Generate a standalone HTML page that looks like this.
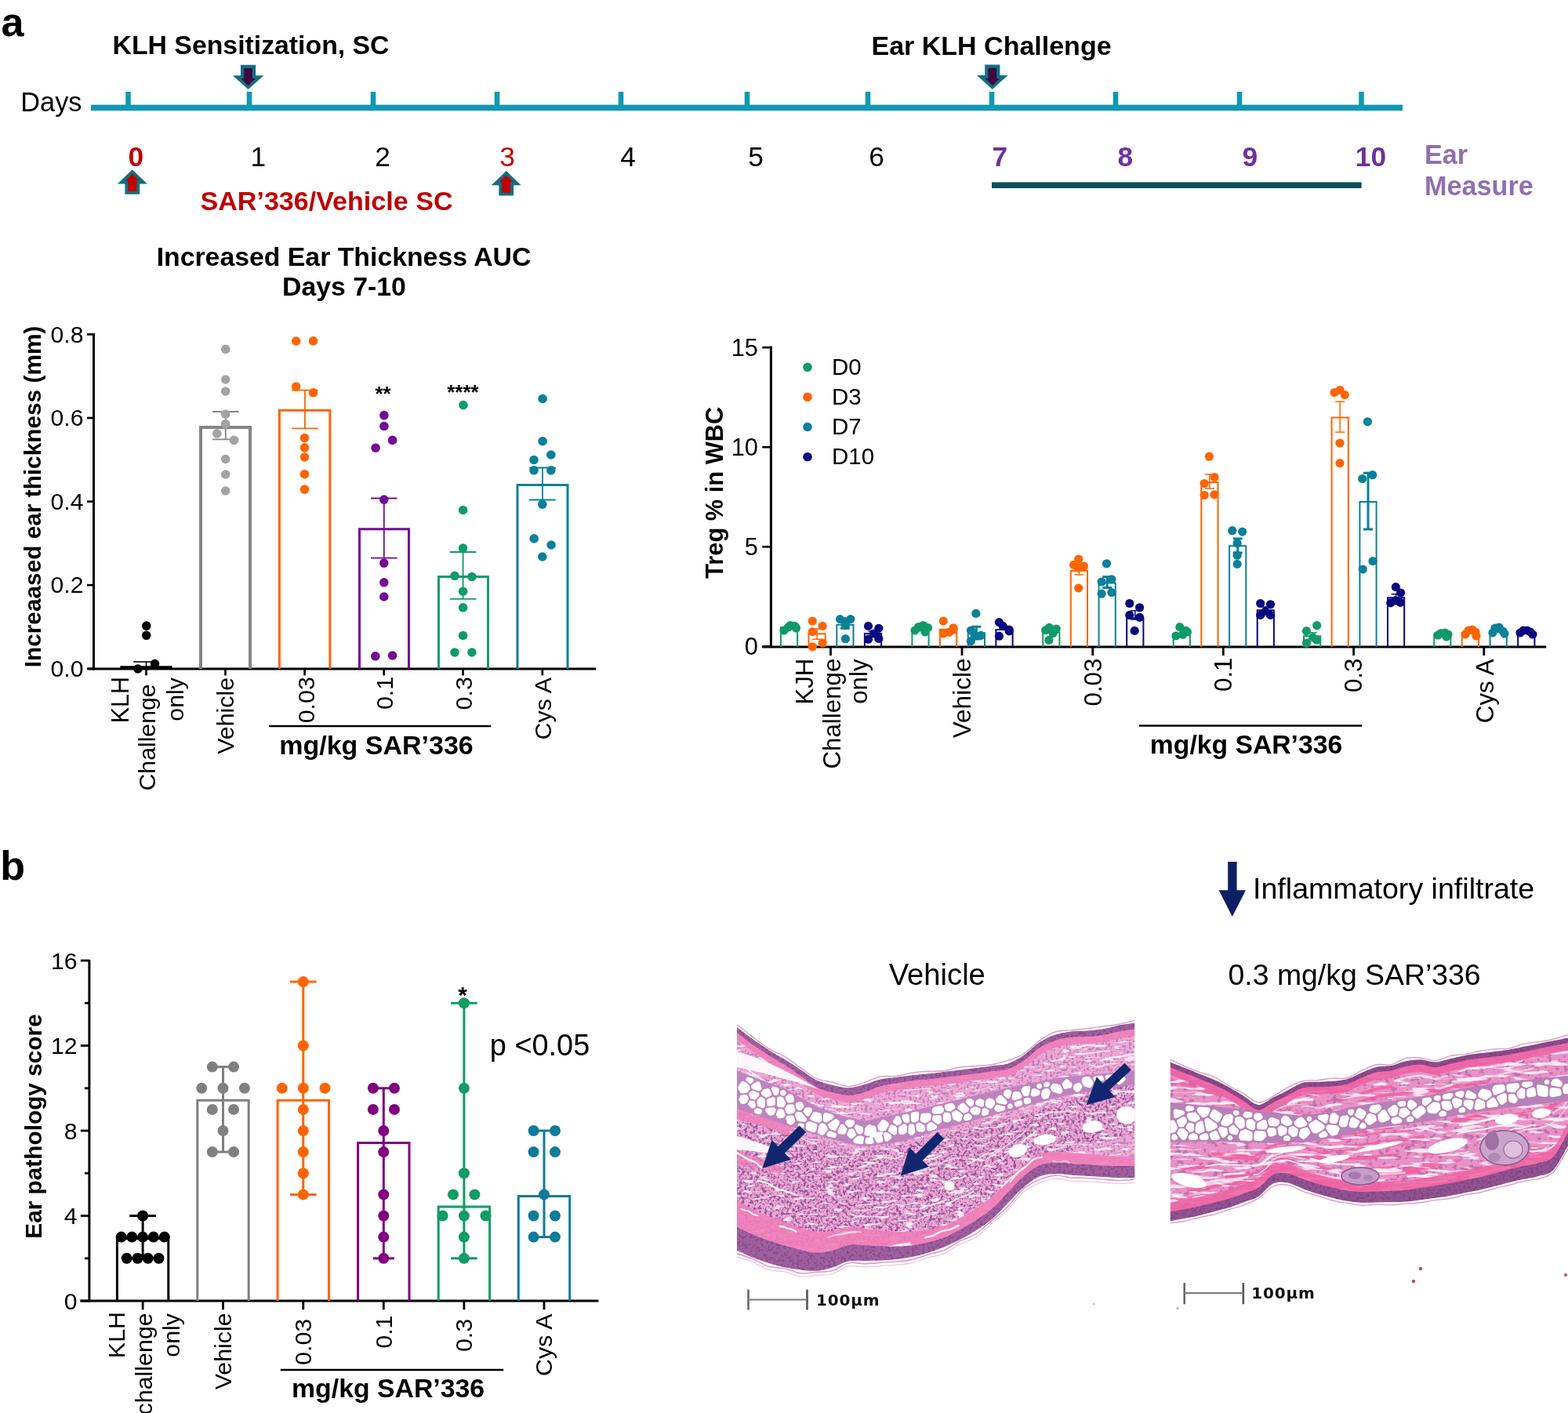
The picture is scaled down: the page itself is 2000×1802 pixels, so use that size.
<!DOCTYPE html>
<html><head><meta charset="utf-8"><title>Figure</title>
<style>
html,body{margin:0;padding:0;background:#fff;}
body{width:2000px;height:1802px;overflow:hidden;}
svg{display:block;font-family:'Liberation Sans', Arial, Helvetica, sans-serif;}
</style></head>
<body>
<svg width="2000" height="1802" viewBox="0 0 2000 1802">
<rect width="2000" height="1802" fill="#fff"/>
<text x="1.5" y="45.5" font-size="52" font-weight="bold" fill="#000" text-anchor="start" >a</text>
<text x="143.5" y="69.0" font-size="33.8" font-weight="bold" fill="#000" text-anchor="start" >KLH Sensitization, SC</text>
<text x="1111.5" y="69.5" font-size="34" font-weight="bold" fill="#000" text-anchor="start" >Ear KLH Challenge</text>
<text x="26.3" y="141.5" font-size="34.3" fill="#000" text-anchor="start" >Days</text>
<rect x="116.0" y="133.6" width="1673.0" height="7.6" fill="#1198b3"/>
<rect x="160.2" y="117.0" width="6.6" height="18.0" fill="#1198b3"/>
<rect x="314.7" y="117.0" width="6.6" height="18.0" fill="#1198b3"/>
<rect x="472.7" y="117.0" width="6.6" height="18.0" fill="#1198b3"/>
<rect x="630.7" y="117.0" width="6.6" height="18.0" fill="#1198b3"/>
<rect x="788.7" y="117.0" width="6.6" height="18.0" fill="#1198b3"/>
<rect x="949.7" y="117.0" width="6.6" height="18.0" fill="#1198b3"/>
<rect x="1103.7" y="117.0" width="6.6" height="18.0" fill="#1198b3"/>
<rect x="1261.7" y="117.0" width="6.6" height="18.0" fill="#1198b3"/>
<rect x="1419.7" y="117.0" width="6.6" height="18.0" fill="#1198b3"/>
<rect x="1577.7" y="117.0" width="6.6" height="18.0" fill="#1198b3"/>
<rect x="1733.2" y="117.0" width="6.6" height="18.0" fill="#1198b3"/>
<polygon points="307.0,82.7 326.2,82.7 326.2,96.2 336.4,96.2 316.6,114.0 296.8,96.2 307.0,96.2" fill="#146f80"/><polygon points="311.3,86.9 321.9,86.9 321.9,100.1 325.8,100.1 316.6,109.3 307.4,100.1 311.3,100.1" fill="#3e0840"/>
<polygon points="1256.2,82.6 1275.4,82.6 1275.4,96.1 1285.6,96.1 1265.8,113.9 1246.0,96.1 1256.2,96.1" fill="#146f80"/><polygon points="1260.5,86.8 1271.1,86.8 1271.1,100.0 1275.0,100.0 1265.8,109.2 1256.6,100.0 1260.5,100.0" fill="#3e0840"/>
<polygon points="168.8,216.2 187.8,234.5 178.2,234.5 178.2,247.8 159.4,247.8 159.4,234.5 149.8,234.5" fill="#146f80"/><polygon points="168.8,221.8 177.8,230.3 174.3,230.3 174.3,244.0 163.3,244.0 163.3,230.3 159.8,230.3" fill="#c00000"/>
<polygon points="645.7,218.0 664.7,236.3 655.1,236.3 655.1,249.6 636.3,249.6 636.3,236.3 626.7,236.3" fill="#146f80"/><polygon points="645.7,223.6 654.7,232.1 651.2,232.1 651.2,245.8 640.2,245.8 640.2,232.1 636.7,232.1" fill="#c00000"/>
<text x="173.3" y="211.8" font-size="35.3" font-weight="bold" fill="#c00000" text-anchor="middle" >0</text>
<text x="329.3" y="211.8" font-size="35.3" fill="#000" text-anchor="middle" >1</text>
<text x="488.0" y="211.8" font-size="35.3" fill="#000" text-anchor="middle" >2</text>
<text x="647.0" y="211.8" font-size="35.3" fill="#c00000" text-anchor="middle" >3</text>
<text x="801.0" y="211.8" font-size="35.3" fill="#000" text-anchor="middle" >4</text>
<text x="964.0" y="211.8" font-size="35.3" fill="#000" text-anchor="middle" >5</text>
<text x="1118.0" y="211.8" font-size="35.3" fill="#000" text-anchor="middle" >6</text>
<text x="1275.3" y="211.8" font-size="35.3" font-weight="bold" fill="#7030a0" text-anchor="middle" >7</text>
<text x="1435.2" y="211.8" font-size="35.3" font-weight="bold" fill="#7030a0" text-anchor="middle" >8</text>
<text x="1594.2" y="211.8" font-size="35.3" font-weight="bold" fill="#7030a0" text-anchor="middle" >9</text>
<text x="1748.5" y="211.8" font-size="35.3" font-weight="bold" fill="#7030a0" text-anchor="middle" >10</text>
<text x="255.5" y="268.0" font-size="34.1" font-weight="bold" fill="#c00000" text-anchor="start" >SAR’336/Vehicle SC</text>
<rect x="1265.0" y="232.4" width="471.6" height="7.6" fill="#0b4d5a"/>
<text x="1817.0" y="208.7" font-size="34.2" font-weight="bold" fill="#9070b0" text-anchor="start" >Ear</text>
<text x="1817.0" y="249.2" font-size="34.2" font-weight="bold" fill="#9070b0" text-anchor="start" >Measure</text>
<text x="438.5" y="339.4" font-size="33.8" font-weight="bold" fill="#000" text-anchor="middle" >Increased Ear Thickness AUC</text>
<text x="439.0" y="377.0" font-size="33.8" font-weight="bold" fill="#000" text-anchor="middle" >Days 7-10</text>
<line x1="119.5" y1="425.0" x2="119.5" y2="854.5" stroke="#000" stroke-width="3"/>
<line x1="111.4" y1="853.0" x2="760.2" y2="853.0" stroke="#000" stroke-width="3"/>
<line x1="111.0" y1="426.4" x2="119.5" y2="426.4" stroke="#000" stroke-width="2.7"/>
<text x="106.5" y="436.6" font-size="30.2" fill="#000" text-anchor="end" >0.8</text>
<line x1="111.0" y1="533.0" x2="119.5" y2="533.0" stroke="#000" stroke-width="2.7"/>
<text x="106.5" y="543.2" font-size="30.2" fill="#000" text-anchor="end" >0.6</text>
<line x1="111.0" y1="639.6" x2="119.5" y2="639.6" stroke="#000" stroke-width="2.7"/>
<text x="106.5" y="649.8" font-size="30.2" fill="#000" text-anchor="end" >0.4</text>
<line x1="111.0" y1="746.2" x2="119.5" y2="746.2" stroke="#000" stroke-width="2.7"/>
<text x="106.5" y="756.4" font-size="30.2" fill="#000" text-anchor="end" >0.2</text>
<line x1="111.0" y1="852.8" x2="119.5" y2="852.8" stroke="#000" stroke-width="2.7"/>
<text x="106.5" y="863.0" font-size="30.2" fill="#000" text-anchor="end" >0.0</text>
<text transform="translate(51.9,633.5) rotate(-90)" font-size="29.8" font-weight="bold" fill="#000" text-anchor="middle">Increaased ear thickness (mm)</text>
<line x1="186.5" y1="853.0" x2="186.5" y2="861.4" stroke="#000" stroke-width="2.7"/>
<line x1="287.5" y1="853.0" x2="287.5" y2="861.4" stroke="#000" stroke-width="2.7"/>
<line x1="388.6" y1="853.0" x2="388.6" y2="861.4" stroke="#000" stroke-width="2.7"/>
<line x1="489.7" y1="853.0" x2="489.7" y2="861.4" stroke="#000" stroke-width="2.7"/>
<line x1="590.5" y1="853.0" x2="590.5" y2="861.4" stroke="#000" stroke-width="2.7"/>
<line x1="691.8" y1="853.0" x2="691.8" y2="861.4" stroke="#000" stroke-width="2.7"/>
<line x1="153.3" y1="850.7" x2="219.6" y2="850.7" stroke="#000" stroke-width="3"/>
<line x1="186.5" y1="844.0" x2="186.5" y2="851.0" stroke="#000" stroke-width="1.6"/>
<line x1="170.2" y1="844.0" x2="193.0" y2="844.0" stroke="#000" stroke-width="1.6"/>
<circle cx="186.7" cy="798.1" r="5.8" fill="#000"/>
<circle cx="186.7" cy="810.3" r="5.8" fill="#000"/>
<circle cx="197.5" cy="846.5" r="5.8" fill="#000"/>
<circle cx="175.8" cy="853.0" r="5.8" fill="#000"/>
<path d="M256.0,853 V545.0 H319.0 V853" fill="none" stroke="#858585" stroke-width="4"/><line x1="287.8" y1="525.0" x2="287.8" y2="560.4" stroke="#858585" stroke-width="1.8"/><line x1="271.0" y1="525.0" x2="304.6" y2="525.0" stroke="#858585" stroke-width="1.8"/><line x1="271.0" y1="560.4" x2="304.6" y2="560.4" stroke="#858585" stroke-width="1.8"/>
<circle cx="287.7" cy="445.4" r="5.8" fill="#a2a2a7"/>
<circle cx="287.7" cy="484.0" r="5.8" fill="#a2a2a7"/>
<circle cx="287.7" cy="499.0" r="5.8" fill="#a2a2a7"/>
<circle cx="287.7" cy="528.2" r="5.8" fill="#a2a2a7"/>
<circle cx="287.7" cy="540.6" r="5.8" fill="#a2a2a7"/>
<circle cx="276.8" cy="552.9" r="5.8" fill="#a2a2a7"/>
<circle cx="298.5" cy="561.4" r="5.8" fill="#a2a2a7"/>
<circle cx="287.7" cy="585.5" r="5.8" fill="#a2a2a7"/>
<circle cx="287.7" cy="605.0" r="5.8" fill="#a2a2a7"/>
<circle cx="287.7" cy="626.0" r="5.8" fill="#a2a2a7"/>
<path d="M356.4,853 V523.3 H420.9 V853" fill="none" stroke="#ff6400" stroke-width="3"/><line x1="388.9" y1="497.6" x2="388.9" y2="546.4" stroke="#ff6400" stroke-width="1.8"/><line x1="372.0" y1="497.6" x2="405.8" y2="497.6" stroke="#ff6400" stroke-width="1.8"/><line x1="372.0" y1="546.4" x2="405.8" y2="546.4" stroke="#ff6400" stroke-width="1.8"/>
<circle cx="377.7" cy="435.0" r="5.8" fill="#ff6400"/>
<circle cx="399.5" cy="434.8" r="5.8" fill="#ff6400"/>
<circle cx="377.7" cy="493.0" r="5.8" fill="#ff6400"/>
<circle cx="399.5" cy="500.8" r="5.8" fill="#ff6400"/>
<circle cx="388.5" cy="558.5" r="5.8" fill="#ff6400"/>
<circle cx="388.5" cy="570.9" r="5.8" fill="#ff6400"/>
<circle cx="388.5" cy="583.0" r="5.8" fill="#ff6400"/>
<circle cx="388.5" cy="604.7" r="5.8" fill="#ff6400"/>
<circle cx="388.5" cy="624.1" r="5.8" fill="#ff6400"/>
<path d="M458.5,853 V674.8 H521.5 V853" fill="none" stroke="#740a98" stroke-width="3"/><line x1="489.8" y1="635.5" x2="489.8" y2="711.6" stroke="#740a98" stroke-width="1.8"/><line x1="473.0" y1="635.5" x2="506.6" y2="635.5" stroke="#740a98" stroke-width="1.8"/><line x1="473.0" y1="711.6" x2="506.6" y2="711.6" stroke="#740a98" stroke-width="1.8"/>
<circle cx="489.9" cy="529.6" r="5.8" fill="#740a98"/>
<circle cx="489.9" cy="543.5" r="5.8" fill="#740a98"/>
<circle cx="500.6" cy="561.4" r="5.8" fill="#740a98"/>
<circle cx="479.1" cy="571.2" r="5.8" fill="#740a98"/>
<circle cx="489.8" cy="637.1" r="5.8" fill="#740a98"/>
<circle cx="489.8" cy="718.1" r="5.8" fill="#740a98"/>
<circle cx="489.8" cy="742.8" r="5.8" fill="#740a98"/>
<circle cx="489.8" cy="761.0" r="5.8" fill="#740a98"/>
<circle cx="478.8" cy="836.8" r="5.8" fill="#740a98"/>
<circle cx="500.6" cy="836.0" r="5.8" fill="#740a98"/>
<text x="488.5" y="511.0" font-size="26" font-weight="bold" fill="#000" text-anchor="middle" >**</text>
<path d="M559.5,853 V735.5 H622.5 V853" fill="none" stroke="#109c68" stroke-width="3"/><line x1="590.6" y1="704.0" x2="590.6" y2="763.9" stroke="#109c68" stroke-width="1.8"/><line x1="573.8" y1="704.0" x2="607.4" y2="704.0" stroke="#109c68" stroke-width="1.8"/><line x1="573.8" y1="763.9" x2="607.4" y2="763.9" stroke="#109c68" stroke-width="1.8"/>
<circle cx="590.9" cy="516.6" r="5.8" fill="#109c68"/>
<circle cx="590.6" cy="650.5" r="5.8" fill="#109c68"/>
<circle cx="590.6" cy="699.0" r="5.8" fill="#109c68"/>
<circle cx="580.0" cy="734.3" r="5.8" fill="#109c68"/>
<circle cx="601.9" cy="735.5" r="5.8" fill="#109c68"/>
<circle cx="590.6" cy="754.2" r="5.8" fill="#109c68"/>
<circle cx="590.6" cy="774.8" r="5.8" fill="#109c68"/>
<circle cx="590.6" cy="810.5" r="5.8" fill="#109c68"/>
<circle cx="580.0" cy="832.0" r="5.8" fill="#109c68"/>
<circle cx="601.9" cy="832.0" r="5.8" fill="#109c68"/>
<text x="590.5" y="509.0" font-size="26" font-weight="bold" fill="#000" text-anchor="middle" >****</text>
<path d="M660.0,853 V618.5 H724.0 V853" fill="none" stroke="#0b8099" stroke-width="3"/><line x1="692.0" y1="596.5" x2="692.0" y2="637.5" stroke="#0b8099" stroke-width="1.8"/><line x1="675.1" y1="596.5" x2="708.9" y2="596.5" stroke="#0b8099" stroke-width="1.8"/><line x1="675.1" y1="637.5" x2="708.9" y2="637.5" stroke="#0b8099" stroke-width="1.8"/>
<circle cx="692.1" cy="508.5" r="5.8" fill="#0b8099"/>
<circle cx="692.1" cy="562.7" r="5.8" fill="#0b8099"/>
<circle cx="681.0" cy="586.5" r="5.8" fill="#0b8099"/>
<circle cx="702.8" cy="580.0" r="5.8" fill="#0b8099"/>
<circle cx="681.0" cy="599.8" r="5.8" fill="#0b8099"/>
<circle cx="702.8" cy="599.8" r="5.8" fill="#0b8099"/>
<circle cx="691.8" cy="643.2" r="5.8" fill="#0b8099"/>
<circle cx="681.2" cy="686.9" r="5.8" fill="#0b8099"/>
<circle cx="703.1" cy="695.0" r="5.8" fill="#0b8099"/>
<circle cx="691.8" cy="710.0" r="5.8" fill="#0b8099"/>
<text transform="translate(164.2,862.8) rotate(-90)" font-size="30.6" fill="#000" text-anchor="end">KLH</text>
<text transform="translate(198.2,872.5) rotate(-90)" font-size="30.2" fill="#000" text-anchor="end">Challenge</text>
<text transform="translate(233.5,864.0) rotate(-90)" font-size="30.4" fill="#000" text-anchor="end">only</text>
<text transform="translate(298.3,863.8) rotate(-90)" font-size="30.4" fill="#000" text-anchor="end">Vehicle</text>
<text transform="translate(400.7,863.2) rotate(-90)" font-size="30.4" fill="#000" text-anchor="end">0.03</text>
<text transform="translate(501.2,862.8) rotate(-90)" font-size="30.4" fill="#000" text-anchor="end">0.1</text>
<text transform="translate(602.2,863.2) rotate(-90)" font-size="30.4" fill="#000" text-anchor="end">0.3</text>
<text transform="translate(703.0,864.0) rotate(-90)" font-size="30.4" fill="#000" text-anchor="end">Cys A</text>
<line x1="343.0" y1="926.0" x2="626.2" y2="926.0" stroke="#000" stroke-width="2.5"/>
<text x="480.0" y="961.7" font-size="34" font-weight="bold" fill="#000" text-anchor="middle" >mg/kg SAR’336</text>
<line x1="983.4" y1="441.5" x2="983.4" y2="826.0" stroke="#000" stroke-width="3"/>
<line x1="972.3" y1="825.0" x2="1972.2" y2="825.0" stroke="#000" stroke-width="3"/>
<line x1="972.3" y1="443.1" x2="983.4" y2="443.1" stroke="#000" stroke-width="2.7"/>
<text x="967.0" y="453.6" font-size="30.8" fill="#000" text-anchor="end" >15</text>
<line x1="972.3" y1="570.2" x2="983.4" y2="570.2" stroke="#000" stroke-width="2.7"/>
<text x="967.0" y="580.7" font-size="30.8" fill="#000" text-anchor="end" >10</text>
<line x1="972.3" y1="697.3" x2="983.4" y2="697.3" stroke="#000" stroke-width="2.7"/>
<text x="967.0" y="707.8" font-size="30.8" fill="#000" text-anchor="end" >5</text>
<line x1="972.3" y1="824.4" x2="983.4" y2="824.4" stroke="#000" stroke-width="2.7"/>
<text x="967.0" y="834.9" font-size="30.8" fill="#000" text-anchor="end" >0</text>
<text transform="translate(922.0,628.3) rotate(-90)" font-size="30.8" font-weight="bold" fill="#000" text-anchor="middle">Treg % in WBC</text>
<circle cx="1030.0" cy="468.3" r="5.8" fill="#109a68"/>
<text x="1061.0" y="477.9" font-size="29.5" fill="#000" text-anchor="start" >D0</text>
<circle cx="1030.0" cy="506.4" r="5.8" fill="#ff6400"/>
<text x="1061.0" y="516.2" font-size="29.5" fill="#000" text-anchor="start" >D3</text>
<circle cx="1030.0" cy="544.5" r="5.8" fill="#0b8099"/>
<text x="1061.0" y="554.0" font-size="29.5" fill="#000" text-anchor="start" >D7</text>
<circle cx="1030.0" cy="582.7" r="5.8" fill="#08087e"/>
<text x="1061.0" y="592.3" font-size="29.5" fill="#000" text-anchor="start" >D10</text>
<line x1="1059.5" y1="825.0" x2="1059.5" y2="836.0" stroke="#000" stroke-width="2.8"/>
<line x1="1227.0" y1="825.0" x2="1227.0" y2="836.0" stroke="#000" stroke-width="2.8"/>
<line x1="1393.8" y1="825.0" x2="1393.8" y2="836.0" stroke="#000" stroke-width="2.8"/>
<line x1="1560.3" y1="825.0" x2="1560.3" y2="836.0" stroke="#000" stroke-width="2.8"/>
<line x1="1726.6" y1="825.0" x2="1726.6" y2="836.0" stroke="#000" stroke-width="2.8"/>
<line x1="1892.8" y1="825.0" x2="1892.8" y2="836.0" stroke="#000" stroke-width="2.8"/>
<path d="M995.9,825 V800.0 H1017.1 V825" fill="none" stroke="#109a68" stroke-width="2"/>
<circle cx="1000.0" cy="804.0" r="5.6" fill="#109a68"/>
<circle cx="1005.5" cy="800.0" r="5.6" fill="#109a68"/>
<circle cx="1008.0" cy="797.5" r="5.6" fill="#109a68"/>
<circle cx="1013.6" cy="798.4" r="5.6" fill="#109a68"/>
<circle cx="1015.5" cy="801.0" r="5.6" fill="#109a68"/>
<path d="M1031.5,825 V808.3 H1052.7 V825" fill="none" stroke="#ff6400" stroke-width="2"/>
<line x1="1042.1" y1="802.0" x2="1042.1" y2="815.2" stroke="#ff6400" stroke-width="1.5"/>
<line x1="1036.1" y1="802.0" x2="1048.1" y2="802.0" stroke="#ff6400" stroke-width="1.5"/>
<line x1="1036.1" y1="815.2" x2="1048.1" y2="815.2" stroke="#ff6400" stroke-width="1.5"/>
<circle cx="1036.3" cy="792.0" r="5.6" fill="#ff6400"/>
<circle cx="1049.1" cy="798.4" r="5.6" fill="#ff6400"/>
<circle cx="1036.3" cy="805.6" r="5.6" fill="#ff6400"/>
<circle cx="1049.1" cy="820.0" r="5.6" fill="#ff6400"/>
<circle cx="1036.3" cy="824.8" r="5.6" fill="#ff6400"/>
<path d="M1067.3,825 V796.8 H1088.5 V825" fill="none" stroke="#0b8099" stroke-width="2"/>
<line x1="1077.9" y1="790.5" x2="1077.9" y2="801.3" stroke="#0b8099" stroke-width="3"/>
<line x1="1071.9" y1="790.5" x2="1083.9" y2="790.5" stroke="#0b8099" stroke-width="3"/>
<line x1="1071.9" y1="801.3" x2="1083.9" y2="801.3" stroke="#0b8099" stroke-width="3"/>
<circle cx="1071.5" cy="789.6" r="5.6" fill="#0b8099"/>
<circle cx="1084.8" cy="789.6" r="5.6" fill="#0b8099"/>
<circle cx="1078.4" cy="792.5" r="5.6" fill="#0b8099"/>
<circle cx="1078.4" cy="797.0" r="5.6" fill="#0b8099"/>
<circle cx="1078.4" cy="814.7" r="5.6" fill="#0b8099"/>
<path d="M1102.9,825 V808.0 H1124.1 V825" fill="none" stroke="#08087e" stroke-width="2"/>
<line x1="1113.5" y1="805.0" x2="1113.5" y2="811.0" stroke="#08087e" stroke-width="1.5"/>
<line x1="1107.5" y1="805.0" x2="1119.5" y2="805.0" stroke="#08087e" stroke-width="1.5"/>
<line x1="1107.5" y1="811.0" x2="1119.5" y2="811.0" stroke="#08087e" stroke-width="1.5"/>
<circle cx="1107.5" cy="798.4" r="5.6" fill="#08087e"/>
<circle cx="1120.8" cy="801.3" r="5.6" fill="#08087e"/>
<circle cx="1107.5" cy="815.2" r="5.6" fill="#08087e"/>
<circle cx="1120.8" cy="814.4" r="5.6" fill="#08087e"/>
<circle cx="1114.4" cy="808.0" r="5.6" fill="#08087e"/>
<path d="M1163.4,825 V804.4 H1184.6 V825" fill="none" stroke="#109a68" stroke-width="2"/>
<circle cx="1167.0" cy="804.0" r="5.6" fill="#109a68"/>
<circle cx="1171.5" cy="799.5" r="5.6" fill="#109a68"/>
<circle cx="1177.5" cy="797.5" r="5.6" fill="#109a68"/>
<circle cx="1183.5" cy="800.5" r="5.6" fill="#109a68"/>
<circle cx="1180.0" cy="806.0" r="5.6" fill="#109a68"/>
<path d="M1199.0,825 V802.8 H1220.2 V825" fill="none" stroke="#ff6400" stroke-width="2"/>
<circle cx="1203.2" cy="792.0" r="5.6" fill="#ff6400"/>
<circle cx="1216.0" cy="800.8" r="5.6" fill="#ff6400"/>
<circle cx="1203.2" cy="808.0" r="5.6" fill="#ff6400"/>
<circle cx="1210.4" cy="806.4" r="5.6" fill="#ff6400"/>
<circle cx="1216.0" cy="803.0" r="5.6" fill="#ff6400"/>
<path d="M1234.8,825 V807.2 H1256.0 V825" fill="none" stroke="#0b8099" stroke-width="2"/>
<line x1="1245.4" y1="799.2" x2="1245.4" y2="815.0" stroke="#0b8099" stroke-width="3"/>
<line x1="1239.4" y1="799.2" x2="1251.4" y2="799.2" stroke="#0b8099" stroke-width="3"/>
<line x1="1239.4" y1="815.0" x2="1251.4" y2="815.0" stroke="#0b8099" stroke-width="3"/>
<circle cx="1244.8" cy="782.4" r="5.6" fill="#0b8099"/>
<circle cx="1238.4" cy="804.0" r="5.6" fill="#0b8099"/>
<circle cx="1251.2" cy="810.4" r="5.6" fill="#0b8099"/>
<circle cx="1238.4" cy="817.6" r="5.6" fill="#0b8099"/>
<circle cx="1243.2" cy="809.6" r="5.6" fill="#0b8099"/>
<path d="M1270.4,825 V802.9 H1291.6 V825" fill="none" stroke="#08087e" stroke-width="2"/>
<circle cx="1274.4" cy="793.6" r="5.6" fill="#08087e"/>
<circle cx="1279.2" cy="798.4" r="5.6" fill="#08087e"/>
<circle cx="1287.2" cy="803.2" r="5.6" fill="#08087e"/>
<circle cx="1274.4" cy="811.2" r="5.6" fill="#08087e"/>
<circle cx="1287.2" cy="804.8" r="5.6" fill="#08087e"/>
<path d="M1330.2,825 V806.8 H1351.4 V825" fill="none" stroke="#109a68" stroke-width="2"/>
<circle cx="1333.6" cy="803.6" r="5.6" fill="#109a68"/>
<circle cx="1338.4" cy="800.4" r="5.6" fill="#109a68"/>
<circle cx="1347.2" cy="802.0" r="5.6" fill="#109a68"/>
<circle cx="1343.2" cy="807.6" r="5.6" fill="#109a68"/>
<circle cx="1337.9" cy="816.4" r="5.6" fill="#109a68"/>
<path d="M1365.8,825 V727.9 H1387.0 V825" fill="none" stroke="#ff6400" stroke-width="2"/>
<line x1="1376.4" y1="722.0" x2="1376.4" y2="732.9" stroke="#ff6400" stroke-width="1.5"/>
<line x1="1370.4" y1="722.0" x2="1382.4" y2="722.0" stroke="#ff6400" stroke-width="1.5"/>
<line x1="1370.4" y1="732.9" x2="1382.4" y2="732.9" stroke="#ff6400" stroke-width="1.5"/>
<circle cx="1375.7" cy="713.2" r="5.6" fill="#ff6400"/>
<circle cx="1369.6" cy="720.4" r="5.6" fill="#ff6400"/>
<circle cx="1382.4" cy="722.0" r="5.6" fill="#ff6400"/>
<circle cx="1375.7" cy="724.4" r="5.6" fill="#ff6400"/>
<circle cx="1375.7" cy="750.0" r="5.6" fill="#ff6400"/>
<path d="M1401.6,825 V743.6 H1422.8 V825" fill="none" stroke="#0b8099" stroke-width="2"/>
<line x1="1412.2" y1="735.6" x2="1412.2" y2="749.5" stroke="#0b8099" stroke-width="3"/>
<line x1="1406.2" y1="735.6" x2="1418.2" y2="735.6" stroke="#0b8099" stroke-width="3"/>
<line x1="1406.2" y1="749.5" x2="1418.2" y2="749.5" stroke="#0b8099" stroke-width="3"/>
<circle cx="1411.5" cy="718.8" r="5.6" fill="#0b8099"/>
<circle cx="1405.1" cy="742.0" r="5.6" fill="#0b8099"/>
<circle cx="1417.9" cy="738.8" r="5.6" fill="#0b8099"/>
<circle cx="1405.1" cy="757.2" r="5.6" fill="#0b8099"/>
<circle cx="1417.9" cy="755.6" r="5.6" fill="#0b8099"/>
<path d="M1437.2,825 V788.4 H1458.4 V825" fill="none" stroke="#08087e" stroke-width="2"/>
<line x1="1447.8" y1="778.8" x2="1447.8" y2="790.0" stroke="#08087e" stroke-width="1.5"/>
<line x1="1441.8" y1="778.8" x2="1453.8" y2="778.8" stroke="#08087e" stroke-width="1.5"/>
<line x1="1441.8" y1="790.0" x2="1453.8" y2="790.0" stroke="#08087e" stroke-width="1.5"/>
<circle cx="1440.8" cy="769.5" r="5.6" fill="#08087e"/>
<circle cx="1453.6" cy="774.8" r="5.6" fill="#08087e"/>
<circle cx="1440.8" cy="784.4" r="5.6" fill="#08087e"/>
<circle cx="1453.6" cy="787.3" r="5.6" fill="#08087e"/>
<circle cx="1447.2" cy="804.4" r="5.6" fill="#08087e"/>
<path d="M1496.7,825 V808.4 H1517.9 V825" fill="none" stroke="#109a68" stroke-width="2"/>
<circle cx="1504.8" cy="799.6" r="5.6" fill="#109a68"/>
<circle cx="1512.8" cy="804.4" r="5.6" fill="#109a68"/>
<circle cx="1500.0" cy="810.8" r="5.6" fill="#109a68"/>
<circle cx="1508.8" cy="809.2" r="5.6" fill="#109a68"/>
<circle cx="1514.4" cy="806.0" r="5.6" fill="#109a68"/>
<path d="M1532.3,825 V615.1 H1553.5 V825" fill="none" stroke="#ff6400" stroke-width="2"/>
<line x1="1542.9" y1="604.9" x2="1542.9" y2="623.1" stroke="#ff6400" stroke-width="1.5"/>
<line x1="1536.9" y1="604.9" x2="1548.9" y2="604.9" stroke="#ff6400" stroke-width="1.5"/>
<line x1="1536.9" y1="623.1" x2="1548.9" y2="623.1" stroke="#ff6400" stroke-width="1.5"/>
<circle cx="1542.4" cy="582.2" r="5.6" fill="#ff6400"/>
<circle cx="1549.0" cy="608.5" r="5.6" fill="#ff6400"/>
<circle cx="1536.1" cy="616.5" r="5.6" fill="#ff6400"/>
<circle cx="1536.1" cy="631.5" r="5.6" fill="#ff6400"/>
<circle cx="1549.0" cy="630.8" r="5.6" fill="#ff6400"/>
<path d="M1568.1,825 V696.3 H1589.3 V825" fill="none" stroke="#0b8099" stroke-width="2"/>
<line x1="1578.7" y1="686.9" x2="1578.7" y2="705.0" stroke="#0b8099" stroke-width="3"/>
<line x1="1572.7" y1="686.9" x2="1584.7" y2="686.9" stroke="#0b8099" stroke-width="3"/>
<line x1="1572.7" y1="705.0" x2="1584.7" y2="705.0" stroke="#0b8099" stroke-width="3"/>
<circle cx="1571.8" cy="676.7" r="5.6" fill="#0b8099"/>
<circle cx="1584.7" cy="678.1" r="5.6" fill="#0b8099"/>
<circle cx="1578.1" cy="692.8" r="5.6" fill="#0b8099"/>
<circle cx="1578.1" cy="708.2" r="5.6" fill="#0b8099"/>
<circle cx="1578.1" cy="719.4" r="5.6" fill="#0b8099"/>
<path d="M1603.7,825 V778.3 H1624.9 V825" fill="none" stroke="#08087e" stroke-width="2"/>
<line x1="1614.3" y1="774.0" x2="1614.3" y2="783.0" stroke="#08087e" stroke-width="1.5"/>
<line x1="1608.3" y1="774.0" x2="1620.3" y2="774.0" stroke="#08087e" stroke-width="1.5"/>
<line x1="1608.3" y1="783.0" x2="1620.3" y2="783.0" stroke="#08087e" stroke-width="1.5"/>
<circle cx="1607.7" cy="769.5" r="5.6" fill="#08087e"/>
<circle cx="1620.5" cy="770.8" r="5.6" fill="#08087e"/>
<circle cx="1607.7" cy="784.4" r="5.6" fill="#08087e"/>
<circle cx="1620.5" cy="784.4" r="5.6" fill="#08087e"/>
<circle cx="1614.0" cy="779.6" r="5.6" fill="#08087e"/>
<path d="M1663.0,825 V811.3 H1684.2 V825" fill="none" stroke="#109a68" stroke-width="2"/>
<line x1="1673.6" y1="806.8" x2="1673.6" y2="815.0" stroke="#109a68" stroke-width="1.5"/>
<line x1="1667.6" y1="806.8" x2="1679.6" y2="806.8" stroke="#109a68" stroke-width="1.5"/>
<line x1="1667.6" y1="815.0" x2="1679.6" y2="815.0" stroke="#109a68" stroke-width="1.5"/>
<circle cx="1679.7" cy="797.6" r="5.6" fill="#109a68"/>
<circle cx="1666.5" cy="804.7" r="5.6" fill="#109a68"/>
<circle cx="1674.7" cy="812.9" r="5.6" fill="#109a68"/>
<circle cx="1679.7" cy="816.2" r="5.6" fill="#109a68"/>
<circle cx="1666.5" cy="820.3" r="5.6" fill="#109a68"/>
<path d="M1698.6,825 V532.5 H1719.8 V825" fill="none" stroke="#ff6400" stroke-width="2"/>
<line x1="1709.2" y1="512.2" x2="1709.2" y2="551.1" stroke="#ff6400" stroke-width="1.5"/>
<line x1="1703.2" y1="512.2" x2="1715.2" y2="512.2" stroke="#ff6400" stroke-width="1.5"/>
<line x1="1703.2" y1="551.1" x2="1715.2" y2="551.1" stroke="#ff6400" stroke-width="1.5"/>
<circle cx="1702.0" cy="500.6" r="5.6" fill="#ff6400"/>
<circle cx="1709.0" cy="497.5" r="5.6" fill="#ff6400"/>
<circle cx="1715.3" cy="503.5" r="5.6" fill="#ff6400"/>
<circle cx="1709.0" cy="565.0" r="5.6" fill="#ff6400"/>
<circle cx="1709.0" cy="590.6" r="5.6" fill="#ff6400"/>
<path d="M1734.4,825 V639.9 H1755.6 V825" fill="none" stroke="#0b8099" stroke-width="2"/>
<line x1="1745.0" y1="603.2" x2="1745.0" y2="675.0" stroke="#0b8099" stroke-width="3"/>
<line x1="1739.0" y1="603.2" x2="1751.0" y2="603.2" stroke="#0b8099" stroke-width="3"/>
<line x1="1739.0" y1="675.0" x2="1751.0" y2="675.0" stroke="#0b8099" stroke-width="3"/>
<circle cx="1744.4" cy="537.8" r="5.6" fill="#0b8099"/>
<circle cx="1737.7" cy="610.5" r="5.6" fill="#0b8099"/>
<circle cx="1750.7" cy="605.7" r="5.6" fill="#0b8099"/>
<circle cx="1751.0" cy="715.6" r="5.6" fill="#0b8099"/>
<circle cx="1738.3" cy="726.0" r="5.6" fill="#0b8099"/>
<path d="M1770.0,825 V762.3 H1791.2 V825" fill="none" stroke="#08087e" stroke-width="2"/>
<line x1="1780.6" y1="757.6" x2="1780.6" y2="766.0" stroke="#08087e" stroke-width="1.5"/>
<line x1="1774.6" y1="757.6" x2="1786.6" y2="757.6" stroke="#08087e" stroke-width="1.5"/>
<line x1="1774.6" y1="766.0" x2="1786.6" y2="766.0" stroke="#08087e" stroke-width="1.5"/>
<circle cx="1780.3" cy="748.6" r="5.6" fill="#08087e"/>
<circle cx="1786.6" cy="756.0" r="5.6" fill="#08087e"/>
<circle cx="1773.7" cy="768.9" r="5.6" fill="#08087e"/>
<circle cx="1786.1" cy="768.4" r="5.6" fill="#08087e"/>
<circle cx="1780.3" cy="765.9" r="5.6" fill="#08087e"/>
<path d="M1829.2,825 V810.0 H1850.4 V825" fill="none" stroke="#109a68" stroke-width="2"/>
<circle cx="1834.0" cy="810.0" r="5.6" fill="#109a68"/>
<circle cx="1838.0" cy="807.5" r="5.6" fill="#109a68"/>
<circle cx="1843.0" cy="807.0" r="5.6" fill="#109a68"/>
<circle cx="1847.0" cy="809.0" r="5.6" fill="#109a68"/>
<circle cx="1845.0" cy="812.0" r="5.6" fill="#109a68"/>
<path d="M1864.8,825 V808.0 H1886.0 V825" fill="none" stroke="#ff6400" stroke-width="2"/>
<circle cx="1869.0" cy="809.0" r="5.6" fill="#ff6400"/>
<circle cx="1873.0" cy="804.0" r="5.6" fill="#ff6400"/>
<circle cx="1878.0" cy="803.0" r="5.6" fill="#ff6400"/>
<circle cx="1882.0" cy="806.0" r="5.6" fill="#ff6400"/>
<circle cx="1883.0" cy="811.0" r="5.6" fill="#ff6400"/>
<path d="M1900.6,825 V806.0 H1921.8 V825" fill="none" stroke="#0b8099" stroke-width="2"/>
<circle cx="1904.0" cy="807.0" r="5.6" fill="#0b8099"/>
<circle cx="1907.0" cy="801.0" r="5.6" fill="#0b8099"/>
<circle cx="1912.0" cy="800.0" r="5.6" fill="#0b8099"/>
<circle cx="1917.0" cy="805.0" r="5.6" fill="#0b8099"/>
<circle cx="1919.0" cy="808.0" r="5.6" fill="#0b8099"/>
<path d="M1936.2,825 V808.0 H1957.4 V825" fill="none" stroke="#08087e" stroke-width="2"/>
<circle cx="1939.0" cy="807.0" r="5.6" fill="#08087e"/>
<circle cx="1943.0" cy="804.0" r="5.6" fill="#08087e"/>
<circle cx="1948.0" cy="804.0" r="5.6" fill="#08087e"/>
<circle cx="1952.0" cy="806.0" r="5.6" fill="#08087e"/>
<circle cx="1955.0" cy="809.0" r="5.6" fill="#08087e"/>
<text transform="translate(1036.6,839.6) rotate(-90)" font-size="31.2" fill="#000" text-anchor="end">KJH</text>
<text transform="translate(1071.9,839.6) rotate(-90)" font-size="31.3" fill="#000" text-anchor="end">Challenge</text>
<text transform="translate(1106.3,840.4) rotate(-90)" font-size="31.3" fill="#000" text-anchor="end">only</text>
<text transform="translate(1237.5,839.4) rotate(-90)" font-size="31.6" fill="#000" text-anchor="end">Vehicle</text>
<text transform="translate(1405.0,839.6) rotate(-90)" font-size="31.3" fill="#000" text-anchor="end">0.03</text>
<text transform="translate(1571.0,838.5) rotate(-90)" font-size="31.3" fill="#000" text-anchor="end">0.1</text>
<text transform="translate(1737.4,839.6) rotate(-90)" font-size="31.3" fill="#000" text-anchor="end">0.3</text>
<text transform="translate(1904.9,840.4) rotate(-90)" font-size="31.3" fill="#000" text-anchor="end">Cys A</text>
<line x1="1453.0" y1="925.5" x2="1737.2" y2="925.5" stroke="#000" stroke-width="2.5"/>
<text x="1589.5" y="961.1" font-size="33.7" font-weight="bold" fill="#000" text-anchor="middle" >mg/kg SAR’336</text>
<text x="0.2" y="1121.8" font-size="52" font-weight="bold" fill="#000" text-anchor="start" >b</text>
<line x1="113.9" y1="1224.0" x2="113.9" y2="1660.5" stroke="#000" stroke-width="3"/>
<line x1="102.3" y1="1659.1" x2="763.4" y2="1659.1" stroke="#000" stroke-width="3"/>
<line x1="102.8" y1="1659.0" x2="113.9" y2="1659.0" stroke="#000" stroke-width="2.8"/>
<text x="98.5" y="1669.5" font-size="30.2" fill="#000" text-anchor="end" >0</text>
<line x1="107.9" y1="1604.8" x2="113.9" y2="1604.8" stroke="#000" stroke-width="2.8"/>
<line x1="102.8" y1="1550.5" x2="113.9" y2="1550.5" stroke="#000" stroke-width="2.8"/>
<text x="98.5" y="1561.0" font-size="30.2" fill="#000" text-anchor="end" >4</text>
<line x1="107.9" y1="1496.2" x2="113.9" y2="1496.2" stroke="#000" stroke-width="2.8"/>
<line x1="102.8" y1="1442.0" x2="113.9" y2="1442.0" stroke="#000" stroke-width="2.8"/>
<text x="98.5" y="1452.5" font-size="30.2" fill="#000" text-anchor="end" >8</text>
<line x1="107.9" y1="1387.8" x2="113.9" y2="1387.8" stroke="#000" stroke-width="2.8"/>
<line x1="102.8" y1="1333.5" x2="113.9" y2="1333.5" stroke="#000" stroke-width="2.8"/>
<text x="98.5" y="1344.0" font-size="30.2" fill="#000" text-anchor="end" >12</text>
<line x1="107.9" y1="1279.2" x2="113.9" y2="1279.2" stroke="#000" stroke-width="2.8"/>
<line x1="102.8" y1="1225.0" x2="113.9" y2="1225.0" stroke="#000" stroke-width="2.8"/>
<text x="98.5" y="1235.5" font-size="30.2" fill="#000" text-anchor="end" >16</text>
<text transform="translate(52.8,1436.5) rotate(-90)" font-size="29.8" font-weight="bold" fill="#000" text-anchor="middle">Ear pathology score</text>
<line x1="182.1" y1="1659.0" x2="182.1" y2="1670.2" stroke="#000" stroke-width="2.8"/>
<line x1="284.5" y1="1659.0" x2="284.5" y2="1670.2" stroke="#000" stroke-width="2.8"/>
<line x1="386.8" y1="1659.0" x2="386.8" y2="1670.2" stroke="#000" stroke-width="2.8"/>
<line x1="489.3" y1="1659.0" x2="489.3" y2="1670.2" stroke="#000" stroke-width="2.8"/>
<line x1="591.9" y1="1659.0" x2="591.9" y2="1670.2" stroke="#000" stroke-width="2.8"/>
<line x1="694.0" y1="1659.0" x2="694.0" y2="1670.2" stroke="#000" stroke-width="2.8"/>
<path d="M149.4,1659 V1579.6 H214.8 V1659" fill="none" stroke="#000" stroke-width="3"/><line x1="182.1" y1="1550.5" x2="182.1" y2="1604.8" stroke="#000" stroke-width="3"/><line x1="165.3" y1="1550.5" x2="198.9" y2="1550.5" stroke="#000" stroke-width="3"/><line x1="165.3" y1="1604.8" x2="198.9" y2="1604.8" stroke="#000" stroke-width="3"/><circle cx="154.7" cy="1577.6" r="7.0" fill="#000"/><circle cx="168.3" cy="1577.6" r="7.0" fill="#000"/><circle cx="182.1" cy="1577.6" r="7.0" fill="#000"/><circle cx="195.8" cy="1577.6" r="7.0" fill="#000"/><circle cx="209.8" cy="1577.6" r="7.0" fill="#000"/><circle cx="161.7" cy="1604.8" r="7.0" fill="#000"/><circle cx="175.5" cy="1604.8" r="7.0" fill="#000"/><circle cx="188.7" cy="1604.8" r="7.0" fill="#000"/><circle cx="202.5" cy="1604.8" r="7.0" fill="#000"/><circle cx="182.1" cy="1550.5" r="7.0" fill="#000"/>
<path d="M251.8,1659 V1403.3 H317.2 V1659" fill="none" stroke="#808080" stroke-width="3"/><line x1="284.5" y1="1360.6" x2="284.5" y2="1469.1" stroke="#808080" stroke-width="3"/><line x1="270.9" y1="1360.6" x2="298.1" y2="1360.6" stroke="#808080" stroke-width="3"/><line x1="270.9" y1="1469.1" x2="298.1" y2="1469.1" stroke="#808080" stroke-width="3"/><circle cx="270.8" cy="1360.6" r="7.0" fill="#808080"/><circle cx="298.1" cy="1360.6" r="7.0" fill="#808080"/><circle cx="257.2" cy="1387.8" r="7.0" fill="#808080"/><circle cx="284.5" cy="1387.8" r="7.0" fill="#808080"/><circle cx="311.9" cy="1387.8" r="7.0" fill="#808080"/><circle cx="270.8" cy="1414.9" r="7.0" fill="#808080"/><circle cx="298.1" cy="1414.9" r="7.0" fill="#808080"/><circle cx="284.5" cy="1442.0" r="7.0" fill="#808080"/><circle cx="270.8" cy="1469.1" r="7.0" fill="#808080"/><circle cx="298.1" cy="1469.1" r="7.0" fill="#808080"/>
<path d="M354.1,1659 V1403.3 H419.5 V1659" fill="none" stroke="#ff6400" stroke-width="3"/><line x1="386.8" y1="1252.1" x2="386.8" y2="1523.4" stroke="#ff6400" stroke-width="3"/><line x1="370.0" y1="1252.1" x2="403.6" y2="1252.1" stroke="#ff6400" stroke-width="3"/><line x1="370.0" y1="1523.4" x2="403.6" y2="1523.4" stroke="#ff6400" stroke-width="3"/><circle cx="386.8" cy="1252.1" r="7.0" fill="#ff6400"/><circle cx="386.8" cy="1333.5" r="7.0" fill="#ff6400"/><circle cx="359.8" cy="1387.8" r="7.0" fill="#ff6400"/><circle cx="386.8" cy="1387.8" r="7.0" fill="#ff6400"/><circle cx="414.5" cy="1387.8" r="7.0" fill="#ff6400"/><circle cx="386.8" cy="1414.9" r="7.0" fill="#ff6400"/><circle cx="386.8" cy="1442.0" r="7.0" fill="#ff6400"/><circle cx="386.8" cy="1469.1" r="7.0" fill="#ff6400"/><circle cx="386.8" cy="1496.2" r="7.0" fill="#ff6400"/><circle cx="386.8" cy="1523.4" r="7.0" fill="#ff6400"/>
<path d="M456.6,1659 V1457.6 H522.0 V1659" fill="none" stroke="#800080" stroke-width="3"/><line x1="489.3" y1="1387.8" x2="489.3" y2="1604.8" stroke="#800080" stroke-width="3"/><line x1="475.8" y1="1387.8" x2="502.9" y2="1387.8" stroke="#800080" stroke-width="3"/><line x1="475.8" y1="1604.8" x2="502.9" y2="1604.8" stroke="#800080" stroke-width="3"/><circle cx="475.9" cy="1387.8" r="7.0" fill="#800080"/><circle cx="503.0" cy="1387.8" r="7.0" fill="#800080"/><circle cx="475.9" cy="1414.9" r="7.0" fill="#800080"/><circle cx="503.0" cy="1414.9" r="7.0" fill="#800080"/><circle cx="489.3" cy="1442.0" r="7.0" fill="#800080"/><circle cx="489.3" cy="1469.1" r="7.0" fill="#800080"/><circle cx="489.3" cy="1523.4" r="7.0" fill="#800080"/><circle cx="489.3" cy="1550.5" r="7.0" fill="#800080"/><circle cx="489.3" cy="1577.6" r="7.0" fill="#800080"/><circle cx="489.3" cy="1604.8" r="7.0" fill="#800080"/>
<path d="M559.2,1659 V1538.9 H624.6 V1659" fill="none" stroke="#109c64" stroke-width="3"/><line x1="591.9" y1="1279.2" x2="591.9" y2="1604.8" stroke="#109c64" stroke-width="3"/><line x1="575.1" y1="1279.2" x2="608.7" y2="1279.2" stroke="#109c64" stroke-width="3"/><line x1="575.1" y1="1604.8" x2="608.7" y2="1604.8" stroke="#109c64" stroke-width="3"/><circle cx="591.9" cy="1279.2" r="7.0" fill="#109c64"/><circle cx="591.9" cy="1387.8" r="7.0" fill="#109c64"/><circle cx="591.9" cy="1496.2" r="7.0" fill="#109c64"/><circle cx="578.0" cy="1523.4" r="7.0" fill="#109c64"/><circle cx="605.4" cy="1523.4" r="7.0" fill="#109c64"/><circle cx="564.6" cy="1550.5" r="7.0" fill="#109c64"/><circle cx="591.9" cy="1550.5" r="7.0" fill="#109c64"/><circle cx="619.5" cy="1550.5" r="7.0" fill="#109c64"/><circle cx="591.9" cy="1577.6" r="7.0" fill="#109c64"/><circle cx="591.9" cy="1604.8" r="7.0" fill="#109c64"/>
<path d="M661.3,1659 V1525.4 H726.7 V1659" fill="none" stroke="#0e7c99" stroke-width="3"/><line x1="694.0" y1="1442.0" x2="694.0" y2="1577.6" stroke="#0e7c99" stroke-width="3"/><line x1="680.3" y1="1442.0" x2="707.7" y2="1442.0" stroke="#0e7c99" stroke-width="3"/><line x1="680.3" y1="1577.6" x2="707.7" y2="1577.6" stroke="#0e7c99" stroke-width="3"/><circle cx="680.6" cy="1442.0" r="7.0" fill="#0e7c99"/><circle cx="708.0" cy="1442.0" r="7.0" fill="#0e7c99"/><circle cx="680.6" cy="1469.1" r="7.0" fill="#0e7c99"/><circle cx="708.0" cy="1469.1" r="7.0" fill="#0e7c99"/><circle cx="694.0" cy="1523.4" r="7.0" fill="#0e7c99"/><circle cx="680.6" cy="1550.5" r="7.0" fill="#0e7c99"/><circle cx="708.0" cy="1550.5" r="7.0" fill="#0e7c99"/><circle cx="680.6" cy="1577.6" r="7.0" fill="#0e7c99"/><circle cx="708.0" cy="1577.6" r="7.0" fill="#0e7c99"/>
<text x="590.1" y="1278.9" font-size="30" font-weight="bold" fill="#000" text-anchor="middle" >*</text>
<text x="624.8" y="1346.3" font-size="37.9" fill="#000" text-anchor="start" >p &lt;0.05</text>
<text transform="translate(158.7,1673.0) rotate(-90)" font-size="30.4" fill="#000" text-anchor="end">KLH</text>
<text transform="translate(194.4,1674.3) rotate(-90)" font-size="30.4" fill="#000" text-anchor="end">challenge</text>
<text transform="translate(228.5,1675.0) rotate(-90)" font-size="30.4" fill="#000" text-anchor="end">only</text>
<text transform="translate(295.1,1674.3) rotate(-90)" font-size="30.4" fill="#000" text-anchor="end">Vehicle</text>
<text transform="translate(397.4,1681.8) rotate(-90)" font-size="30.4" fill="#000" text-anchor="end">0.03</text>
<text transform="translate(499.7,1677.5) rotate(-90)" font-size="30.4" fill="#000" text-anchor="end">0.1</text>
<text transform="translate(602.0,1681.8) rotate(-90)" font-size="30.4" fill="#000" text-anchor="end">0.3</text>
<text transform="translate(704.3,1675.5) rotate(-90)" font-size="30.4" fill="#000" text-anchor="end">Cys A</text>
<line x1="357.8" y1="1747.0" x2="642.2" y2="1747.0" stroke="#000" stroke-width="2.5"/>
<text x="495.1" y="1782.4" font-size="33.8" font-weight="bold" fill="#000" text-anchor="middle" >mg/kg SAR’336</text>
<defs>
<filter id="nuc" color-interpolation-filters="sRGB" x="0" y="0" width="100%" height="100%">
<feTurbulence type="fractalNoise" baseFrequency="0.3" numOctaves="2" seed="4"/>
<feColorMatrix type="matrix" values="0 0 0 0 0.58  0 0 0 0 0.34  0 0 0 0 0.60  9 0 0 0 -4.7"/></filter>
<filter id="nuc2" color-interpolation-filters="sRGB" x="0" y="0" width="100%" height="100%">
<feTurbulence type="fractalNoise" baseFrequency="0.15" numOctaves="2" seed="11"/>
<feColorMatrix type="matrix" values="0 0 0 0 0.55  0 0 0 0 0.30  0 0 0 0 0.56  9 0 0 0 -5.0"/></filter>
<filter id="nuc3" color-interpolation-filters="sRGB" x="0" y="0" width="100%" height="100%">
<feTurbulence type="fractalNoise" baseFrequency="0.28" numOctaves="2" seed="21"/>
<feColorMatrix type="matrix" values="0 0 0 0 0.50  0 0 0 0 0.26  0 0 0 0 0.52  9 0 0 0 -4.75"/></filter>
<filter id="flk" color-interpolation-filters="sRGB" x="0" y="0" width="100%" height="100%">
<feTurbulence type="fractalNoise" baseFrequency="0.06 0.22" numOctaves="2" seed="2"/>
<feColorMatrix type="matrix" values="0 0 0 0 1  0 0 0 0 0.97  0 0 0 0 1  10 0 0 0 -6.0"/></filter>
<filter id="flk2" color-interpolation-filters="sRGB" x="0" y="0" width="100%" height="100%">
<feTurbulence type="fractalNoise" baseFrequency="0.035 0.2" numOctaves="2" seed="5"/>
<feColorMatrix type="matrix" values="0 0 0 0 1  0 0 0 0 0.97  0 0 0 0 1  9 0 0 0 -5.0"/></filter>
<filter id="epi" color-interpolation-filters="sRGB" x="0" y="0" width="100%" height="100%">
<feTurbulence type="fractalNoise" baseFrequency="0.3" numOctaves="1" seed="8"/>
<feColorMatrix type="matrix" values="0 0 0 0 0.45  0 0 0 0 0.22  0 0 0 0 0.47  7 0 0 0 -3.4"/></filter>
</defs>
<clipPath id="cv"><rect x="940.0" y="1290" width="507.5" height="350"/></clipPath>
<clipPath id="tv"><path d="M940.0,1309.9 C943.4,1312.5 953.5,1320.4 960.3,1325.3 C967.1,1330.1 973.8,1334.6 980.6,1338.9 C987.4,1343.2 994.1,1346.9 1000.9,1351.1 C1007.7,1355.2 1014.4,1359.6 1021.2,1364.0 C1028.0,1368.4 1034.7,1374.2 1041.5,1377.5 C1048.3,1380.7 1055.0,1382.1 1061.8,1383.7 C1068.6,1385.3 1075.3,1387.3 1082.1,1387.2 C1088.9,1387.1 1095.6,1384.8 1102.4,1383.0 C1109.2,1381.2 1115.9,1378.0 1122.7,1376.4 C1129.5,1374.9 1136.2,1374.6 1143.0,1373.7 C1149.8,1372.9 1156.5,1372.0 1163.3,1371.3 C1170.1,1370.6 1176.8,1370.0 1183.6,1369.3 C1190.4,1368.6 1197.1,1367.9 1203.9,1367.1 C1210.7,1366.3 1217.4,1365.4 1224.2,1364.5 C1231.0,1363.7 1237.7,1362.8 1244.5,1361.9 C1251.3,1361.1 1258.0,1360.1 1264.8,1359.2 C1271.6,1358.2 1278.3,1358.6 1285.1,1356.4 C1291.9,1354.2 1298.6,1350.5 1305.4,1346.0 C1312.2,1341.5 1318.9,1333.7 1325.7,1329.3 C1332.5,1324.9 1339.2,1321.9 1346.0,1319.6 C1352.8,1317.3 1359.5,1316.3 1366.3,1315.4 C1373.1,1314.5 1379.8,1314.9 1386.6,1314.4 C1393.4,1313.9 1400.1,1313.5 1406.9,1312.3 C1413.7,1311.2 1420.4,1308.8 1427.2,1307.5 C1434.0,1306.2 1444.1,1305.1 1447.5,1304.6 L1447.5,1502.0 C1444.1,1502.0 1434.0,1502.2 1427.2,1502.0 C1420.4,1501.8 1413.7,1501.5 1406.9,1501.1 C1400.1,1500.7 1393.4,1500.2 1386.6,1499.7 C1379.8,1499.3 1373.1,1498.8 1366.3,1498.4 C1359.5,1497.9 1352.8,1496.7 1346.0,1497.0 C1339.2,1497.4 1332.5,1497.5 1325.7,1500.5 C1318.9,1503.4 1312.2,1508.8 1305.4,1514.6 C1298.6,1520.3 1291.9,1528.0 1285.1,1534.8 C1278.3,1541.6 1271.6,1549.6 1264.8,1555.3 C1258.0,1561.1 1251.3,1565.1 1244.5,1569.4 C1237.7,1573.7 1231.0,1577.6 1224.2,1581.1 C1217.4,1584.6 1210.7,1587.8 1203.9,1590.6 C1197.1,1593.3 1190.4,1595.6 1183.6,1597.7 C1176.8,1599.8 1170.1,1601.7 1163.3,1603.1 C1156.5,1604.5 1149.8,1605.4 1143.0,1606.1 C1136.2,1606.9 1129.5,1607.2 1122.7,1607.5 C1115.9,1607.8 1109.2,1607.8 1102.4,1608.0 C1095.6,1608.2 1088.9,1607.2 1082.1,1608.6 C1075.3,1610.0 1068.6,1614.4 1061.8,1616.4 C1055.0,1618.4 1048.3,1620.2 1041.5,1620.7 C1034.7,1621.2 1028.0,1620.1 1021.2,1619.4 C1014.4,1618.6 1007.7,1617.7 1000.9,1616.3 C994.1,1614.9 987.4,1613.0 980.6,1610.9 C973.8,1608.8 967.1,1606.5 960.3,1603.8 C953.5,1601.1 943.4,1596.2 940.0,1594.7 Z"/></clipPath>
<clipPath id="infl"><path d="M940,1425 C990,1440 1040,1462 1100,1468 C1160,1462 1230,1440 1300,1425 C1340,1410 1390,1395 1447,1380 L1447,1445 C1400,1455 1350,1470 1310,1490 C1270,1520 1230,1560 1150,1585 C1080,1595 1000,1590 940,1580 Z"/></clipPath>
<clipPath id="epv"><path d="M940.0,1309.9 C943.4,1312.5 953.5,1320.4 960.3,1325.3 C967.1,1330.1 973.8,1334.6 980.6,1338.9 C987.4,1343.2 994.1,1346.9 1000.9,1351.1 C1007.7,1355.2 1014.4,1359.6 1021.2,1364.0 C1028.0,1368.4 1034.7,1374.2 1041.5,1377.5 C1048.3,1380.7 1055.0,1382.1 1061.8,1383.7 C1068.6,1385.3 1075.3,1387.3 1082.1,1387.2 C1088.9,1387.1 1095.6,1384.8 1102.4,1383.0 C1109.2,1381.2 1115.9,1378.0 1122.7,1376.4 C1129.5,1374.9 1136.2,1374.6 1143.0,1373.7 C1149.8,1372.9 1156.5,1372.0 1163.3,1371.3 C1170.1,1370.6 1176.8,1370.0 1183.6,1369.3 C1190.4,1368.6 1197.1,1367.9 1203.9,1367.1 C1210.7,1366.3 1217.4,1365.4 1224.2,1364.5 C1231.0,1363.7 1237.7,1362.8 1244.5,1361.9 C1251.3,1361.1 1258.0,1360.1 1264.8,1359.2 C1271.6,1358.2 1278.3,1358.6 1285.1,1356.4 C1291.9,1354.2 1298.6,1350.5 1305.4,1346.0 C1312.2,1341.5 1318.9,1333.7 1325.7,1329.3 C1332.5,1324.9 1339.2,1321.9 1346.0,1319.6 C1352.8,1317.3 1359.5,1316.3 1366.3,1315.4 C1373.1,1314.5 1379.8,1314.9 1386.6,1314.4 C1393.4,1313.9 1400.1,1313.5 1406.9,1312.3 C1413.7,1311.2 1420.4,1308.8 1427.2,1307.5 C1434.0,1306.2 1444.1,1305.1 1447.5,1304.6 L1447.5,1312.6 C1444.1,1313.1 1434.0,1314.1 1427.2,1315.4 C1420.4,1316.6 1413.7,1318.9 1406.9,1320.0 C1400.1,1321.1 1393.4,1321.5 1386.6,1322.0 C1379.8,1322.5 1373.1,1322.0 1366.3,1322.8 C1359.5,1323.7 1352.8,1324.6 1346.0,1326.9 C1339.2,1329.2 1332.5,1332.2 1325.7,1336.5 C1318.9,1340.9 1312.2,1348.6 1305.4,1353.0 C1298.6,1357.5 1291.9,1361.2 1285.1,1363.4 C1278.3,1365.6 1271.6,1365.2 1264.8,1366.2 C1258.0,1367.1 1251.3,1368.1 1244.5,1368.9 C1237.7,1369.8 1231.0,1370.7 1224.2,1371.5 C1217.4,1372.4 1210.7,1373.3 1203.9,1374.1 C1197.1,1374.9 1190.4,1375.6 1183.6,1376.3 C1176.8,1377.0 1170.1,1377.4 1163.3,1378.3 C1156.5,1379.2 1149.8,1380.4 1143.0,1381.6 C1136.2,1382.7 1129.5,1383.4 1122.7,1385.3 C1115.9,1387.2 1109.2,1391.0 1102.4,1392.9 C1095.6,1394.8 1088.9,1396.9 1082.1,1396.9 C1075.3,1396.9 1068.6,1394.8 1061.8,1393.1 C1055.0,1391.3 1048.3,1390.0 1041.5,1386.5 C1034.7,1383.0 1028.0,1376.8 1021.2,1372.1 C1014.4,1367.3 1007.7,1362.5 1000.9,1358.1 C994.1,1353.7 987.4,1350.2 980.6,1345.9 C973.8,1341.6 967.1,1337.1 960.3,1332.3 C953.5,1327.4 943.4,1319.5 940.0,1316.9 Z"/><path d="M940.0,1564.7 C943.4,1566.3 953.5,1571.5 960.3,1574.5 C967.1,1577.4 973.8,1579.9 980.6,1582.3 C987.4,1584.6 994.1,1586.5 1000.9,1588.4 C1007.7,1590.4 1014.4,1592.4 1021.2,1593.9 C1028.0,1595.5 1034.7,1597.5 1041.5,1597.7 C1048.3,1597.8 1055.0,1596.5 1061.8,1594.9 C1068.6,1593.2 1075.3,1589.0 1082.1,1587.9 C1088.9,1586.8 1095.6,1588.0 1102.4,1588.2 C1109.2,1588.4 1115.9,1589.1 1122.7,1589.3 C1129.5,1589.6 1136.2,1589.8 1143.0,1589.6 C1149.8,1589.4 1156.5,1589.1 1163.3,1588.2 C1170.1,1587.3 1176.8,1586.0 1183.6,1584.4 C1190.4,1582.8 1197.1,1581.1 1203.9,1578.5 C1210.7,1575.8 1217.4,1572.3 1224.2,1568.6 C1231.0,1565.0 1237.7,1560.9 1244.5,1556.5 C1251.3,1552.1 1258.0,1547.9 1264.8,1542.1 C1271.6,1536.2 1278.3,1528.1 1285.1,1521.1 C1291.9,1514.2 1298.6,1506.3 1305.4,1500.5 C1312.2,1494.7 1318.9,1489.2 1325.7,1486.3 C1332.5,1483.3 1339.2,1483.1 1346.0,1482.7 C1352.8,1482.3 1359.5,1483.5 1366.3,1483.9 C1373.1,1484.3 1379.8,1484.7 1386.6,1485.1 C1393.4,1485.5 1400.1,1486.0 1406.9,1486.4 C1413.7,1486.7 1420.4,1487.0 1427.2,1487.1 C1434.0,1487.2 1444.1,1487.0 1447.5,1487.0 L1447.5,1502.0 C1444.1,1502.0 1434.0,1502.2 1427.2,1502.0 C1420.4,1501.8 1413.7,1501.5 1406.9,1501.1 C1400.1,1500.7 1393.4,1500.2 1386.6,1499.7 C1379.8,1499.3 1373.1,1498.8 1366.3,1498.4 C1359.5,1497.9 1352.8,1496.7 1346.0,1497.0 C1339.2,1497.4 1332.5,1497.5 1325.7,1500.5 C1318.9,1503.4 1312.2,1508.8 1305.4,1514.6 C1298.6,1520.3 1291.9,1528.0 1285.1,1534.8 C1278.3,1541.6 1271.6,1549.6 1264.8,1555.3 C1258.0,1561.1 1251.3,1565.1 1244.5,1569.4 C1237.7,1573.7 1231.0,1577.6 1224.2,1581.1 C1217.4,1584.6 1210.7,1587.8 1203.9,1590.6 C1197.1,1593.3 1190.4,1595.6 1183.6,1597.7 C1176.8,1599.8 1170.1,1601.7 1163.3,1603.1 C1156.5,1604.5 1149.8,1605.4 1143.0,1606.1 C1136.2,1606.9 1129.5,1607.2 1122.7,1607.5 C1115.9,1607.8 1109.2,1607.8 1102.4,1608.0 C1095.6,1608.2 1088.9,1607.2 1082.1,1608.6 C1075.3,1610.0 1068.6,1614.4 1061.8,1616.4 C1055.0,1618.4 1048.3,1620.2 1041.5,1620.7 C1034.7,1621.2 1028.0,1620.1 1021.2,1619.4 C1014.4,1618.6 1007.7,1617.7 1000.9,1616.3 C994.1,1614.9 987.4,1613.0 980.6,1610.9 C973.8,1608.8 967.1,1606.5 960.3,1603.8 C953.5,1601.1 943.4,1596.2 940.0,1594.7 Z"/></clipPath>
<g clip-path="url(#cv)">
<g clip-path="url(#tv)">
<rect x="940.0" y="1300" width="510" height="330" fill="#eea8d6"/>
<rect x="940.0" y="1300" width="510" height="330" filter="url(#nuc)" opacity="0.5"/>
<rect x="940.0" y="1300" width="510" height="330" filter="url(#nuc3)" opacity="0.75" clip-path="url(#infl)"/>
<rect x="940.0" y="1300" width="510" height="330" filter="url(#flk)" opacity="0.85"/>
<path d="M940.0,1530.7 C943.4,1532.6 953.5,1538.4 960.3,1541.8 C967.1,1545.2 973.8,1548.2 980.6,1551.0 C987.4,1553.7 994.1,1556.0 1000.9,1558.5 C1007.7,1560.9 1014.4,1563.5 1021.2,1565.6 C1028.0,1567.7 1034.7,1570.3 1041.5,1571.0 C1048.3,1571.7 1055.0,1570.9 1061.8,1569.8 C1068.6,1568.7 1075.3,1565.0 1082.1,1564.5 C1088.9,1563.9 1095.6,1565.6 1102.4,1566.4 C1109.2,1567.1 1115.9,1568.2 1122.7,1568.9 C1129.5,1569.6 1136.2,1570.3 1143.0,1570.6 C1149.8,1570.9 1156.5,1571.0 1163.3,1570.6 C1170.1,1570.3 1176.8,1569.5 1183.6,1568.3 C1190.4,1567.1 1197.1,1565.9 1203.9,1563.5 C1210.7,1561.0 1217.4,1557.3 1224.2,1553.6 C1231.0,1550.0 1237.7,1545.9 1244.5,1541.5 C1251.3,1537.1 1258.0,1532.9 1264.8,1527.1 C1271.6,1521.2 1278.3,1513.0 1285.1,1506.1 C1291.9,1499.2 1298.6,1491.4 1305.4,1485.6 C1312.2,1479.9 1318.9,1474.6 1325.7,1471.8 C1332.5,1469.0 1339.2,1468.9 1346.0,1468.7 C1352.8,1468.4 1359.5,1469.7 1366.3,1470.3 C1373.1,1470.8 1379.8,1471.3 1386.6,1471.9 C1393.4,1472.4 1400.1,1473.1 1406.9,1473.5 C1413.7,1474.0 1420.4,1474.5 1427.2,1474.7 C1434.0,1475.0 1444.1,1475.0 1447.5,1475.0 L1447.5,1488.0 C1444.1,1488.0 1434.0,1488.2 1427.2,1488.1 C1420.4,1488.0 1413.7,1487.7 1406.9,1487.4 C1400.1,1487.0 1393.4,1486.5 1386.6,1486.1 C1379.8,1485.7 1373.1,1485.3 1366.3,1484.9 C1359.5,1484.5 1352.8,1483.3 1346.0,1483.7 C1339.2,1484.1 1332.5,1484.3 1325.7,1487.3 C1318.9,1490.2 1312.2,1495.7 1305.4,1501.5 C1298.6,1507.3 1291.9,1515.2 1285.1,1522.1 C1278.3,1529.1 1271.6,1537.2 1264.8,1543.1 C1258.0,1548.9 1251.3,1553.1 1244.5,1557.5 C1237.7,1561.9 1231.0,1566.0 1224.2,1569.6 C1217.4,1573.3 1210.7,1576.8 1203.9,1579.5 C1197.1,1582.1 1190.4,1583.8 1183.6,1585.4 C1176.8,1587.0 1170.1,1588.3 1163.3,1589.2 C1156.5,1590.1 1149.8,1590.4 1143.0,1590.6 C1136.2,1590.8 1129.5,1590.6 1122.7,1590.3 C1115.9,1590.1 1109.2,1589.4 1102.4,1589.2 C1095.6,1589.0 1088.9,1587.8 1082.1,1588.9 C1075.3,1590.0 1068.6,1594.2 1061.8,1595.9 C1055.0,1597.5 1048.3,1598.8 1041.5,1598.7 C1034.7,1598.5 1028.0,1596.5 1021.2,1594.9 C1014.4,1593.4 1007.7,1591.4 1000.9,1589.4 C994.1,1587.5 987.4,1585.6 980.6,1583.3 C973.8,1580.9 967.1,1578.4 960.3,1575.5 C953.5,1572.5 943.4,1567.3 940.0,1565.7 Z" fill="#f07eb9" opacity="0.9"/>
<path d="M940,1404 C965,1412 990,1424 1015,1440 L1010,1450 C985,1440 962,1432 940,1428 Z" fill="#f07eb9" opacity="0.85"/>
<path d="M940,1468 C960,1474 985,1482 1000,1490 L995,1498 C978,1492 958,1488 940,1486 Z" fill="#f07eb9" opacity="0.7"/>
<path d="M940.0,1315.9 C943.4,1318.5 953.5,1326.4 960.3,1331.3 C967.1,1336.1 973.8,1340.6 980.6,1344.9 C987.4,1349.2 994.1,1352.7 1000.9,1357.1 C1007.7,1361.5 1014.4,1366.3 1021.2,1371.1 C1028.0,1375.8 1034.7,1382.0 1041.5,1385.5 C1048.3,1389.0 1055.0,1390.3 1061.8,1392.1 C1068.6,1393.8 1075.3,1395.9 1082.1,1395.9 C1088.9,1395.9 1095.6,1393.8 1102.4,1391.9 C1109.2,1390.0 1115.9,1386.2 1122.7,1384.3 C1129.5,1382.4 1136.2,1381.7 1143.0,1380.6 C1149.8,1379.4 1156.5,1378.2 1163.3,1377.3 C1170.1,1376.4 1176.8,1376.0 1183.6,1375.3 C1190.4,1374.6 1197.1,1373.9 1203.9,1373.1 C1210.7,1372.3 1217.4,1371.4 1224.2,1370.5 C1231.0,1369.7 1237.7,1368.8 1244.5,1367.9 C1251.3,1367.1 1258.0,1366.1 1264.8,1365.2 C1271.6,1364.2 1278.3,1364.6 1285.1,1362.4 C1291.9,1360.2 1298.6,1356.5 1305.4,1352.0 C1312.2,1347.6 1318.9,1339.9 1325.7,1335.5 C1332.5,1331.2 1339.2,1328.2 1346.0,1325.9 C1352.8,1323.6 1359.5,1322.7 1366.3,1321.8 C1373.1,1321.0 1379.8,1321.5 1386.6,1321.0 C1393.4,1320.5 1400.1,1320.1 1406.9,1319.0 C1413.7,1317.9 1420.4,1315.6 1427.2,1314.4 C1434.0,1313.1 1444.1,1312.1 1447.5,1311.6 L1447.5,1321.6 C1444.1,1322.1 1434.0,1323.1 1427.2,1324.4 C1420.4,1325.6 1413.7,1327.9 1406.9,1329.0 C1400.1,1330.1 1393.4,1330.5 1386.6,1331.0 C1379.8,1331.5 1373.1,1331.0 1366.3,1331.8 C1359.5,1332.7 1352.8,1333.6 1346.0,1335.9 C1339.2,1338.2 1332.5,1341.2 1325.7,1345.5 C1318.9,1349.9 1312.2,1357.6 1305.4,1362.0 C1298.6,1366.5 1291.9,1370.2 1285.1,1372.4 C1278.3,1374.6 1271.6,1374.2 1264.8,1375.2 C1258.0,1376.1 1251.3,1377.1 1244.5,1377.9 C1237.7,1378.8 1231.0,1379.7 1224.2,1380.5 C1217.4,1381.4 1210.7,1382.3 1203.9,1383.1 C1197.1,1383.9 1190.4,1384.6 1183.6,1385.3 C1176.8,1386.0 1170.1,1386.4 1163.3,1387.3 C1156.5,1388.2 1149.8,1389.4 1143.0,1390.6 C1136.2,1391.7 1129.5,1392.4 1122.7,1394.3 C1115.9,1396.2 1109.2,1400.0 1102.4,1401.9 C1095.6,1403.8 1088.9,1405.9 1082.1,1405.9 C1075.3,1405.9 1068.6,1403.8 1061.8,1402.1 C1055.0,1400.3 1048.3,1399.0 1041.5,1395.5 C1034.7,1392.0 1028.0,1385.8 1021.2,1381.1 C1014.4,1376.3 1007.7,1371.5 1000.9,1367.1 C994.1,1362.7 987.4,1359.2 980.6,1354.9 C973.8,1350.6 967.1,1346.1 960.3,1341.3 C953.5,1336.4 943.4,1328.5 940.0,1325.9 Z" fill="#f07eb9" opacity="0.9"/>
<g fill="none" stroke="#fff" stroke-linecap="round"><path d="M1258.6,1431.0 C1259.4,1430.9 1262.1,1431.0 1263.8,1430.6 C1265.6,1430.1 1267.3,1429.2 1269.1,1428.3 C1270.8,1427.3 1272.6,1425.6 1274.3,1424.8 C1276.1,1424.0 1278.7,1423.8 1279.6,1423.6" stroke-width="1.1" opacity="0.70"/><path d="M1146.7,1407.0 C1147.5,1406.5 1149.8,1404.8 1151.3,1404.3 C1152.9,1403.8 1154.5,1403.9 1156.0,1404.0 C1157.6,1404.1 1159.1,1404.5 1160.7,1404.6 C1162.2,1404.8 1164.5,1405.0 1165.3,1405.0" stroke-width="1.9" opacity="0.68"/><path d="M1364.8,1484.7 C1365.5,1484.7 1367.6,1484.5 1369.0,1484.5 C1370.4,1484.5 1371.8,1484.5 1373.3,1484.7 C1374.7,1484.9 1376.1,1485.1 1377.5,1485.5 C1378.9,1485.9 1381.0,1487.0 1381.7,1487.3" stroke-width="1.3" opacity="0.76"/><path d="M1202.5,1508.4 C1203.7,1507.9 1207.4,1506.6 1209.9,1505.8 C1212.4,1505.0 1214.9,1504.2 1217.4,1503.7 C1219.9,1503.1 1222.4,1503.3 1224.9,1502.5 C1227.4,1501.8 1231.1,1499.8 1232.4,1499.2" stroke-width="1.5" opacity="0.76"/><path d="M1326.5,1410.7 C1327.6,1409.9 1331.0,1406.8 1333.2,1405.8 C1335.5,1404.7 1337.7,1404.9 1340.0,1404.6 C1342.2,1404.2 1344.5,1403.8 1346.7,1403.8 C1349.0,1403.7 1352.3,1404.2 1353.5,1404.3" stroke-width="2.2" opacity="0.63"/><path d="M1143.0,1591.3 C1143.8,1590.9 1146.3,1589.4 1147.9,1589.1 C1149.6,1588.8 1151.2,1590.0 1152.8,1589.8 C1154.5,1589.5 1156.1,1587.8 1157.8,1587.6 C1159.4,1587.3 1161.9,1588.1 1162.7,1588.2" stroke-width="2.2" opacity="0.76"/><path d="M1276.9,1514.6 C1278.1,1513.5 1281.5,1510.3 1283.8,1508.0 C1286.1,1505.8 1288.4,1503.2 1290.7,1501.1 C1293.0,1499.1 1295.3,1497.7 1297.6,1495.9 C1299.9,1494.0 1303.3,1491.0 1304.5,1490.0" stroke-width="1.8" opacity="0.80"/><path d="M1244.4,1391.0 C1246.1,1390.5 1251.5,1389.4 1255.1,1388.2 C1258.7,1387.1 1262.3,1385.4 1265.9,1384.3 C1269.5,1383.3 1273.1,1382.7 1276.6,1382.0 C1280.2,1381.2 1285.6,1380.3 1287.4,1380.0" stroke-width="1.0" opacity="0.71"/><path d="M963.6,1391.3 C964.4,1391.6 966.8,1392.0 968.5,1392.8 C970.1,1393.6 971.8,1394.9 973.4,1395.9 C975.0,1396.9 976.7,1397.7 978.3,1398.9 C980.0,1400.1 982.4,1402.3 983.2,1402.9" stroke-width="1.1" opacity="0.70"/><path d="M1324.2,1426.6 C1326.3,1425.4 1332.6,1420.6 1336.8,1419.2 C1341.0,1417.7 1345.2,1418.5 1349.4,1418.2 C1353.6,1417.9 1357.7,1417.2 1361.9,1417.3 C1366.1,1417.4 1372.4,1418.5 1374.5,1418.7" stroke-width="2.5" opacity="0.57"/><path d="M1048.9,1436.0 C1049.9,1436.2 1052.9,1437.1 1054.9,1437.3 C1057.0,1437.5 1059.0,1437.2 1061.0,1437.2 C1063.0,1437.2 1065.1,1436.9 1067.1,1437.3 C1069.1,1437.7 1072.1,1439.1 1073.1,1439.4" stroke-width="1.6" opacity="0.75"/><path d="M1180.0,1578.2 C1181.8,1577.8 1187.1,1577.1 1190.7,1575.7 C1194.2,1574.4 1197.8,1571.3 1201.3,1570.0 C1204.9,1568.7 1208.5,1569.1 1212.0,1567.9 C1215.6,1566.7 1220.9,1563.8 1222.7,1562.9" stroke-width="2.4" opacity="0.86"/><path d="M982.0,1454.6 C983.3,1454.9 987.1,1455.5 989.7,1456.4 C992.3,1457.3 994.9,1458.7 997.5,1459.9 C1000.0,1461.2 1002.6,1462.7 1005.2,1463.9 C1007.8,1465.1 1011.6,1466.6 1012.9,1467.2" stroke-width="1.5" opacity="0.52"/><path d="M984.3,1362.5 C985.2,1362.8 987.8,1363.2 989.6,1364.4 C991.3,1365.7 993.1,1368.7 994.8,1370.0 C996.6,1371.3 998.4,1371.6 1000.1,1372.2 C1001.9,1372.9 1004.5,1373.6 1005.4,1373.8" stroke-width="1.4" opacity="0.66"/><path d="M1358.1,1390.3 C1358.9,1389.9 1361.4,1388.6 1363.1,1388.2 C1364.7,1387.8 1366.4,1388.1 1368.1,1387.9 C1369.7,1387.6 1371.4,1386.9 1373.0,1386.7 C1374.7,1386.5 1377.2,1386.7 1378.0,1386.7" stroke-width="1.5" opacity="0.62"/><path d="M945.1,1542.0 C946.0,1542.2 948.7,1543.0 950.4,1543.5 C952.2,1544.0 954.0,1544.1 955.8,1545.1 C957.6,1546.0 959.4,1548.1 961.2,1549.0 C963.0,1549.8 965.6,1550.0 966.5,1550.2" stroke-width="1.8" opacity="0.94"/><path d="M1055.2,1578.4 C1057.0,1577.9 1062.3,1575.8 1065.9,1575.0 C1069.5,1574.2 1073.0,1574.6 1076.6,1573.9 C1080.2,1573.2 1083.8,1571.2 1087.3,1570.7 C1090.9,1570.2 1096.2,1571.1 1098.0,1571.2" stroke-width="1.5" opacity="0.60"/><path d="M1337.8,1460.6 C1340.1,1460.6 1346.9,1460.2 1351.4,1460.1 C1356.0,1460.0 1360.5,1460.1 1365.0,1459.9 C1369.6,1459.7 1374.1,1458.8 1378.6,1458.9 C1383.2,1459.0 1390.0,1460.1 1392.2,1460.4" stroke-width="1.6" opacity="0.51"/><path d="M1061.0,1408.4 C1062.1,1408.8 1065.3,1410.3 1067.5,1410.7 C1069.7,1411.1 1071.9,1410.5 1074.1,1410.7 C1076.2,1410.9 1078.4,1411.8 1080.6,1411.8 C1082.8,1411.9 1086.1,1411.3 1087.1,1411.2" stroke-width="2.5" opacity="0.66"/><path d="M1030.7,1437.3 C1031.7,1438.0 1034.7,1440.3 1036.7,1441.6 C1038.7,1442.9 1040.7,1444.3 1042.7,1445.1 C1044.8,1445.9 1046.8,1446.2 1048.8,1446.4 C1050.8,1446.5 1053.8,1446.1 1054.8,1446.0" stroke-width="2.0" opacity="0.86"/><path d="M1374.2,1344.1 C1375.9,1344.0 1381.1,1343.9 1384.6,1343.7 C1388.0,1343.5 1391.5,1343.1 1394.9,1342.6 C1398.4,1342.1 1401.8,1341.2 1405.3,1340.7 C1408.7,1340.3 1413.9,1340.3 1415.6,1340.2" stroke-width="1.5" opacity="0.86"/><path d="M1129.5,1591.1 C1130.8,1590.9 1134.6,1590.5 1137.2,1589.9 C1139.8,1589.3 1142.4,1588.1 1144.9,1587.6 C1147.5,1587.2 1150.1,1587.3 1152.6,1587.0 C1155.2,1586.6 1159.1,1585.8 1160.3,1585.5" stroke-width="2.4" opacity="0.86"/><path d="M1404.2,1352.5 C1406.2,1351.9 1412.3,1349.8 1416.3,1349.0 C1420.3,1348.2 1424.3,1348.4 1428.3,1347.8 C1432.3,1347.2 1436.3,1345.8 1440.3,1345.2 C1444.3,1344.6 1450.3,1344.2 1452.3,1344.0" stroke-width="2.6" opacity="0.79"/><path d="M1135.4,1500.7 C1137.6,1500.4 1144.1,1500.1 1148.5,1499.2 C1152.8,1498.4 1157.2,1496.5 1161.5,1495.5 C1165.9,1494.5 1170.3,1494.0 1174.6,1493.2 C1179.0,1492.4 1185.5,1491.2 1187.7,1490.8" stroke-width="1.4" opacity="0.76"/><path d="M995.3,1430.6 C996.6,1431.0 1000.6,1431.8 1003.3,1432.9 C1005.9,1434.0 1008.6,1435.7 1011.2,1437.1 C1013.9,1438.5 1016.5,1439.8 1019.1,1441.3 C1021.8,1442.8 1025.8,1445.3 1027.1,1446.1" stroke-width="1.7" opacity="0.91"/><path d="M1187.2,1485.2 C1188.7,1485.1 1193.2,1485.3 1196.3,1484.6 C1199.3,1483.9 1202.3,1482.2 1205.3,1481.1 C1208.4,1480.0 1211.4,1478.4 1214.4,1477.8 C1217.4,1477.2 1222.0,1477.5 1223.5,1477.5" stroke-width="1.3" opacity="0.71"/><path d="M1089.4,1544.0 C1091.0,1543.9 1095.6,1543.7 1098.7,1543.6 C1101.8,1543.4 1104.9,1543.7 1108.0,1543.1 C1111.1,1542.5 1114.2,1540.4 1117.3,1540.0 C1120.4,1539.6 1125.1,1540.5 1126.7,1540.5" stroke-width="1.4" opacity="0.62"/><path d="M1206.6,1534.9 C1208.0,1534.4 1212.4,1533.2 1215.4,1532.0 C1218.3,1530.7 1221.3,1528.5 1224.2,1527.2 C1227.1,1525.9 1230.1,1525.6 1233.0,1524.3 C1236.0,1523.0 1240.4,1520.2 1241.9,1519.4" stroke-width="1.8" opacity="0.81"/><path d="M1164.8,1482.2 C1166.3,1481.8 1170.8,1480.4 1173.8,1479.8 C1176.9,1479.2 1179.9,1479.1 1182.9,1478.7 C1186.0,1478.3 1189.0,1478.3 1192.0,1477.3 C1195.0,1476.4 1199.6,1473.7 1201.1,1473.0" stroke-width="1.9" opacity="0.92"/><path d="M994.6,1563.9 C995.4,1564.0 998.0,1564.0 999.7,1564.4 C1001.4,1564.9 1003.1,1566.1 1004.8,1566.6 C1006.5,1567.2 1008.2,1567.1 1009.9,1567.8 C1011.7,1568.4 1014.2,1570.0 1015.1,1570.5" stroke-width="2.3" opacity="0.90"/><path d="M1250.5,1403.8 C1252.3,1403.7 1257.7,1403.8 1261.4,1403.3 C1265.0,1402.7 1268.6,1401.9 1272.3,1400.4 C1275.9,1399.0 1279.6,1395.7 1283.2,1394.4 C1286.8,1393.2 1292.3,1393.1 1294.1,1392.9" stroke-width="1.6" opacity="0.72"/><path d="M1004.3,1601.5 C1006.3,1601.9 1012.4,1603.4 1016.4,1603.9 C1020.4,1604.4 1024.5,1604.4 1028.5,1604.6 C1032.5,1604.8 1036.5,1605.3 1040.6,1605.4 C1044.6,1605.5 1050.6,1605.3 1052.6,1605.3" stroke-width="2.2" opacity="0.51"/><path d="M939.2,1469.5 C940.5,1470.3 944.6,1473.0 947.3,1474.6 C950.0,1476.2 952.7,1477.7 955.5,1479.0 C958.2,1480.3 960.9,1480.7 963.6,1482.4 C966.3,1484.2 970.4,1488.4 971.8,1489.6" stroke-width="2.3" opacity="0.94"/><path d="M952.0,1367.9 C953.1,1368.4 956.3,1369.7 958.4,1370.9 C960.5,1372.1 962.7,1373.5 964.8,1375.0 C966.9,1376.6 969.1,1378.5 971.2,1380.2 C973.4,1381.8 976.6,1384.3 977.6,1385.1" stroke-width="2.3" opacity="0.62"/><path d="M1202.2,1414.9 C1204.4,1414.2 1210.9,1411.7 1215.2,1410.5 C1219.5,1409.4 1223.8,1408.5 1228.1,1407.9 C1232.4,1407.3 1236.7,1407.7 1241.1,1406.9 C1245.4,1406.1 1251.8,1403.6 1254.0,1402.9" stroke-width="1.1" opacity="0.92"/><path d="M966.8,1506.0 C968.8,1506.5 974.6,1507.1 978.6,1508.7 C982.5,1510.3 986.4,1514.0 990.3,1515.7 C994.3,1517.4 998.2,1517.8 1002.1,1519.0 C1006.0,1520.2 1011.9,1522.2 1013.9,1522.8" stroke-width="1.9" opacity="0.92"/><path d="M1197.1,1437.8 C1197.9,1437.6 1200.5,1436.7 1202.1,1436.3 C1203.8,1435.8 1205.5,1435.7 1207.2,1435.3 C1208.9,1434.8 1210.6,1434.1 1212.2,1433.7 C1213.9,1433.4 1216.4,1433.1 1217.3,1433.0" stroke-width="1.5" opacity="0.64"/><path d="M1180.5,1538.2 C1181.6,1538.1 1184.9,1537.8 1187.1,1537.3 C1189.4,1536.7 1191.6,1535.5 1193.8,1534.8 C1196.0,1534.1 1198.2,1534.0 1200.4,1533.2 C1202.7,1532.4 1206.0,1530.5 1207.1,1530.0" stroke-width="2.2" opacity="0.75"/><path d="M1391.4,1358.5 C1392.8,1358.9 1397.1,1360.6 1399.9,1360.6 C1402.8,1360.5 1405.6,1358.7 1408.4,1358.0 C1411.3,1357.4 1414.1,1356.8 1416.9,1356.5 C1419.8,1356.2 1424.0,1356.3 1425.4,1356.3" stroke-width="1.6" opacity="0.73"/><path d="M1090.2,1537.7 C1092.5,1537.4 1099.2,1536.7 1103.8,1536.1 C1108.3,1535.5 1112.8,1534.7 1117.3,1534.1 C1121.9,1533.4 1126.4,1532.7 1130.9,1532.2 C1135.4,1531.6 1142.2,1531.0 1144.5,1530.8" stroke-width="1.1" opacity="0.56"/><path d="M1051.8,1413.5 C1053.6,1413.9 1059.2,1414.5 1062.9,1415.6 C1066.6,1416.8 1070.4,1419.7 1074.1,1420.3 C1077.8,1420.9 1081.5,1419.7 1085.2,1419.2 C1089.0,1418.8 1094.5,1417.8 1096.4,1417.5" stroke-width="1.5" opacity="0.61"/><path d="M1007.8,1443.1 C1009.2,1443.7 1013.4,1444.9 1016.2,1446.5 C1019.0,1448.0 1021.7,1450.8 1024.5,1452.5 C1027.3,1454.1 1030.1,1455.3 1032.9,1456.4 C1035.6,1457.5 1039.8,1458.6 1041.2,1459.0" stroke-width="1.4" opacity="0.93"/><path d="M931.8,1409.0 C933.0,1409.1 936.6,1408.6 939.1,1409.3 C941.5,1410.1 943.9,1412.2 946.4,1413.5 C948.8,1414.9 951.3,1415.8 953.7,1417.4 C956.1,1419.0 959.8,1422.1 961.0,1423.0" stroke-width="1.0" opacity="0.62"/><path d="M951.3,1361.5 C952.6,1362.6 956.5,1365.9 959.1,1367.9 C961.7,1369.8 964.2,1371.3 966.8,1373.1 C969.4,1375.0 972.0,1377.2 974.6,1378.9 C977.2,1380.5 981.0,1382.3 982.3,1382.9" stroke-width="2.2" opacity="0.80"/><path d="M1114.8,1539.1 C1116.9,1539.2 1123.2,1540.4 1127.4,1539.9 C1131.5,1539.5 1135.7,1536.8 1139.9,1536.3 C1144.1,1535.8 1148.3,1537.3 1152.4,1536.9 C1156.6,1536.6 1162.9,1534.8 1165.0,1534.3" stroke-width="1.1" opacity="0.88"/><path d="M1288.6,1506.7 C1290.3,1504.8 1295.3,1498.4 1298.7,1495.2 C1302.0,1492.0 1305.3,1490.2 1308.7,1487.4 C1312.0,1484.6 1315.4,1480.5 1318.7,1478.5 C1322.0,1476.6 1327.1,1476.3 1328.7,1475.8" stroke-width="2.3" opacity="0.87"/><path d="M1257.5,1478.5 C1259.6,1477.3 1266.0,1473.8 1270.2,1471.0 C1274.4,1468.2 1278.6,1464.5 1282.9,1461.5 C1287.1,1458.5 1291.3,1456.1 1295.5,1452.9 C1299.8,1449.7 1306.1,1444.0 1308.2,1442.2" stroke-width="1.2" opacity="0.88"/><path d="M1235.7,1483.8 C1237.4,1483.0 1242.4,1480.6 1245.8,1478.8 C1249.1,1476.9 1252.4,1474.1 1255.8,1472.8 C1259.1,1471.4 1262.5,1472.0 1265.8,1470.6 C1269.2,1469.2 1274.2,1465.5 1275.8,1464.4" stroke-width="1.8" opacity="0.74"/><path d="M1303.4,1457.2 C1304.2,1456.4 1306.4,1454.0 1307.8,1452.7 C1309.3,1451.4 1310.8,1450.3 1312.2,1449.3 C1313.7,1448.4 1315.2,1448.1 1316.7,1447.0 C1318.1,1445.8 1320.3,1443.1 1321.1,1442.3" stroke-width="2.2" opacity="0.94"/><path d="M1168.2,1489.1 C1169.5,1488.9 1173.3,1488.5 1175.8,1488.0 C1178.3,1487.5 1180.8,1486.7 1183.4,1486.1 C1185.9,1485.6 1188.4,1485.6 1190.9,1484.8 C1193.5,1484.0 1197.2,1481.9 1198.5,1481.3" stroke-width="1.2" opacity="0.61"/><path d="M1213.8,1524.3 C1214.9,1523.9 1218.3,1522.6 1220.6,1521.9 C1222.9,1521.2 1225.1,1520.5 1227.4,1520.0 C1229.7,1519.5 1231.9,1519.5 1234.2,1518.7 C1236.5,1517.9 1239.9,1515.7 1241.0,1515.2" stroke-width="2.1" opacity="0.63"/><path d="M1160.3,1493.4 C1161.7,1493.6 1165.9,1494.7 1168.7,1494.2 C1171.5,1493.7 1174.3,1491.0 1177.1,1490.5 C1179.9,1490.1 1182.7,1491.5 1185.5,1491.3 C1188.3,1491.2 1192.5,1489.9 1193.9,1489.6" stroke-width="1.0" opacity="0.71"/><path d="M1142.3,1557.5 C1144.6,1557.2 1151.3,1556.5 1155.8,1556.1 C1160.2,1555.7 1164.7,1556.2 1169.2,1555.2 C1173.7,1554.2 1178.1,1551.1 1182.6,1549.9 C1187.1,1548.6 1193.8,1548.1 1196.0,1547.7" stroke-width="1.2" opacity="0.74"/><path d="M1343.5,1480.8 C1344.4,1481.0 1346.9,1482.0 1348.6,1482.1 C1350.3,1482.3 1352.0,1482.1 1353.7,1481.8 C1355.4,1481.5 1357.0,1480.4 1358.7,1480.6 C1360.4,1480.8 1363.0,1482.4 1363.8,1482.8" stroke-width="1.8" opacity="0.51"/><path d="M1152.1,1391.3 C1153.6,1391.0 1157.9,1390.1 1160.8,1389.8 C1163.7,1389.5 1166.6,1389.7 1169.4,1389.4 C1172.3,1389.2 1175.2,1388.4 1178.1,1388.4 C1181.0,1388.3 1185.3,1388.9 1186.8,1389.0" stroke-width="1.0" opacity="0.84"/><path d="M1396.9,1465.6 C1397.7,1465.8 1400.2,1466.6 1401.8,1466.4 C1403.5,1466.3 1405.1,1464.9 1406.8,1464.6 C1408.4,1464.3 1410.1,1464.8 1411.7,1464.9 C1413.4,1464.9 1415.8,1464.9 1416.7,1464.9" stroke-width="2.6" opacity="0.77"/><path d="M1066.5,1474.2 C1067.8,1474.2 1071.8,1474.4 1074.5,1474.6 C1077.2,1474.8 1079.9,1475.6 1082.5,1475.3 C1085.2,1475.0 1087.9,1473.1 1090.6,1472.9 C1093.2,1472.7 1097.3,1473.8 1098.6,1473.9" stroke-width="1.4" opacity="0.62"/><path d="M1119.3,1499.3 C1120.3,1499.2 1123.1,1498.8 1125.0,1498.6 C1126.9,1498.3 1128.7,1498.1 1130.6,1497.8 C1132.5,1497.5 1134.4,1496.8 1136.3,1496.7 C1138.2,1496.6 1141.0,1496.9 1141.9,1497.0" stroke-width="2.5" opacity="0.75"/><path d="M1301.6,1468.3 C1302.3,1467.8 1304.4,1466.5 1305.8,1465.4 C1307.3,1464.2 1308.7,1462.7 1310.1,1461.2 C1311.5,1459.7 1312.9,1458.0 1314.3,1456.4 C1315.8,1454.9 1317.9,1452.8 1318.6,1452.1" stroke-width="2.5" opacity="0.56"/><path d="M1079.1,1497.4 C1080.3,1497.3 1083.9,1497.3 1086.3,1496.7 C1088.7,1496.2 1091.0,1494.6 1093.4,1494.1 C1095.8,1493.7 1098.2,1494.7 1100.6,1494.3 C1103.0,1493.9 1106.6,1492.1 1107.8,1491.7" stroke-width="1.9" opacity="0.68"/><path d="M1037.3,1431.4 C1038.2,1431.6 1040.8,1432.3 1042.6,1432.6 C1044.4,1432.9 1046.2,1432.6 1048.0,1433.1 C1049.8,1433.7 1051.6,1435.5 1053.4,1436.1 C1055.2,1436.8 1057.8,1437.0 1058.7,1437.2" stroke-width="1.7" opacity="0.56"/><path d="M1105.4,1436.5 C1106.2,1436.3 1108.5,1435.8 1110.1,1435.4 C1111.6,1435.0 1113.2,1434.2 1114.7,1434.0 C1116.3,1433.8 1117.8,1434.1 1119.4,1434.2 C1120.9,1434.3 1123.3,1434.5 1124.0,1434.6" stroke-width="2.2" opacity="0.69"/><path d="M1115.0,1478.5 C1116.5,1478.2 1121.0,1477.0 1124.0,1476.7 C1127.0,1476.3 1130.0,1476.2 1133.0,1476.4 C1136.0,1476.5 1139.0,1477.9 1142.0,1477.5 C1145.0,1477.1 1149.5,1474.6 1151.0,1474.0" stroke-width="1.8" opacity="0.78"/><path d="M1067.9,1574.6 C1068.9,1574.4 1071.8,1574.0 1073.8,1573.5 C1075.8,1573.0 1077.7,1572.0 1079.7,1571.8 C1081.7,1571.5 1083.6,1572.0 1085.6,1571.9 C1087.6,1571.9 1090.5,1571.5 1091.5,1571.5" stroke-width="2.4" opacity="0.51"/><path d="M1366.0,1335.1 C1367.8,1335.1 1373.2,1335.4 1376.9,1335.0 C1380.5,1334.6 1384.1,1333.1 1387.7,1332.9 C1391.3,1332.7 1394.9,1333.7 1398.5,1333.8 C1402.2,1333.8 1407.6,1333.4 1409.4,1333.4" stroke-width="2.3" opacity="0.88"/><path d="M986.8,1591.5 C987.8,1592.0 990.9,1593.5 993.0,1594.4 C995.1,1595.3 997.2,1595.9 999.2,1596.7 C1001.3,1597.5 1003.4,1598.7 1005.5,1599.3 C1007.6,1599.9 1010.7,1599.9 1011.7,1600.1" stroke-width="2.0" opacity="0.84"/><path d="M948.4,1451.9 C949.9,1452.6 954.5,1454.0 957.6,1455.9 C960.7,1457.9 963.8,1461.7 966.9,1463.7 C970.0,1465.6 973.1,1466.2 976.2,1467.4 C979.2,1468.5 983.9,1469.9 985.4,1470.4" stroke-width="1.2" opacity="0.61"/><path d="M982.1,1510.5 C983.9,1511.5 989.3,1514.4 992.8,1516.1 C996.4,1517.7 1000.0,1519.2 1003.6,1520.4 C1007.1,1521.6 1010.7,1522.5 1014.3,1523.5 C1017.9,1524.4 1023.3,1525.6 1025.0,1526.1" stroke-width="2.0" opacity="0.50"/><path d="M1403.8,1377.9 C1405.2,1377.8 1409.4,1377.8 1412.2,1377.2 C1415.0,1376.7 1417.7,1375.3 1420.5,1374.6 C1423.3,1374.0 1426.1,1373.5 1428.9,1373.1 C1431.7,1372.8 1435.8,1372.5 1437.2,1372.4" stroke-width="2.5" opacity="0.82"/><path d="M1185.0,1449.0 C1185.6,1448.8 1187.6,1448.0 1188.9,1447.6 C1190.3,1447.2 1191.6,1446.6 1192.9,1446.5 C1194.2,1446.4 1195.5,1446.9 1196.9,1446.9 C1198.2,1447.0 1200.2,1446.8 1200.8,1446.7" stroke-width="1.4" opacity="0.52"/></g>
<path d="M940.0,1564.7 C943.4,1566.3 953.5,1571.5 960.3,1574.5 C967.1,1577.4 973.8,1579.9 980.6,1582.3 C987.4,1584.6 994.1,1586.5 1000.9,1588.4 C1007.7,1590.4 1014.4,1592.4 1021.2,1593.9 C1028.0,1595.5 1034.7,1597.5 1041.5,1597.7 C1048.3,1597.8 1055.0,1596.5 1061.8,1594.9 C1068.6,1593.2 1075.3,1589.0 1082.1,1587.9 C1088.9,1586.8 1095.6,1588.0 1102.4,1588.2 C1109.2,1588.4 1115.9,1589.1 1122.7,1589.3 C1129.5,1589.6 1136.2,1589.8 1143.0,1589.6 C1149.8,1589.4 1156.5,1589.1 1163.3,1588.2 C1170.1,1587.3 1176.8,1586.0 1183.6,1584.4 C1190.4,1582.8 1197.1,1581.1 1203.9,1578.5 C1210.7,1575.8 1217.4,1572.3 1224.2,1568.6 C1231.0,1565.0 1237.7,1560.9 1244.5,1556.5 C1251.3,1552.1 1258.0,1547.9 1264.8,1542.1 C1271.6,1536.2 1278.3,1528.1 1285.1,1521.1 C1291.9,1514.2 1298.6,1506.3 1305.4,1500.5 C1312.2,1494.7 1318.9,1489.2 1325.7,1486.3 C1332.5,1483.3 1339.2,1483.1 1346.0,1482.7 C1352.8,1482.3 1359.5,1483.5 1366.3,1483.9 C1373.1,1484.3 1379.8,1484.7 1386.6,1485.1 C1393.4,1485.5 1400.1,1486.0 1406.9,1486.4 C1413.7,1486.7 1420.4,1487.0 1427.2,1487.1 C1434.0,1487.2 1444.1,1487.0 1447.5,1487.0 L1447.5,1502.0 C1444.1,1502.0 1434.0,1502.2 1427.2,1502.0 C1420.4,1501.8 1413.7,1501.5 1406.9,1501.1 C1400.1,1500.7 1393.4,1500.2 1386.6,1499.7 C1379.8,1499.3 1373.1,1498.8 1366.3,1498.4 C1359.5,1497.9 1352.8,1496.7 1346.0,1497.0 C1339.2,1497.4 1332.5,1497.5 1325.7,1500.5 C1318.9,1503.4 1312.2,1508.8 1305.4,1514.6 C1298.6,1520.3 1291.9,1528.0 1285.1,1534.8 C1278.3,1541.6 1271.6,1549.6 1264.8,1555.3 C1258.0,1561.1 1251.3,1565.1 1244.5,1569.4 C1237.7,1573.7 1231.0,1577.6 1224.2,1581.1 C1217.4,1584.6 1210.7,1587.8 1203.9,1590.6 C1197.1,1593.3 1190.4,1595.6 1183.6,1597.7 C1176.8,1599.8 1170.1,1601.7 1163.3,1603.1 C1156.5,1604.5 1149.8,1605.4 1143.0,1606.1 C1136.2,1606.9 1129.5,1607.2 1122.7,1607.5 C1115.9,1607.8 1109.2,1607.8 1102.4,1608.0 C1095.6,1608.2 1088.9,1607.2 1082.1,1608.6 C1075.3,1610.0 1068.6,1614.4 1061.8,1616.4 C1055.0,1618.4 1048.3,1620.2 1041.5,1620.7 C1034.7,1621.2 1028.0,1620.1 1021.2,1619.4 C1014.4,1618.6 1007.7,1617.7 1000.9,1616.3 C994.1,1614.9 987.4,1613.0 980.6,1610.9 C973.8,1608.8 967.1,1606.5 960.3,1603.8 C953.5,1601.1 943.4,1596.2 940.0,1594.7 Z" fill="#a0609f"/>
<path d="M940.0,1309.9 C943.4,1312.5 953.5,1320.4 960.3,1325.3 C967.1,1330.1 973.8,1334.6 980.6,1338.9 C987.4,1343.2 994.1,1346.9 1000.9,1351.1 C1007.7,1355.2 1014.4,1359.6 1021.2,1364.0 C1028.0,1368.4 1034.7,1374.2 1041.5,1377.5 C1048.3,1380.7 1055.0,1382.1 1061.8,1383.7 C1068.6,1385.3 1075.3,1387.3 1082.1,1387.2 C1088.9,1387.1 1095.6,1384.8 1102.4,1383.0 C1109.2,1381.2 1115.9,1378.0 1122.7,1376.4 C1129.5,1374.9 1136.2,1374.6 1143.0,1373.7 C1149.8,1372.9 1156.5,1372.0 1163.3,1371.3 C1170.1,1370.6 1176.8,1370.0 1183.6,1369.3 C1190.4,1368.6 1197.1,1367.9 1203.9,1367.1 C1210.7,1366.3 1217.4,1365.4 1224.2,1364.5 C1231.0,1363.7 1237.7,1362.8 1244.5,1361.9 C1251.3,1361.1 1258.0,1360.1 1264.8,1359.2 C1271.6,1358.2 1278.3,1358.6 1285.1,1356.4 C1291.9,1354.2 1298.6,1350.5 1305.4,1346.0 C1312.2,1341.5 1318.9,1333.7 1325.7,1329.3 C1332.5,1324.9 1339.2,1321.9 1346.0,1319.6 C1352.8,1317.3 1359.5,1316.3 1366.3,1315.4 C1373.1,1314.5 1379.8,1314.9 1386.6,1314.4 C1393.4,1313.9 1400.1,1313.5 1406.9,1312.3 C1413.7,1311.2 1420.4,1308.8 1427.2,1307.5 C1434.0,1306.2 1444.1,1305.1 1447.5,1304.6 L1447.5,1312.6 C1444.1,1313.1 1434.0,1314.1 1427.2,1315.4 C1420.4,1316.6 1413.7,1318.9 1406.9,1320.0 C1400.1,1321.1 1393.4,1321.5 1386.6,1322.0 C1379.8,1322.5 1373.1,1322.0 1366.3,1322.8 C1359.5,1323.7 1352.8,1324.6 1346.0,1326.9 C1339.2,1329.2 1332.5,1332.2 1325.7,1336.5 C1318.9,1340.9 1312.2,1348.6 1305.4,1353.0 C1298.6,1357.5 1291.9,1361.2 1285.1,1363.4 C1278.3,1365.6 1271.6,1365.2 1264.8,1366.2 C1258.0,1367.1 1251.3,1368.1 1244.5,1368.9 C1237.7,1369.8 1231.0,1370.7 1224.2,1371.5 C1217.4,1372.4 1210.7,1373.3 1203.9,1374.1 C1197.1,1374.9 1190.4,1375.6 1183.6,1376.3 C1176.8,1377.0 1170.1,1377.4 1163.3,1378.3 C1156.5,1379.2 1149.8,1380.4 1143.0,1381.6 C1136.2,1382.7 1129.5,1383.4 1122.7,1385.3 C1115.9,1387.2 1109.2,1391.0 1102.4,1392.9 C1095.6,1394.8 1088.9,1396.9 1082.1,1396.9 C1075.3,1396.9 1068.6,1394.8 1061.8,1393.1 C1055.0,1391.3 1048.3,1390.0 1041.5,1386.5 C1034.7,1383.0 1028.0,1376.8 1021.2,1372.1 C1014.4,1367.3 1007.7,1362.5 1000.9,1358.1 C994.1,1353.7 987.4,1350.2 980.6,1345.9 C973.8,1341.6 967.1,1337.1 960.3,1332.3 C953.5,1327.4 943.4,1319.5 940.0,1316.9 Z" fill="#a0609f"/>
<g opacity="0.45"><rect x="940.0" y="1300" width="510" height="330" filter="url(#epi)" clip-path="url(#epv)"/></g>
<path d="M940.0,1365.8 C943.4,1367.0 953.5,1370.8 960.3,1373.2 C967.1,1375.7 973.8,1378.2 980.6,1380.7 C987.4,1383.2 994.1,1385.1 1000.9,1388.3 C1007.7,1391.5 1014.4,1395.9 1021.2,1399.7 C1028.0,1403.5 1034.7,1407.8 1041.5,1411.0 C1048.3,1414.3 1055.0,1416.8 1061.8,1419.1 C1068.6,1421.4 1075.3,1423.1 1082.1,1424.8 C1088.9,1426.5 1095.6,1429.2 1102.4,1429.3 C1109.2,1429.4 1115.9,1426.6 1122.7,1425.3 C1129.5,1423.9 1136.2,1422.6 1143.0,1421.2 C1149.8,1419.8 1156.5,1418.2 1163.3,1416.6 C1170.1,1415.0 1176.8,1413.4 1183.6,1411.7 C1190.4,1410.1 1197.1,1408.5 1203.9,1406.9 C1210.7,1405.2 1217.4,1403.6 1224.2,1401.9 C1231.0,1400.3 1237.7,1398.6 1244.5,1397.0 C1251.3,1395.3 1258.0,1393.6 1264.8,1392.0 C1271.6,1390.5 1278.3,1389.0 1285.1,1387.6 C1291.9,1386.2 1298.6,1384.9 1305.4,1383.5 C1312.2,1382.2 1318.9,1380.8 1325.7,1379.5 C1332.5,1378.1 1339.2,1376.5 1346.0,1375.4 C1352.8,1374.3 1359.5,1373.5 1366.3,1372.8 C1373.1,1372.0 1379.8,1371.6 1386.6,1371.0 C1393.4,1370.4 1400.1,1369.8 1406.9,1369.2 C1413.7,1368.5 1420.4,1367.7 1427.2,1367.0 C1434.0,1366.3 1444.1,1365.2 1447.5,1364.8 L1447.5,1383.2 C1444.1,1383.7 1434.0,1385.2 1427.2,1386.2 C1420.4,1387.2 1413.7,1388.2 1406.9,1389.3 C1400.1,1390.3 1393.4,1391.5 1386.6,1392.6 C1379.8,1393.7 1373.1,1394.8 1366.3,1396.1 C1359.5,1397.4 1352.8,1398.8 1346.0,1400.4 C1339.2,1402.0 1332.5,1404.1 1325.7,1406.0 C1318.9,1407.8 1312.2,1409.7 1305.4,1411.6 C1298.6,1413.4 1291.9,1415.3 1285.1,1417.1 C1278.3,1419.0 1271.6,1420.8 1264.8,1422.7 C1258.0,1424.5 1251.3,1426.3 1244.5,1428.2 C1237.7,1430.0 1231.0,1431.8 1224.2,1433.7 C1217.4,1435.5 1210.7,1437.2 1203.9,1439.1 C1197.1,1441.1 1190.4,1443.3 1183.6,1445.4 C1176.8,1447.6 1170.1,1450.0 1163.3,1451.9 C1156.5,1453.9 1149.8,1455.8 1143.0,1457.0 C1136.2,1458.3 1129.5,1458.7 1122.7,1459.5 C1115.9,1460.3 1109.2,1462.2 1102.4,1461.9 C1095.6,1461.7 1088.9,1459.4 1082.1,1457.9 C1075.3,1456.4 1068.6,1454.8 1061.8,1453.0 C1055.0,1451.3 1048.3,1449.5 1041.5,1447.5 C1034.7,1445.5 1028.0,1443.1 1021.2,1441.0 C1014.4,1438.8 1007.7,1436.7 1000.9,1434.5 C994.1,1432.3 987.4,1430.0 980.6,1427.7 C973.8,1425.5 967.1,1423.2 960.3,1421.0 C953.5,1418.7 943.4,1415.3 940.0,1414.2 Z" fill="#bf84bf"/>
<path fill="#fff" d="M1102.4,1444.8 1102.6,1446.7 1103.8,1448.1 1105.6,1448.6 1113.1,1448.2 1117.6,1443.4 1118.4,1441.9 1117.5,1438.1 1115.6,1436.1 1108.6,1434 1104.4,1437 1103.4,1438.9ZM1041.1,1441.7 1042.4,1434.9 1041.7,1433.5 1040.3,1432.6 1032.9,1430.2 1031.2,1430.2 1028.7,1432.1 1027.8,1434.1 1027.8,1439.8 1029.8,1441.6 1037,1443.9 1038.7,1444 1040.2,1443.1ZM1188.5,1416.8 1188.8,1418.6 1190,1420 1191.7,1420.5 1199.7,1420.3 1201.9,1419.5 1204,1416.7 1203.9,1414.8 1202,1410.8 1200.7,1410.1 1199.1,1410.1 1191.3,1412 1189.6,1413ZM1089.6,1452.2 1088.5,1453.7 1088.4,1455.4 1089.3,1457 1090.8,1457.9 1098.1,1459.2 1099.8,1458.9 1101.1,1457.9 1102.1,1451.8 1101.7,1450.1 1100.5,1448.8 1095.4,1448.5 1093.6,1449.1ZM1044.6,1435.2 1042.7,1444.1 1043.5,1445.5 1047.9,1447.4 1049.8,1447.4 1051.4,1446.4 1055,1442 1055.8,1440.3 1055.5,1438.5 1053.7,1435 1052.2,1433.6 1049,1432.3 1047.7,1432.5 1045.3,1433.9ZM1425.3,1371 1422.9,1378 1425.3,1381.9 1426.7,1382.9 1428.5,1383.1 1430,1382.3 1434.7,1378.1 1435.6,1376.6 1435.6,1374.9 1431.1,1369.8 1429.9,1369.1 1427.9,1369 1426.3,1369.6ZM959.2,1375 953.8,1373.5 952.3,1374.4 951.4,1375.9 951.4,1377.7 954.9,1381.2 956.7,1381.9 958.6,1381.5 961,1379.4 961.3,1377.7 960.7,1376.1ZM1395.7,1383.7 1395.3,1385.4 1395.9,1387.1 1397.3,1388.2 1399,1388.4 1405.7,1386.9 1406.6,1385.6 1406.9,1384 1406.3,1382.5 1405,1381.5 1403.4,1381.2 1398.4,1381.7 1396.9,1382.2ZM954,1398.1 952.1,1396.1 950.8,1395.9 944.9,1396.7 943.8,1398.1 942.3,1402.5 944.4,1406.6 945.8,1407.8 947.6,1408 949.8,1407.7 951.9,1406.4 954.9,1401.7ZM1119.1,1436.1 1120.8,1441.3 1124.1,1442.8 1126,1442.9 1129.9,1441.5 1133.6,1434.9 1133.9,1433.4 1133.5,1431.9 1128.1,1428.1 1126.6,1427.7 1125.1,1428 1119.7,1434.7ZM1033.7,1424.4 1033.2,1426.2 1033.8,1428 1035.4,1429.1 1043.1,1431.6 1045.3,1431.6 1047.6,1430 1048.2,1428.3 1048.2,1422.4 1047,1419.9 1045.7,1419.3 1040.2,1418 1038.2,1418.2 1036.8,1419.5ZM1362.7,1377.1 1361.2,1376.3 1359.4,1376.4 1358,1377.4 1354.7,1382.3 1356.1,1387.1 1357,1388.3 1358.4,1389 1365,1387.6 1366.4,1386.9 1367.2,1385.5 1367.6,1382.5 1366.7,1381ZM1185.8,1429.3 1187.2,1427.2 1187.8,1423.3 1187.5,1421.5 1186.3,1420.1 1184.6,1419.6 1177.3,1419.7 1175.8,1420 1174.6,1421.1 1173.6,1427.5 1174,1429.3 1175.4,1430.7 1180.3,1432.6ZM950,1379.4 948.4,1378.7 946.6,1378.9 945.3,1380.1 941.7,1385.3 941.2,1386.9 941.5,1388.6 943.6,1392.6 944.9,1393.9 946.6,1394.4 953.2,1393.6 956.6,1388.9 956,1385.3 955,1383.6ZM1333.5,1380 1331.2,1381.8 1331.3,1384.7 1332.6,1386 1334.5,1386.4 1337.3,1385.8 1339,1383.2 1338.8,1381.7 1338,1380.5 1336.7,1379.7ZM963.3,1414.3 962.1,1415.6 961.8,1417.3 962.4,1419 963.9,1420 967.4,1421.2 969.3,1421.2 971.7,1419.1 972.1,1416.2 970.1,1414.2 965.9,1413ZM1059.2,1440.2 1064.7,1442 1066.2,1441.4 1070.6,1433 1070.9,1431.1 1070.1,1429.5 1067.5,1427.1 1066,1426.9 1064.5,1427.4 1056.4,1433.2 1056,1434.7 1057.6,1438.7ZM1409.6,1374.6 1410.2,1376.1 1411.4,1377.1 1418.7,1377.4 1420.4,1376.8 1421.6,1375.4 1422.2,1372.8 1421.6,1371.3 1420.3,1370.2 1412.4,1370.7 1410.9,1371.3 1409.9,1372.5ZM1253.4,1402.2 1249.4,1401 1245.5,1403.3 1244.6,1404.3 1244.1,1406.7 1244.6,1408.7 1246.3,1410 1250.9,1411.6 1252.8,1411.7 1254.4,1410.6 1255.1,1408.9 1255.4,1405.4 1254.9,1403.5ZM1118.7,1444.9 1115.2,1449.6 1115.3,1451.3 1117.6,1456.8 1120.3,1457.7 1125.3,1456.6 1126.3,1455.1 1126.4,1453.3 1123.9,1445 1122.2,1444 1120.3,1443.9ZM989,1407.3 988.8,1400.6 987.7,1399.4 986.3,1398.9 979.8,1401 978.3,1402.2 977.8,1404 978.3,1409.2 979.6,1410.4 981.2,1410.7 987.5,1410 988.6,1408.8ZM1163.8,1418.6 1162.5,1419.3 1161.6,1420.5 1162,1428.6 1163.3,1431 1165.6,1431.6 1167.4,1431.4 1171.2,1429.3 1171.8,1427.7 1172.2,1419.4 1171.4,1418.2 1170,1417.5ZM1377.7,1391.1 1380.5,1386.4 1380.2,1384.6 1378,1381.3 1376.6,1380.8 1375.1,1380.9 1370.2,1383 1368.9,1386.2 1369.4,1389.1 1372.5,1392.4 1375.7,1392.4ZM1003.7,1404.8 1005,1406.1 1006.8,1406.5 1011.5,1405.7 1012.6,1404.3 1012.8,1402.5 1012,1398.1 1010.4,1395.8 1007.6,1394.9 1006,1395.4 1002.1,1398.5 1001.7,1400 1002,1401.5ZM1244.7,1411.3 1241.8,1411.7 1239,1413.6 1237.7,1415.3 1237.5,1417.5 1240.3,1420.9 1242.5,1421.8 1248.2,1421.5 1249.9,1419.4 1250.7,1415 1249.9,1413.6 1248.6,1412.7ZM1033,1412.2 1027.7,1412.4 1026.5,1413.4 1024.6,1417.1 1025.3,1419 1027.9,1422.2 1029.1,1423.1 1030.5,1423.4 1032,1423 1033.1,1421.9 1035.7,1417.7 1036.1,1415 1034.8,1412.9ZM1341.4,1391 1343.2,1392.5 1350.9,1395 1352.5,1395 1353.9,1394.3 1355.2,1392 1355.2,1389.7 1352.2,1383.3 1344.8,1381.7 1343.1,1381.9 1340.2,1385.3 1339.6,1387ZM1290.5,1399.5 1290.6,1401.2 1291.5,1402.6 1293,1403.3 1294.6,1403.2 1301.2,1401.1 1302.6,1400 1303.3,1398.4 1303,1396.6 1300.4,1392.4 1294.9,1391.8 1292.3,1393ZM1222.5,1410.2 1221.3,1412.8 1221.7,1414.3 1227.9,1418.9 1229.4,1419.4 1231,1419.2 1233.9,1417.9 1235.7,1415.9 1235.9,1414 1235.2,1412.6 1229.5,1406.6 1227.9,1406.4 1226.4,1407.1ZM1222.2,1430.4 1223.9,1430.5 1225.5,1429.7 1226.4,1428.2 1227.7,1423.5 1227.6,1421.6 1226.4,1420 1221.1,1416.4 1219.3,1415.9 1215.4,1417.8 1214.1,1419.3 1214,1421.2 1215.9,1427.6ZM1181.9,1439.8 1182.6,1441.5 1184.1,1442.6 1186,1442.5 1192.9,1440.3 1194.3,1439.4 1195,1437.8 1194.9,1436.1 1193.8,1434.7 1189.6,1431.6 1187.8,1430.9 1185.9,1431.5 1181.8,1434.8ZM1252.8,1415.4 1251.9,1420.8 1252.7,1422.2 1254.2,1423 1255.8,1423 1260,1421.4 1260.9,1419.9 1261.4,1416.6 1259.6,1414.3 1255.4,1413 1253.8,1413.8ZM1311.5,1399.8 1307,1400.6 1305.9,1402 1305.9,1405.5 1306.6,1407.2 1308.1,1408.2 1309.9,1408.2 1314.4,1406.5 1315.2,1405.1 1315.2,1403.5 1314.1,1400.8ZM1146,1443.8 1146.6,1445.6 1148,1446.8 1149.9,1446.9 1154.2,1445.9 1155.9,1444.8 1156.6,1442.9 1156.9,1437 1156.6,1435.5 1155.7,1434.3 1153.6,1433.6 1151.3,1434 1147.5,1436.4 1146.4,1437.6 1146,1439.1ZM1275,1396.8 1273,1397.9 1270.2,1401.7 1270.7,1404.9 1271.6,1406.3 1273.1,1407.1 1281,1408.6 1282.6,1408.5 1283.9,1407.7 1284.7,1406.3 1284.7,1404.7 1283.9,1403.3 1278.6,1397.7 1277.4,1396.8ZM991.8,1386.9 986.7,1385.5 985.3,1386 984.3,1387.1 983.9,1388.6 984.2,1390 986.8,1395.4 988.8,1397.1 991.2,1396.9 993,1394.7 993.8,1389.1 993,1387.8ZM961.6,1402.4 963.4,1402.3 964.9,1401.3 967.7,1398 968.3,1396.7 968.3,1395.1 967.5,1393.8 966.2,1393 960.5,1391 958.5,1391 955.8,1393.6 955.3,1395 955.4,1396.5 957.3,1400.9ZM1001.6,1412.1 1000.9,1413.8 1001.2,1415.6 1002.9,1419 1004.2,1420.3 1005.9,1420.7 1011.9,1420.1 1014.5,1416.4 1013,1410.3 1011.1,1408.3 1004.7,1408.8ZM1021.6,1432.2 1020,1432.3 1018.6,1433.1 1017.8,1434.5 1017.7,1436.1 1018.5,1437.5 1019.9,1438.4 1023.6,1439 1025.2,1437.9 1025.9,1436.1 1025.6,1434.5 1024.7,1433.3ZM1395.5,1378.4 1396.8,1379.5 1398.5,1379.9 1406.6,1378.7 1407.7,1377.4 1407.9,1375.8 1407.2,1372.8 1405.9,1371.8 1404.3,1371.5 1395.7,1372.8 1394.6,1374 1394.3,1375.6ZM1229.1,1425.2 1229.1,1426.9 1229.9,1428.3 1231.3,1429.2 1233,1429.2 1237.4,1428 1239,1426.9 1239.8,1424.5 1238.8,1422 1235.7,1419.7 1233.8,1419.9 1230.3,1421.8ZM1139.5,1428.8 1139,1430.4 1139.4,1432.1 1143.4,1434.9 1145,1435.3 1148.8,1433.4 1150.3,1431 1148.2,1424.9 1146.1,1423 1143.1,1423.6ZM1315.8,1390.4 1314.8,1396.2 1315.6,1397.6 1317,1398.4 1318.6,1398.5 1324,1397.2 1325.5,1396.3 1326.3,1394.8 1326.6,1392.3 1325.9,1390.9 1324.6,1390.1 1320.1,1388.2 1318.3,1388.1 1316.7,1388.9ZM1055.2,1444.6 1054.5,1446 1054.6,1447.6 1055.5,1449 1056.9,1449.7 1064.4,1451.1 1065.8,1450.4 1066.6,1449.1 1066.9,1447.5 1066.3,1445.8 1064.7,1444.4 1059.9,1442.4 1057.9,1442.3ZM979.2,1412.7 977.5,1413.2 976.4,1414.6 976.2,1416.3 976.9,1417.9 980.1,1421.6 981.4,1422.6 983.1,1422.7 987.5,1421.4 989.5,1416.4 989.6,1414.8 988.9,1413.5 987.7,1412.5 986.2,1412.2ZM1054.1,1419.1 1052.2,1419.1 1050.6,1420.3 1050,1422.1 1050,1428.4 1050.5,1430.1 1051.8,1431.3 1053.8,1431.8 1062.1,1426.8 1063.3,1425.4 1063.5,1423.7 1062.7,1422 1061.2,1421.1ZM1304.1,1406 1303.4,1404.3 1301.8,1403.3 1300,1403.4 1294.6,1405.5 1293.8,1406.9 1293.8,1408.4 1294.9,1410.4 1296.4,1411.4 1298.2,1411.4 1303.2,1409.7 1304.1,1408.4ZM1258.5,1402.1 1257.3,1404.3 1256.9,1408.8 1257.3,1410.7 1258.7,1411.9 1262.2,1413.6 1264.3,1413.8 1266.2,1412.4 1268.7,1408.6 1269.2,1407.3 1268.5,1403.8 1267.7,1402.5 1266.3,1401.7 1262.4,1400.6 1260.9,1400.5ZM1080.5,1445.5 1080.3,1447.4 1081.2,1449 1084.7,1452 1086.2,1452.1 1087.6,1451.5 1090.7,1449.1 1091.7,1447.9 1092,1446.4 1089.2,1440.7 1086.9,1439.2 1083,1440.3ZM1150.4,1425.6 1153.1,1431.2 1156.4,1432.3 1159.1,1431.5 1160,1430.3 1159.7,1423.4 1159,1421.7 1157.5,1420.6 1152.7,1421.2 1151.1,1422.1 1150.2,1423.7ZM1302.7,1389.7 1302.9,1392.3 1305,1396.5 1306.3,1397.9 1309.8,1398.1 1311.6,1397.4 1312.6,1395.7 1314.4,1386.9 1313.6,1385.5 1312.3,1384.7 1306,1385.5 1304.5,1386.2ZM1412.7,1379.3 1410.9,1379.8 1409.8,1381.3 1409.7,1383.6 1410.4,1385.1 1411.7,1386 1417.6,1385.6 1419.1,1384.9 1420.1,1383.7 1420.3,1382.1 1419.8,1380.6 1418.6,1379.6ZM1103.5,1455.8 1103.9,1457.6 1105.3,1458.9 1107.1,1459.2 1111.9,1458.7 1113.6,1457.9 1114.6,1456.3 1113.8,1452.4 1112.6,1450.8 1110.7,1450.3 1105.4,1450.7 1104.3,1451.8ZM1282.2,1413.7 1281.9,1412.1 1281,1410.8 1273,1408.9 1271.2,1409.1 1269.7,1410.3 1268.2,1413.3 1269.1,1416 1272,1418.2 1279.8,1416.5 1281.4,1415.4ZM1007.6,1434.5 1009.2,1434.6 1010.7,1433.8 1013.4,1431.3 1014.3,1429.7 1014.2,1427.8 1012.8,1424.3 1011.5,1422.8 1009.7,1422.3 1004.1,1423 1003,1424.2 1002.2,1426.4 1004.2,1432.2 1005,1433.3ZM1379.6,1377.5 1379.8,1380.1 1382.1,1384.5 1384.1,1386.1 1390.4,1387.3 1392.6,1385.7 1394.2,1382.7 1394.6,1381 1394.1,1379.5 1391,1374.5 1389.8,1373.3 1388,1373 1383.1,1373.4 1381.4,1374.1ZM1329.9,1390.3 1328.8,1392 1327.9,1397.2 1329.8,1400.5 1331.3,1401.7 1333.3,1401.8 1337.3,1400.3 1340.1,1393 1338.5,1389.7 1337.2,1388.4 1335.4,1388.1 1333.1,1388.3ZM1234.3,1401.6 1232.9,1402.4 1232,1403.7 1231.9,1405.3 1232.6,1406.8 1236.9,1411.2 1238.4,1411.4 1239.8,1410.9 1241.8,1409.1 1242.2,1404.2 1239.8,1401.6 1238.4,1400.9ZM1128.2,1453.3 1129,1454.8 1130.5,1455.7 1132.1,1455.7 1136.5,1452 1137.4,1450.4 1137.2,1448.5 1136,1447.1 1131.8,1444.3 1129.1,1443.9 1127.7,1444.7 1126.9,1446.1ZM990.9,1401.3 991.2,1410.4 992.2,1411.6 993.6,1412.1 997.1,1412.5 998.6,1412.3 999.9,1411.3 1002.5,1407.5 1002.1,1405.7 998.8,1399.7 995,1398.2 992.2,1398.7ZM1207.2,1408.2 1205.6,1409.1 1204.8,1410.6 1204.9,1412.4 1206.7,1416 1208.1,1416.7 1212.2,1417.4 1217,1414.6 1218.2,1413.3 1218.5,1411.7 1217.9,1410.1 1215,1406.9 1213.1,1406.7ZM1079.4,1429.2 1078.2,1430.6 1078,1432.4 1078.7,1434 1082.6,1437.7 1084.4,1437.7 1087.6,1436.5 1089.8,1433.2 1090.2,1431.3 1089.5,1429.6 1087.9,1428.5 1082.7,1427.4ZM1020.6,1405 1015.6,1406.3 1014.7,1407.9 1014.7,1409.7 1015.9,1413.7 1017,1415.3 1018.8,1416 1022.1,1415.8 1024.9,1412.6 1025.5,1410.9 1025.2,1409.2 1023.9,1406.8 1022.6,1405.4ZM1280.2,1393.3 1279.8,1395.3 1280.6,1397.1 1283.4,1400.1 1284.9,1401 1286.6,1401 1288,1400.1 1288.8,1398.6 1290.1,1393.3 1290,1391.7 1289.2,1390.4 1287.9,1389.5 1286.3,1389.5 1283.3,1390.1 1282,1390.6ZM1071.5,1435.3 1068,1443.5 1068.5,1445 1069.6,1446.1 1075.8,1446.7 1077.7,1446.2 1078.9,1444.7 1080.5,1439.5 1076.8,1434.5 1075.5,1433.7 1073.9,1433.5 1072.5,1434.1ZM971.9,1412.9 973.4,1413 974.8,1412.4 975.8,1411.2 975.9,1403.2 974.6,1400.7 971.4,1398.7 969.8,1398.9 968.5,1399.9 965.9,1402.9 965.3,1405.7 966.8,1410.7ZM1142.6,1436.5 1137.8,1434.3 1136.2,1434.8 1135,1436 1132.8,1441.2 1133.2,1442.7 1134.3,1443.8 1139.2,1447 1140.9,1447.5 1142.5,1447.2 1143.7,1446 1144.2,1439.3 1143.7,1437.7ZM958.2,1386.8 959,1388.2 960.3,1389.1 967,1391.3 969,1391.3 970.6,1390.1 971.6,1388.1 969.8,1381.4 968.7,1379.8 966.9,1379.2 965.1,1379.6 959.6,1383 958.3,1384.5ZM1179.2,1435 1172.4,1431.5 1170,1432.2 1168.2,1434.4 1169.1,1440.7 1170.7,1443 1172.1,1443.3 1176.8,1443.5 1178.5,1443 1179.7,1441.7 1180.1,1440ZM1018.4,1429.7 1026.5,1431.1 1028.2,1429.9 1029,1428.6 1029,1427.1 1028.4,1425.8 1022.1,1418.3 1018.1,1417.7 1016.5,1418 1015.3,1419 1014,1421.5 1016.1,1427.7 1017,1429ZM999.4,1416 998.4,1414.8 996.9,1414.3 993.3,1414.2 992.1,1415 990,1420.7 990,1422.3 992,1425.3 993.4,1426.3 998.7,1425.8 1001,1424.1 1001.9,1421.7ZM1291,1408.4 1289.5,1407.4 1287.7,1407.4 1286.1,1408.4 1285.1,1410.2 1285.1,1411.8 1286,1413.2 1287.4,1413.9 1289.1,1413.9 1290.9,1413 1291.8,1411.7 1291.8,1410.1ZM1090.3,1435.9 1089.9,1437.5 1090.3,1439.1 1093.6,1445 1094.9,1446.2 1097.6,1446.6 1100.1,1445.3 1101.3,1440.2 1101,1438.2 1099.5,1436.8 1093,1434.2 1091.5,1434.6ZM1205.3,1430.8 1209.6,1431.5 1212.4,1429.5 1213.3,1428.1 1213.4,1426.4 1212.2,1421.3 1211.3,1419.8 1209.8,1418.9 1206.1,1418.5 1204.7,1419.2 1202.6,1421.7 1202.9,1428 1203.7,1429.8ZM1161.1,1447.4 1162.5,1447.9 1164,1447.7 1167.5,1443.8 1166.3,1435.7 1165.4,1434 1162.5,1433 1160.5,1433.2 1159.3,1434.4 1158.8,1436 1158.4,1443.7 1158.7,1445.3ZM1324.7,1381.8 1323.2,1382.5 1322.3,1383.8 1322.1,1385.5 1322.8,1386.9 1324.7,1388.2 1326.3,1388.4 1327.7,1387.8 1328.7,1386.7 1329.1,1385.2 1328.8,1383.7 1327.1,1381.9ZM995.1,1393.4 995.2,1394.9 996,1396.3 997.3,1397.1 999.4,1397.4 1001.5,1396.3 1002.5,1395.1 1002.9,1393.5 1002.4,1392 1001.2,1390.9 998.5,1389.8 995.9,1391.1ZM954.5,1405.9 953.9,1407.3 954,1408.8 958.8,1413.5 961.5,1413.2 964,1411 963.6,1406.5 962.8,1405 961.3,1404.2 956.8,1403.6ZM972.8,1390.2 970.8,1393.7 971.1,1395.3 972.1,1396.6 977,1399.7 982.3,1398.1 983.6,1397 984.3,1395.4 982.1,1389.9 980.7,1388.5 978.7,1388.2 974.8,1388.9ZM1189.1,1426.7 1189.2,1428.4 1190.3,1429.8 1195.9,1433.7 1198.7,1432.9 1201,1430.5 1200.8,1425.1 1200.3,1423.6 1199.1,1422.5 1197.6,1422.2 1191,1422.6 1189.9,1423.6Z"/>
<path d="M940,1341 C965,1348 995,1360 1044,1389 C1010,1378 975,1368 940,1361 Z" fill="#fdf7fb"/>
<path d="M940,1449 C962,1455 988,1463 1012,1476 C985,1471 962,1468 940,1466 Z" fill="#fdf7fb"/>
<ellipse cx="1437" cy="1422" rx="13" ry="11" transform="rotate(0 1437 1422)" fill="#fff"/>
<ellipse cx="1393.7" cy="1437" rx="13" ry="7.5" transform="rotate(-10 1393.7 1437)" fill="#fff"/>
<ellipse cx="1332.8" cy="1453.5" rx="14.5" ry="6.5" transform="rotate(-8 1332.8 1453.5)" fill="#fff"/>
<ellipse cx="1298.3" cy="1467.5" rx="12" ry="8" transform="rotate(-20 1298.3 1467.5)" fill="#fff"/>
<ellipse cx="1210.9" cy="1512.6" rx="6.5" ry="6" transform="rotate(0 1210.9 1512.6)" fill="#fff"/>
<ellipse cx="1118" cy="1447" rx="9" ry="3" transform="rotate(-15 1118 1447)" fill="#fff"/>
</g>
<path d="M940.0,1306.6 C943.4,1309.2 953.5,1317.5 960.3,1322.6 C967.1,1327.8 973.8,1333.3 980.6,1337.4 C987.4,1341.6 994.1,1343.3 1000.9,1347.4 C1007.7,1351.5 1014.4,1357.2 1021.2,1361.9 C1028.0,1366.6 1034.7,1372.5 1041.5,1375.6 C1048.3,1378.6 1055.0,1378.4 1061.8,1380.0 C1068.6,1381.7 1075.3,1385.5 1082.1,1385.6 C1088.9,1385.7 1095.6,1382.7 1102.4,1380.6 C1109.2,1378.5 1115.9,1374.3 1122.7,1373.0 C1129.5,1371.6 1136.2,1373.2 1143.0,1372.4 C1149.8,1371.6 1156.5,1369.3 1163.3,1368.3 C1170.1,1367.3 1176.8,1366.7 1183.6,1366.3 C1190.4,1365.9 1197.1,1366.6 1203.9,1365.7 C1210.7,1364.9 1217.4,1362.1 1224.2,1361.0 C1231.0,1360.0 1237.7,1360.1 1244.5,1359.5 C1251.3,1358.9 1258.0,1358.7 1264.8,1357.6 C1271.6,1356.4 1278.3,1354.9 1285.1,1352.7 C1291.9,1350.4 1298.6,1348.3 1305.4,1344.1 C1312.2,1339.9 1318.9,1331.9 1325.7,1327.3 C1332.5,1322.6 1339.2,1318.2 1346.0,1316.0 C1352.8,1313.7 1359.5,1314.6 1366.3,1313.9 C1373.1,1313.2 1379.8,1312.6 1386.6,1311.8 C1393.4,1310.9 1400.1,1309.9 1406.9,1309.0 C1413.7,1308.1 1420.4,1307.5 1427.2,1306.2 C1434.0,1304.9 1444.1,1302.2 1447.5,1301.4" fill="none" stroke="#c98ab8" stroke-width="1.4" opacity="0.8"/>
<path d="M940.0,1598.8 C943.4,1599.9 953.5,1602.7 960.3,1605.5 C967.1,1608.3 973.8,1613.3 980.6,1615.3 C987.4,1617.4 994.1,1616.4 1000.9,1617.8 C1007.7,1619.2 1014.4,1623.1 1021.2,1623.8 C1028.0,1624.6 1034.7,1622.9 1041.5,1622.3 C1048.3,1621.8 1055.0,1622.5 1061.8,1620.5 C1068.6,1618.6 1075.3,1612.2 1082.1,1610.7 C1088.9,1609.2 1095.6,1611.7 1102.4,1611.6 C1109.2,1611.5 1115.9,1610.7 1122.7,1610.3 C1129.5,1609.8 1136.2,1609.6 1143.0,1609.0 C1149.8,1608.4 1156.5,1608.1 1163.3,1606.6 C1170.1,1605.1 1176.8,1601.9 1183.6,1599.9 C1190.4,1597.9 1197.1,1597.5 1203.9,1594.6 C1210.7,1591.8 1217.4,1586.3 1224.2,1582.8 C1231.0,1579.3 1237.7,1578.2 1244.5,1573.9 C1251.3,1569.5 1258.0,1562.6 1264.8,1556.8 C1271.6,1551.1 1278.3,1546.1 1285.1,1539.3 C1291.9,1532.5 1298.6,1522.0 1305.4,1516.2 C1312.2,1510.4 1318.9,1507.5 1325.7,1504.6 C1332.5,1501.8 1339.2,1499.6 1346.0,1499.1 C1352.8,1498.7 1359.5,1501.4 1366.3,1502.0 C1373.1,1502.5 1379.8,1502.1 1386.6,1502.5 C1393.4,1502.8 1400.1,1503.5 1406.9,1504.0 C1413.7,1504.5 1420.4,1505.4 1427.2,1505.5 C1434.0,1505.5 1444.1,1504.4 1447.5,1504.2" fill="none" stroke="#c98ab8" stroke-width="1.6" opacity="0.8"/>
<path d="M940.0,1602.8 C943.4,1603.9 953.5,1606.7 960.3,1609.5 C967.1,1612.3 973.8,1617.3 980.6,1619.3 C987.4,1621.4 994.1,1620.4 1000.9,1621.8 C1007.7,1623.2 1014.4,1627.1 1021.2,1627.8 C1028.0,1628.6 1034.7,1626.9 1041.5,1626.3 C1048.3,1625.8 1055.0,1626.5 1061.8,1624.5 C1068.6,1622.6 1075.3,1616.2 1082.1,1614.7 C1088.9,1613.2 1095.6,1615.7 1102.4,1615.6 C1109.2,1615.5 1115.9,1614.7 1122.7,1614.3 C1129.5,1613.8 1136.2,1613.6 1143.0,1613.0 C1149.8,1612.4 1156.5,1612.1 1163.3,1610.6 C1170.1,1609.1 1176.8,1605.9 1183.6,1603.9 C1190.4,1601.9 1197.1,1601.5 1203.9,1598.6 C1210.7,1595.8 1217.4,1590.3 1224.2,1586.8 C1231.0,1583.3 1237.7,1582.2 1244.5,1577.9 C1251.3,1573.5 1258.0,1566.6 1264.8,1560.8 C1271.6,1555.1 1278.3,1550.1 1285.1,1543.3 C1291.9,1536.5 1298.6,1526.0 1305.4,1520.2 C1312.2,1514.4 1318.9,1511.5 1325.7,1508.6 C1332.5,1505.8 1339.2,1503.6 1346.0,1503.1 C1352.8,1502.7 1359.5,1505.4 1366.3,1506.0 C1373.1,1506.5 1379.8,1506.1 1386.6,1506.5 C1393.4,1506.8 1400.1,1507.5 1406.9,1508.0 C1413.7,1508.5 1420.4,1509.4 1427.2,1509.5 C1434.0,1509.5 1444.1,1508.4 1447.5,1508.2" fill="none" stroke="#e7b5d5" stroke-width="1.2" opacity="0.8"/>
<polygon points="972.4,1490.0 1009.0,1478.8 1000.9,1470.6 1028.2,1444.0 1019.8,1435.4 992.6,1462.0 984.5,1453.7" fill="#10276f"/>
<polygon points="1148.5,1499.8 1184.9,1488.0 1176.7,1479.9 1204.2,1452.2 1195.6,1443.8 1168.2,1471.4 1160.0,1463.3" fill="#10276f"/>
<polygon points="1385.7,1409.2 1422.5,1399.0 1414.7,1390.5 1442.8,1364.6 1434.6,1355.8 1406.6,1381.7 1398.8,1373.3" fill="#10276f"/>
</g>
<clipPath id="cs"><rect x="1492.5" y="1290" width="507.5" height="350"/></clipPath>
<clipPath id="ts"><path d="M1492.5,1354.6 C1495.6,1355.8 1505.0,1359.5 1511.3,1362.0 C1517.6,1364.4 1523.8,1366.9 1530.1,1369.4 C1536.4,1371.9 1542.6,1374.1 1548.9,1377.0 C1555.2,1379.8 1561.4,1382.9 1567.7,1386.4 C1574.0,1389.9 1580.2,1394.0 1586.5,1397.8 C1592.7,1401.5 1599.0,1408.7 1605.3,1409.0 C1611.5,1409.3 1617.8,1402.7 1624.1,1399.6 C1630.3,1396.4 1636.6,1393.3 1642.9,1390.2 C1649.1,1387.0 1655.4,1382.5 1661.7,1380.8 C1667.9,1379.0 1674.2,1380.0 1680.5,1379.7 C1686.7,1379.3 1693.0,1379.3 1699.3,1378.7 C1705.5,1378.2 1711.8,1378.0 1718.1,1376.2 C1724.3,1374.5 1730.6,1370.7 1736.9,1368.1 C1743.1,1365.5 1749.4,1362.4 1755.6,1360.8 C1761.9,1359.3 1768.2,1360.2 1774.4,1359.0 C1780.7,1357.7 1787.0,1354.5 1793.2,1353.2 C1799.5,1351.9 1805.8,1351.1 1812.0,1351.3 C1818.3,1351.5 1824.6,1354.7 1830.8,1354.5 C1837.1,1354.4 1843.4,1351.7 1849.6,1350.3 C1855.9,1348.8 1862.2,1347.0 1868.4,1345.9 C1874.7,1344.7 1881.0,1344.2 1887.2,1343.3 C1893.5,1342.5 1899.8,1341.8 1906.0,1341.0 C1912.3,1340.2 1918.5,1339.5 1924.8,1338.4 C1931.1,1337.4 1937.3,1335.9 1943.6,1334.7 C1949.9,1333.4 1956.1,1332.2 1962.4,1330.9 C1968.7,1329.7 1974.9,1328.4 1981.2,1327.2 C1987.5,1325.9 1996.9,1324.0 2000.0,1323.4 L2000.0,1461.2 C1996.9,1466.4 1987.5,1485.7 1981.2,1492.2 C1974.9,1498.7 1968.7,1498.0 1962.4,1499.9 C1956.1,1501.8 1949.9,1502.3 1943.6,1503.7 C1937.3,1505.0 1931.1,1506.5 1924.8,1508.1 C1918.5,1509.7 1912.3,1511.6 1906.0,1513.1 C1899.8,1514.7 1893.5,1516.2 1887.2,1517.6 C1881.0,1518.9 1874.7,1520.1 1868.4,1521.3 C1862.2,1522.6 1855.9,1524.0 1849.6,1525.1 C1843.4,1526.2 1837.1,1527.0 1830.8,1527.8 C1824.6,1528.7 1818.3,1529.4 1812.0,1530.2 C1805.8,1531.0 1799.5,1532.1 1793.2,1532.5 C1787.0,1533.0 1780.7,1533.0 1774.4,1533.1 C1768.2,1533.3 1761.9,1533.5 1755.6,1533.6 C1749.4,1533.7 1743.1,1534.0 1736.9,1533.7 C1730.6,1533.4 1724.3,1532.8 1718.1,1531.8 C1711.8,1530.8 1705.5,1529.0 1699.3,1527.5 C1693.0,1525.9 1686.7,1524.4 1680.5,1522.5 C1674.2,1520.5 1667.9,1518.2 1661.7,1515.9 C1655.4,1513.6 1649.1,1509.7 1642.9,1508.6 C1636.6,1507.6 1630.3,1506.5 1624.1,1509.3 C1617.8,1512.2 1611.5,1521.8 1605.3,1525.8 C1599.0,1529.8 1592.7,1530.9 1586.5,1533.2 C1580.2,1535.6 1574.0,1538.1 1567.7,1540.1 C1561.4,1542.1 1555.2,1543.4 1548.9,1545.1 C1542.6,1546.7 1536.4,1548.5 1530.1,1550.0 C1523.8,1551.4 1517.6,1552.5 1511.3,1553.7 C1505.0,1554.9 1495.6,1556.8 1492.5,1557.4 Z"/></clipPath>
<clipPath id="eps"><path d="M1492.5,1354.6 C1495.6,1355.8 1505.0,1359.5 1511.3,1362.0 C1517.6,1364.4 1523.8,1366.9 1530.1,1369.4 C1536.4,1371.9 1542.6,1374.1 1548.9,1377.0 C1555.2,1379.8 1561.4,1382.9 1567.7,1386.4 C1574.0,1389.9 1580.2,1394.0 1586.5,1397.8 C1592.7,1401.5 1599.0,1408.7 1605.3,1409.0 C1611.5,1409.3 1617.8,1402.7 1624.1,1399.6 C1630.3,1396.4 1636.6,1393.3 1642.9,1390.2 C1649.1,1387.0 1655.4,1382.5 1661.7,1380.8 C1667.9,1379.0 1674.2,1380.0 1680.5,1379.7 C1686.7,1379.3 1693.0,1379.3 1699.3,1378.7 C1705.5,1378.2 1711.8,1378.0 1718.1,1376.2 C1724.3,1374.5 1730.6,1370.7 1736.9,1368.1 C1743.1,1365.5 1749.4,1362.4 1755.6,1360.8 C1761.9,1359.3 1768.2,1360.2 1774.4,1359.0 C1780.7,1357.7 1787.0,1354.5 1793.2,1353.2 C1799.5,1351.9 1805.8,1351.1 1812.0,1351.3 C1818.3,1351.5 1824.6,1354.7 1830.8,1354.5 C1837.1,1354.4 1843.4,1351.7 1849.6,1350.3 C1855.9,1348.8 1862.2,1347.0 1868.4,1345.9 C1874.7,1344.7 1881.0,1344.2 1887.2,1343.3 C1893.5,1342.5 1899.8,1341.8 1906.0,1341.0 C1912.3,1340.2 1918.5,1339.5 1924.8,1338.4 C1931.1,1337.4 1937.3,1335.9 1943.6,1334.7 C1949.9,1333.4 1956.1,1332.2 1962.4,1330.9 C1968.7,1329.7 1974.9,1328.4 1981.2,1327.2 C1987.5,1325.9 1996.9,1324.0 2000.0,1323.4 L2000.0,1329.9 C1996.9,1330.5 1987.5,1332.4 1981.2,1333.7 C1974.9,1334.9 1968.7,1336.2 1962.4,1337.4 C1956.1,1338.7 1949.9,1339.9 1943.6,1341.2 C1937.3,1342.4 1931.1,1343.9 1924.8,1344.9 C1918.5,1346.0 1912.3,1346.7 1906.0,1347.5 C1899.8,1348.3 1893.5,1349.0 1887.2,1349.8 C1881.0,1350.7 1874.7,1351.2 1868.4,1352.4 C1862.2,1353.5 1855.9,1355.3 1849.6,1356.8 C1843.4,1358.2 1837.1,1360.9 1830.8,1361.0 C1824.6,1361.2 1818.3,1358.0 1812.0,1357.8 C1805.8,1357.6 1799.5,1358.4 1793.2,1359.7 C1787.0,1361.0 1780.7,1364.2 1774.4,1365.5 C1768.2,1366.7 1761.9,1365.8 1755.6,1367.3 C1749.4,1368.9 1743.1,1372.0 1736.9,1374.6 C1730.6,1377.2 1724.3,1381.0 1718.1,1382.7 C1711.8,1384.5 1705.5,1384.7 1699.3,1385.2 C1693.0,1385.8 1686.7,1385.8 1680.5,1386.2 C1674.2,1386.5 1667.9,1385.5 1661.7,1387.3 C1655.4,1389.0 1649.1,1393.5 1642.9,1396.7 C1636.6,1399.8 1630.3,1402.9 1624.1,1406.1 C1617.8,1409.2 1611.5,1415.8 1605.3,1415.5 C1599.0,1415.2 1592.7,1408.0 1586.5,1404.3 C1580.2,1400.5 1574.0,1396.4 1567.7,1392.9 C1561.4,1389.4 1555.2,1386.3 1548.9,1383.5 C1542.6,1380.6 1536.4,1378.4 1530.1,1375.9 C1523.8,1373.4 1517.6,1370.9 1511.3,1368.5 C1505.0,1366.0 1495.6,1362.3 1492.5,1361.1 Z"/><path d="M1492.5,1545.4 C1495.6,1544.8 1505.0,1543.0 1511.3,1541.9 C1517.6,1540.7 1523.8,1539.7 1530.1,1538.3 C1536.4,1537.0 1542.6,1535.2 1548.9,1533.6 C1555.2,1532.0 1561.4,1530.7 1567.7,1528.8 C1574.0,1526.9 1580.2,1524.5 1586.5,1522.1 C1592.7,1519.8 1599.0,1518.7 1605.3,1514.7 C1611.5,1510.6 1617.8,1500.8 1624.1,1497.9 C1630.3,1494.9 1636.6,1495.8 1642.9,1496.8 C1649.1,1497.7 1655.4,1501.5 1661.7,1503.6 C1667.9,1505.8 1674.2,1508.0 1680.5,1509.8 C1686.7,1511.7 1693.0,1513.1 1699.3,1514.5 C1705.5,1515.9 1711.8,1517.5 1718.1,1518.4 C1724.3,1519.4 1730.6,1519.8 1736.9,1519.9 C1743.1,1520.1 1749.4,1519.7 1755.6,1519.5 C1761.9,1519.3 1768.2,1519.0 1774.4,1518.7 C1780.7,1518.3 1787.0,1518.3 1793.2,1517.7 C1799.5,1517.1 1805.8,1515.9 1812.0,1515.0 C1818.3,1514.0 1824.6,1513.2 1830.8,1512.2 C1837.1,1511.3 1843.4,1510.3 1849.6,1509.1 C1855.9,1507.9 1862.2,1506.5 1868.4,1505.2 C1874.7,1503.9 1881.0,1502.7 1887.2,1501.3 C1893.5,1499.9 1899.8,1498.4 1906.0,1496.8 C1912.3,1495.1 1918.5,1493.2 1924.8,1491.6 C1931.1,1490.0 1937.3,1488.5 1943.6,1487.1 C1949.9,1485.6 1956.1,1485.1 1962.4,1483.2 C1968.7,1481.2 1974.9,1481.8 1981.2,1475.3 C1987.5,1468.8 1996.9,1449.4 2000.0,1444.2 L2000.0,1461.2 C1996.9,1466.4 1987.5,1485.7 1981.2,1492.2 C1974.9,1498.7 1968.7,1498.0 1962.4,1499.9 C1956.1,1501.8 1949.9,1502.3 1943.6,1503.7 C1937.3,1505.0 1931.1,1506.5 1924.8,1508.1 C1918.5,1509.7 1912.3,1511.6 1906.0,1513.1 C1899.8,1514.7 1893.5,1516.2 1887.2,1517.6 C1881.0,1518.9 1874.7,1520.1 1868.4,1521.3 C1862.2,1522.6 1855.9,1524.0 1849.6,1525.1 C1843.4,1526.2 1837.1,1527.0 1830.8,1527.8 C1824.6,1528.7 1818.3,1529.4 1812.0,1530.2 C1805.8,1531.0 1799.5,1532.1 1793.2,1532.5 C1787.0,1533.0 1780.7,1533.0 1774.4,1533.1 C1768.2,1533.3 1761.9,1533.5 1755.6,1533.6 C1749.4,1533.7 1743.1,1534.0 1736.9,1533.7 C1730.6,1533.4 1724.3,1532.8 1718.1,1531.8 C1711.8,1530.8 1705.5,1529.0 1699.3,1527.5 C1693.0,1525.9 1686.7,1524.4 1680.5,1522.5 C1674.2,1520.5 1667.9,1518.2 1661.7,1515.9 C1655.4,1513.6 1649.1,1509.7 1642.9,1508.6 C1636.6,1507.6 1630.3,1506.5 1624.1,1509.3 C1617.8,1512.2 1611.5,1521.8 1605.3,1525.8 C1599.0,1529.8 1592.7,1530.9 1586.5,1533.2 C1580.2,1535.6 1574.0,1538.1 1567.7,1540.1 C1561.4,1542.1 1555.2,1543.4 1548.9,1545.1 C1542.6,1546.7 1536.4,1548.5 1530.1,1550.0 C1523.8,1551.4 1517.6,1552.5 1511.3,1553.7 C1505.0,1554.9 1495.6,1556.8 1492.5,1557.4 Z"/></clipPath>
<g clip-path="url(#cs)">
<g clip-path="url(#ts)">
<rect x="1492.5" y="1300" width="510" height="330" fill="#e991c6"/>
<rect x="1492.5" y="1300" width="510" height="330" filter="url(#nuc2)" opacity="0.45"/>
<g fill="none" stroke="#f2609f" stroke-linecap="round"><path d="M1719.7,1515.0 C1721.6,1515.3 1727.4,1516.5 1731.3,1516.7 C1735.1,1516.8 1739.0,1516.1 1742.9,1515.8 C1746.7,1515.5 1750.6,1515.2 1754.5,1515.0 C1758.4,1514.8 1764.2,1514.7 1766.1,1514.6" stroke-width="3.3" opacity="0.63"/><path d="M1876.8,1418.7 C1878.8,1418.3 1884.8,1416.6 1888.8,1415.9 C1892.8,1415.2 1896.8,1415.0 1900.8,1414.4 C1904.9,1413.8 1908.9,1413.2 1912.9,1412.3 C1916.9,1411.4 1922.9,1409.7 1924.9,1409.1" stroke-width="3.7" opacity="0.80"/><path d="M1730.9,1406.4 C1735.4,1405.1 1748.9,1400.0 1757.9,1398.1 C1766.9,1396.3 1776.0,1396.3 1785.0,1395.1 C1794.0,1394.0 1803.0,1391.6 1812.0,1391.1 C1821.1,1390.5 1834.6,1391.7 1839.1,1391.8" stroke-width="3.8" opacity="0.86"/><path d="M1606.1,1518.6 C1610.1,1515.6 1622.2,1502.8 1630.3,1500.7 C1638.3,1498.5 1646.4,1503.6 1654.5,1505.7 C1662.6,1507.8 1670.6,1511.1 1678.7,1513.2 C1686.8,1515.3 1698.9,1517.6 1702.9,1518.5" stroke-width="2.9" opacity="0.90"/><path d="M1801.1,1392.4 C1805.1,1392.2 1817.1,1391.9 1825.1,1391.1 C1833.2,1390.3 1841.2,1388.9 1849.2,1387.7 C1857.2,1386.5 1865.2,1385.1 1873.2,1383.8 C1881.3,1382.4 1893.3,1380.2 1897.3,1379.5" stroke-width="4.3" opacity="0.65"/><path d="M1816.4,1513.7 C1819.1,1513.4 1827.2,1512.7 1832.6,1512.0 C1838.0,1511.3 1843.4,1510.3 1848.7,1509.4 C1854.1,1508.5 1859.5,1507.8 1864.9,1506.8 C1870.3,1505.9 1878.4,1504.1 1881.1,1503.6" stroke-width="4.9" opacity="0.89"/><path d="M1546.4,1471.7 C1550.8,1471.8 1564.0,1472.0 1572.9,1472.4 C1581.7,1472.8 1590.5,1476.4 1599.4,1474.2 C1608.2,1472.1 1617.0,1462.5 1625.9,1459.5 C1634.7,1456.5 1647.9,1456.8 1652.4,1456.2" stroke-width="3.5" opacity="0.89"/><path d="M1674.5,1502.2 C1678.0,1503.1 1688.5,1506.2 1695.5,1507.6 C1702.5,1508.9 1709.5,1509.4 1716.4,1510.3 C1723.4,1511.2 1730.4,1512.8 1737.4,1512.7 C1744.4,1512.6 1754.8,1510.2 1758.3,1509.7" stroke-width="3.8" opacity="0.81"/><path d="M1682.4,1487.5 C1685.2,1488.2 1693.5,1490.9 1699.1,1492.0 C1704.6,1493.0 1710.2,1493.5 1715.8,1493.7 C1721.3,1493.9 1726.9,1493.4 1732.5,1493.2 C1738.0,1493.0 1746.4,1492.8 1749.2,1492.7" stroke-width="3.0" opacity="0.87"/><path d="M1903.6,1428.0 C1907.5,1427.2 1919.3,1424.6 1927.1,1423.2 C1935.0,1421.7 1942.8,1420.7 1950.7,1419.1 C1958.5,1417.6 1966.3,1417.1 1974.2,1413.8 C1982.0,1410.4 1993.8,1401.4 1997.7,1398.9" stroke-width="4.9" opacity="0.82"/><path d="M1772.6,1462.5 C1774.7,1462.0 1780.9,1460.3 1785.0,1459.8 C1789.1,1459.3 1793.3,1459.7 1797.4,1459.3 C1801.5,1458.8 1805.6,1457.5 1809.8,1457.0 C1813.9,1456.5 1820.1,1456.3 1822.1,1456.1" stroke-width="2.3" opacity="0.64"/><path d="M1658.4,1498.5 C1659.7,1498.9 1663.5,1500.0 1666.1,1501.0 C1668.6,1501.9 1671.2,1503.3 1673.7,1504.2 C1676.3,1505.1 1678.8,1505.8 1681.4,1506.5 C1683.9,1507.2 1687.8,1508.1 1689.0,1508.4" stroke-width="2.7" opacity="0.67"/><path d="M1598.0,1439.7 C1600.4,1439.4 1607.8,1439.3 1612.7,1437.5 C1617.6,1435.7 1622.5,1431.5 1627.4,1429.1 C1632.3,1426.8 1637.2,1424.8 1642.1,1423.2 C1647.0,1421.7 1654.3,1420.5 1656.8,1419.9" stroke-width="4.9" opacity="0.63"/><path d="M1617.6,1437.4 C1619.3,1436.6 1624.6,1434.2 1628.0,1432.7 C1631.5,1431.2 1635.0,1429.5 1638.5,1428.3 C1642.0,1427.0 1645.5,1426.1 1649.0,1425.2 C1652.5,1424.4 1657.7,1423.6 1659.5,1423.3" stroke-width="2.2" opacity="0.85"/><path d="M1756.0,1490.8 C1760.4,1490.5 1773.6,1489.8 1782.4,1489.1 C1791.3,1488.3 1800.1,1487.0 1808.9,1486.3 C1817.7,1485.7 1826.6,1486.2 1835.4,1485.0 C1844.2,1483.9 1857.4,1480.5 1861.9,1479.6" stroke-width="3.8" opacity="0.67"/><path d="M1558.3,1439.5 C1560.1,1440.1 1565.5,1442.4 1569.2,1443.2 C1572.8,1444.0 1576.4,1443.5 1580.0,1444.5 C1583.7,1445.4 1587.3,1447.9 1590.9,1448.9 C1594.6,1449.9 1600.0,1450.3 1601.8,1450.6" stroke-width="3.5" opacity="0.76"/><path d="M1687.5,1474.3 C1691.5,1474.8 1703.5,1477.1 1711.6,1477.4 C1719.6,1477.6 1727.7,1476.6 1735.7,1476.0 C1743.8,1475.4 1751.8,1474.6 1759.8,1473.8 C1767.9,1472.9 1779.9,1471.5 1784.0,1471.1" stroke-width="2.5" opacity="0.62"/><path d="M1469.9,1438.1 C1473.7,1437.9 1485.0,1436.4 1492.6,1436.8 C1500.1,1437.2 1507.7,1439.0 1515.2,1440.3 C1522.8,1441.6 1530.3,1443.5 1537.9,1444.7 C1545.4,1445.9 1556.7,1446.9 1560.5,1447.3" stroke-width="4.2" opacity="0.92"/><path d="M1620.9,1469.8 C1624.0,1468.7 1633.2,1464.3 1639.3,1463.2 C1645.4,1462.0 1651.5,1462.3 1657.6,1463.1 C1663.7,1463.8 1669.8,1466.3 1675.9,1467.5 C1682.0,1468.8 1691.2,1470.0 1694.3,1470.4" stroke-width="3.6" opacity="0.68"/><path d="M1581.9,1528.2 C1584.9,1527.2 1594.1,1525.5 1600.2,1522.1 C1606.3,1518.7 1612.4,1511.2 1618.5,1508.0 C1624.5,1504.7 1630.6,1502.8 1636.7,1502.5 C1642.8,1502.3 1652.0,1505.8 1655.0,1506.5" stroke-width="3.1" opacity="0.92"/><path d="M1601.4,1511.5 C1604.6,1509.2 1614.3,1500.9 1620.7,1498.0 C1627.2,1495.0 1633.6,1493.7 1640.1,1493.8 C1646.5,1493.9 1653.0,1496.7 1659.4,1498.5 C1665.9,1500.4 1675.5,1503.8 1678.7,1504.8" stroke-width="3.7" opacity="0.60"/><path d="M1936.8,1473.8 C1938.2,1473.4 1942.4,1472.1 1945.2,1471.3 C1948.0,1470.5 1950.8,1469.7 1953.5,1469.0 C1956.3,1468.3 1959.1,1467.7 1961.9,1467.3 C1964.7,1466.8 1968.9,1466.3 1970.3,1466.1" stroke-width="4.7" opacity="0.86"/><path d="M1806.4,1471.3 C1808.0,1471.2 1813.0,1470.4 1816.4,1470.5 C1819.7,1470.6 1823.0,1471.7 1826.3,1471.7 C1829.7,1471.7 1833.0,1470.9 1836.3,1470.5 C1839.6,1470.0 1844.6,1469.2 1846.3,1469.0" stroke-width="3.8" opacity="0.78"/><path d="M1788.8,1493.9 C1790.5,1493.4 1795.7,1491.9 1799.1,1491.3 C1802.5,1490.8 1805.9,1490.9 1809.4,1490.5 C1812.8,1490.2 1816.2,1489.4 1819.7,1489.2 C1823.1,1489.0 1828.2,1489.4 1830.0,1489.4" stroke-width="3.4" opacity="0.93"/><path d="M1746.2,1522.0 C1748.7,1521.9 1756.2,1521.6 1761.2,1521.6 C1766.2,1521.5 1771.2,1521.9 1776.2,1521.7 C1781.2,1521.5 1786.2,1520.9 1791.2,1520.3 C1796.2,1519.7 1803.7,1518.4 1806.2,1518.0" stroke-width="2.3" opacity="0.90"/><path d="M1759.9,1447.2 C1762.9,1446.7 1772.1,1445.4 1778.2,1444.6 C1784.3,1443.9 1790.4,1443.5 1796.5,1442.7 C1802.7,1441.8 1808.8,1439.9 1814.9,1439.6 C1821.0,1439.2 1830.2,1440.5 1833.2,1440.7" stroke-width="2.5" opacity="0.69"/><path d="M1679.7,1464.4 C1682.0,1464.5 1688.9,1464.2 1693.4,1464.8 C1698.0,1465.4 1702.6,1468.0 1707.1,1468.3 C1711.7,1468.6 1716.3,1467.3 1720.8,1466.8 C1725.4,1466.2 1732.2,1465.4 1734.5,1465.1" stroke-width="2.4" opacity="0.63"/><path d="M1734.7,1439.1 C1737.1,1438.3 1744.4,1435.5 1749.2,1434.6 C1754.1,1433.8 1758.9,1434.3 1763.8,1433.7 C1768.6,1433.1 1773.4,1431.9 1778.3,1431.0 C1783.1,1430.1 1790.4,1428.7 1792.8,1428.2" stroke-width="3.6" opacity="0.89"/><path d="M1467.9,1375.7 C1471.5,1375.9 1482.1,1375.5 1489.1,1376.7 C1496.2,1377.9 1503.3,1380.7 1510.4,1382.9 C1517.4,1385.0 1524.5,1387.6 1531.6,1389.8 C1538.6,1392.0 1549.2,1394.8 1552.8,1395.8" stroke-width="4.4" opacity="0.79"/><path d="M1855.0,1429.2 C1856.8,1429.0 1862.3,1428.2 1865.9,1427.6 C1869.6,1427.0 1873.2,1426.3 1876.8,1425.6 C1880.5,1424.8 1884.1,1423.9 1887.8,1423.2 C1891.4,1422.4 1896.9,1421.3 1898.7,1420.9" stroke-width="4.9" opacity="0.89"/><path d="M1644.8,1438.9 C1647.0,1438.6 1653.6,1437.5 1658.0,1437.3 C1662.4,1437.2 1666.8,1437.6 1671.2,1437.9 C1675.6,1438.3 1680.0,1439.1 1684.4,1439.4 C1688.8,1439.7 1695.4,1439.7 1697.6,1439.7" stroke-width="3.9" opacity="0.73"/><path d="M1897.3,1494.3 C1899.3,1493.9 1905.1,1492.7 1908.9,1491.6 C1912.8,1490.5 1916.7,1488.9 1920.5,1487.9 C1924.4,1486.9 1928.2,1486.7 1932.1,1485.8 C1936.0,1484.9 1941.7,1482.9 1943.7,1482.3" stroke-width="4.5" opacity="0.95"/><path d="M1687.3,1445.0 C1691.0,1445.2 1702.0,1446.2 1709.4,1446.1 C1716.7,1446.0 1724.1,1445.6 1731.4,1444.5 C1738.8,1443.4 1746.1,1440.6 1753.5,1439.6 C1760.8,1438.5 1771.8,1438.5 1775.5,1438.3" stroke-width="3.3" opacity="0.83"/><path d="M1507.3,1490.2 C1508.6,1490.1 1512.5,1489.6 1515.1,1489.6 C1517.7,1489.5 1520.3,1490.0 1522.9,1489.8 C1525.5,1489.7 1528.1,1488.7 1530.7,1488.6 C1533.3,1488.6 1537.2,1489.6 1538.5,1489.8" stroke-width="4.3" opacity="0.86"/><path d="M1613.2,1429.5 C1614.6,1428.7 1618.9,1426.6 1621.7,1424.8 C1624.6,1423.1 1627.5,1420.5 1630.3,1419.0 C1633.2,1417.5 1636.0,1417.0 1638.9,1415.9 C1641.7,1414.9 1646.0,1413.3 1647.4,1412.8" stroke-width="2.7" opacity="0.81"/><path d="M1827.1,1402.8 C1831.3,1402.3 1844.1,1401.0 1852.5,1399.5 C1861.0,1398.0 1869.5,1395.5 1878.0,1393.8 C1886.4,1392.2 1894.9,1391.2 1903.4,1389.7 C1911.9,1388.2 1924.6,1385.6 1928.8,1384.8" stroke-width="3.8" opacity="0.74"/><path d="M1717.7,1462.3 C1721.8,1462.0 1733.9,1461.1 1742.0,1460.1 C1750.1,1459.2 1758.2,1457.7 1766.3,1456.6 C1774.4,1455.5 1782.5,1454.5 1790.6,1453.4 C1798.7,1452.3 1810.8,1450.7 1814.9,1450.1" stroke-width="4.6" opacity="0.83"/><path d="M1719.4,1515.1 C1723.6,1515.3 1736.1,1516.6 1744.4,1516.4 C1752.7,1516.1 1761.0,1514.1 1769.3,1513.7 C1777.7,1513.2 1786.0,1514.3 1794.3,1513.7 C1802.6,1513.1 1815.1,1510.8 1819.3,1510.2" stroke-width="2.2" opacity="0.80"/><path d="M1677.3,1473.6 C1681.6,1474.3 1694.5,1476.9 1703.0,1477.6 C1711.6,1478.3 1720.2,1478.1 1728.8,1477.9 C1737.4,1477.6 1746.0,1476.9 1754.5,1476.2 C1763.1,1475.4 1776.0,1473.8 1780.3,1473.4" stroke-width="3.1" opacity="0.80"/><path d="M1556.8,1476.8 C1558.8,1476.9 1564.7,1477.4 1568.7,1477.4 C1572.7,1477.3 1576.6,1476.5 1580.6,1476.6 C1584.6,1476.7 1588.5,1477.6 1592.5,1477.8 C1596.5,1478.1 1602.4,1478.1 1604.4,1478.1" stroke-width="3.7" opacity="0.84"/><path d="M1600.3,1414.4 C1604.4,1413.0 1616.4,1408.9 1624.5,1405.5 C1632.5,1402.1 1640.6,1397.1 1648.6,1394.1 C1656.7,1391.2 1664.7,1388.8 1672.8,1387.6 C1680.8,1386.4 1692.9,1387.1 1696.9,1386.9" stroke-width="3.0" opacity="0.77"/><path d="M1734.8,1462.5 C1736.8,1462.4 1742.9,1462.1 1746.9,1461.6 C1750.9,1461.2 1755.0,1460.4 1759.0,1460.1 C1763.0,1459.7 1767.1,1460.0 1771.1,1459.5 C1775.1,1459.1 1781.2,1457.6 1783.2,1457.2" stroke-width="2.3" opacity="0.91"/><path d="M1652.4,1472.6 C1654.8,1473.2 1662.1,1475.1 1667.0,1476.0 C1671.8,1476.9 1676.7,1477.2 1681.6,1477.9 C1686.4,1478.7 1691.3,1479.5 1696.1,1480.3 C1701.0,1481.1 1708.3,1482.3 1710.7,1482.7" stroke-width="3.3" opacity="0.92"/><path d="M1602.3,1508.4 C1604.2,1507.2 1610.1,1503.9 1614.0,1501.3 C1617.9,1498.7 1621.8,1494.4 1625.7,1492.8 C1629.7,1491.1 1633.6,1491.3 1637.5,1491.2 C1641.4,1491.2 1647.2,1492.5 1649.2,1492.7" stroke-width="4.7" opacity="0.87"/><path d="M1721.1,1499.6 C1724.8,1499.3 1735.8,1498.4 1743.1,1498.0 C1750.4,1497.6 1757.7,1497.2 1765.1,1496.9 C1772.4,1496.7 1779.7,1496.9 1787.0,1496.4 C1794.4,1495.8 1805.3,1494.1 1809.0,1493.6" stroke-width="4.5" opacity="0.93"/><path d="M1570.4,1523.3 C1574.1,1522.4 1585.3,1520.7 1592.8,1517.9 C1600.2,1515.1 1607.7,1509.9 1615.2,1506.4 C1622.7,1502.9 1630.1,1497.7 1637.6,1496.8 C1645.1,1495.9 1656.3,1500.5 1660.0,1501.2" stroke-width="3.8" opacity="0.65"/><path d="M1515.3,1517.7 C1518.7,1517.4 1528.9,1517.2 1535.7,1516.1 C1542.5,1515.1 1549.3,1512.6 1556.1,1511.4 C1562.9,1510.3 1569.7,1510.2 1576.5,1509.1 C1583.3,1508.1 1593.5,1505.8 1596.9,1505.1" stroke-width="3.9" opacity="0.88"/><path d="M1708.3,1402.9 C1711.0,1402.2 1719.3,1400.0 1724.9,1398.4 C1730.4,1396.7 1736.0,1394.8 1741.5,1393.2 C1747.0,1391.6 1752.6,1389.8 1758.1,1388.6 C1763.7,1387.3 1772.0,1386.2 1774.7,1385.7" stroke-width="3.9" opacity="0.84"/><path d="M1564.3,1501.2 C1568.0,1501.0 1579.1,1501.1 1586.6,1499.9 C1594.0,1498.7 1601.4,1497.2 1608.8,1493.8 C1616.3,1490.4 1623.7,1481.6 1631.1,1479.5 C1638.5,1477.5 1649.7,1481.2 1653.4,1481.6" stroke-width="4.6" opacity="0.94"/><path d="M1811.6,1520.7 C1814.6,1520.2 1823.6,1518.5 1829.7,1517.7 C1835.7,1516.9 1841.7,1516.8 1847.7,1516.0 C1853.8,1515.2 1859.8,1514.0 1865.8,1512.9 C1871.9,1511.8 1880.9,1510.0 1883.9,1509.5" stroke-width="5.0" opacity="0.78"/><path d="M1712.9,1422.1 C1714.7,1421.7 1720.0,1420.8 1723.5,1419.8 C1727.0,1418.9 1730.6,1417.4 1734.1,1416.5 C1737.7,1415.5 1741.2,1415.1 1744.7,1414.2 C1748.3,1413.2 1753.6,1411.3 1755.3,1410.8" stroke-width="2.0" opacity="0.79"/><path d="M1668.7,1447.6 C1672.6,1448.1 1684.4,1449.5 1692.3,1450.4 C1700.2,1451.2 1708.1,1453.2 1715.9,1452.7 C1723.8,1452.2 1731.7,1449.0 1739.6,1447.6 C1747.5,1446.2 1759.3,1444.9 1763.2,1444.3" stroke-width="2.6" opacity="0.64"/><path d="M1514.4,1443.6 C1518.3,1444.1 1530.1,1445.6 1538.0,1446.6 C1545.9,1447.6 1553.8,1448.3 1561.6,1449.6 C1569.5,1451.0 1577.4,1453.9 1585.3,1454.8 C1593.2,1455.7 1605.0,1455.0 1608.9,1455.0" stroke-width="3.8" opacity="0.64"/><path d="M1765.0,1515.0 C1767.5,1514.9 1775.0,1514.6 1780.0,1514.4 C1785.0,1514.3 1790.0,1514.4 1795.0,1514.1 C1800.1,1513.8 1805.1,1513.0 1810.1,1512.4 C1815.1,1511.8 1822.6,1510.9 1825.1,1510.6" stroke-width="2.9" opacity="0.68"/><path d="M1481.7,1530.9 C1485.5,1530.8 1496.8,1531.1 1504.4,1530.3 C1511.9,1529.5 1519.5,1527.5 1527.0,1526.3 C1534.6,1525.1 1542.1,1524.0 1549.7,1522.9 C1557.3,1521.7 1568.6,1519.8 1572.4,1519.2" stroke-width="4.2" opacity="0.62"/></g>
<rect x="1492.5" y="1300" width="510" height="330" filter="url(#flk2)" opacity="0.85"/>
<g fill="none" stroke="#fff" stroke-linecap="round"><path d="M1895.0,1372.2 C1897.5,1372.1 1905.0,1372.3 1910.0,1371.5 C1915.0,1370.7 1919.9,1368.3 1924.9,1367.4 C1929.9,1366.5 1934.9,1367.1 1939.9,1366.2 C1944.9,1365.3 1952.4,1362.8 1954.9,1362.1" stroke-width="2.4" opacity="0.62"/><path d="M1861.1,1366.3 C1862.1,1366.0 1865.1,1365.0 1867.0,1364.4 C1869.0,1363.8 1870.9,1363.0 1872.9,1362.8 C1874.9,1362.5 1876.8,1363.3 1878.8,1363.0 C1880.7,1362.7 1883.7,1361.4 1884.6,1361.1" stroke-width="2.0" opacity="0.81"/><path d="M1484.5,1411.3 C1486.8,1411.5 1493.6,1411.8 1498.1,1412.8 C1502.6,1413.8 1507.2,1416.2 1511.7,1417.1 C1516.3,1418.1 1520.8,1417.6 1525.3,1418.4 C1529.9,1419.3 1536.7,1421.7 1538.9,1422.4" stroke-width="2.3" opacity="0.77"/><path d="M1779.2,1378.1 C1781.1,1377.6 1787.0,1376.0 1790.8,1375.1 C1794.7,1374.2 1798.6,1373.4 1802.5,1372.8 C1806.3,1372.3 1810.2,1371.6 1814.1,1371.8 C1818.0,1372.0 1823.8,1373.7 1825.7,1374.1" stroke-width="2.7" opacity="0.66"/><path d="M1852.3,1379.5 C1854.1,1379.2 1859.7,1378.5 1863.5,1377.7 C1867.2,1376.9 1870.9,1375.3 1874.7,1374.8 C1878.4,1374.3 1882.2,1375.0 1885.9,1374.5 C1889.6,1374.0 1895.2,1372.1 1897.1,1371.6" stroke-width="1.7" opacity="0.85"/><path d="M1706.7,1416.8 C1707.8,1416.7 1711.0,1416.8 1713.1,1416.6 C1715.3,1416.4 1717.4,1416.2 1719.6,1415.7 C1721.7,1415.3 1723.8,1414.6 1726.0,1413.8 C1728.1,1412.9 1731.3,1411.3 1732.4,1410.8" stroke-width="1.5" opacity="0.65"/><path d="M1597.2,1487.4 C1599.0,1487.0 1604.4,1487.0 1608.1,1485.3 C1611.7,1483.5 1615.3,1479.1 1618.9,1476.8 C1622.5,1474.6 1626.1,1473.2 1629.7,1471.9 C1633.3,1470.5 1638.7,1469.3 1640.6,1468.7" stroke-width="1.4" opacity="0.94"/><path d="M1875.1,1394.6 C1876.3,1394.2 1880.2,1392.7 1882.7,1392.2 C1885.3,1391.6 1887.8,1391.4 1890.4,1391.3 C1892.9,1391.2 1895.5,1391.9 1898.1,1391.7 C1900.6,1391.4 1904.4,1390.0 1905.7,1389.6" stroke-width="2.1" opacity="0.67"/><path d="M1547.9,1429.7 C1549.5,1429.9 1554.3,1430.3 1557.5,1431.0 C1560.7,1431.8 1563.9,1433.1 1567.1,1434.0 C1570.3,1434.9 1573.5,1435.5 1576.7,1436.6 C1579.9,1437.7 1584.7,1439.8 1586.3,1440.5" stroke-width="1.5" opacity="0.70"/><path d="M1561.5,1497.9 C1562.6,1497.8 1565.8,1497.4 1567.9,1497.2 C1570.0,1497.0 1572.1,1497.0 1574.2,1496.8 C1576.3,1496.7 1578.4,1496.6 1580.6,1496.4 C1582.7,1496.3 1585.8,1495.9 1586.9,1495.8" stroke-width="2.7" opacity="0.77"/><path d="M1933.6,1345.8 C1934.4,1345.6 1936.6,1345.3 1938.0,1345.0 C1939.5,1344.7 1941.0,1344.1 1942.5,1343.8 C1943.9,1343.6 1945.4,1343.9 1946.9,1343.6 C1948.3,1343.3 1950.5,1342.4 1951.3,1342.2" stroke-width="1.5" opacity="0.84"/><path d="M1964.9,1385.6 C1966.5,1385.3 1971.5,1384.4 1974.8,1383.5 C1978.1,1382.5 1981.4,1381.4 1984.7,1379.9 C1988.1,1378.5 1991.4,1376.6 1994.7,1374.8 C1998.0,1373.0 2003.0,1370.0 2004.6,1369.0" stroke-width="2.9" opacity="0.63"/><path d="M1624.8,1417.2 C1626.9,1416.1 1633.2,1412.4 1637.4,1410.9 C1641.6,1409.3 1645.8,1409.2 1649.9,1407.8 C1654.1,1406.5 1658.3,1403.4 1662.5,1402.7 C1666.7,1401.9 1673.0,1403.2 1675.1,1403.4" stroke-width="1.1" opacity="0.73"/><path d="M1805.4,1441.4 C1806.4,1441.6 1809.5,1442.5 1811.6,1442.3 C1813.6,1442.1 1815.7,1440.3 1817.7,1440.1 C1819.8,1439.8 1821.9,1440.6 1823.9,1440.9 C1826.0,1441.3 1829.1,1442.1 1830.1,1442.4" stroke-width="2.3" opacity="0.75"/><path d="M1794.8,1402.4 C1797.3,1402.1 1804.6,1401.1 1809.5,1400.9 C1814.4,1400.7 1819.3,1401.1 1824.2,1401.2 C1829.1,1401.3 1834.0,1402.1 1838.9,1401.6 C1843.8,1401.2 1851.2,1399.0 1853.6,1398.5" stroke-width="2.6" opacity="0.60"/><path d="M1654.5,1490.3 C1656.7,1491.0 1663.0,1493.7 1667.3,1494.9 C1671.6,1496.2 1675.8,1496.9 1680.1,1497.8 C1684.3,1498.6 1688.6,1499.3 1692.8,1500.0 C1697.1,1500.8 1703.5,1501.9 1705.6,1502.2" stroke-width="1.7" opacity="0.74"/><path d="M1486.0,1405.0 C1487.5,1405.1 1492.0,1405.1 1495.1,1405.5 C1498.1,1406.0 1501.1,1406.9 1504.1,1407.7 C1507.1,1408.4 1510.1,1409.1 1513.1,1409.9 C1516.1,1410.7 1520.7,1412.0 1522.2,1412.4" stroke-width="1.3" opacity="0.68"/><path d="M1949.4,1388.3 C1951.3,1387.9 1956.8,1386.8 1960.5,1386.1 C1964.2,1385.4 1967.8,1385.2 1971.5,1384.2 C1975.2,1383.1 1978.9,1381.3 1982.6,1379.9 C1986.2,1378.4 1991.8,1376.1 1993.6,1375.4" stroke-width="1.4" opacity="0.80"/><path d="M1896.8,1502.3 C1898.2,1501.9 1902.4,1500.6 1905.2,1500.0 C1908.0,1499.3 1910.8,1499.1 1913.6,1498.6 C1916.4,1498.0 1919.1,1497.5 1921.9,1496.5 C1924.7,1495.6 1928.9,1493.4 1930.3,1492.8" stroke-width="2.3" opacity="0.77"/><path d="M1513.8,1437.0 C1516.2,1437.2 1523.3,1437.4 1528.1,1438.2 C1532.8,1439.0 1537.6,1440.9 1542.4,1441.6 C1547.1,1442.2 1551.9,1441.4 1556.7,1442.1 C1561.4,1442.8 1568.6,1445.2 1570.9,1445.8" stroke-width="1.6" opacity="0.57"/><path d="M1602.0,1413.8 C1603.6,1413.6 1608.6,1413.8 1611.9,1412.6 C1615.2,1411.4 1618.5,1408.3 1621.8,1406.7 C1625.1,1405.1 1628.4,1404.3 1631.7,1402.9 C1635.0,1401.5 1639.9,1398.9 1641.6,1398.1" stroke-width="2.5" opacity="0.79"/><path d="M1531.6,1509.8 C1534.1,1509.3 1541.5,1507.3 1546.4,1506.7 C1551.4,1506.1 1556.3,1506.6 1561.2,1506.3 C1566.2,1506.0 1571.1,1505.8 1576.1,1504.9 C1581.0,1504.1 1588.4,1501.9 1590.9,1501.3" stroke-width="2.4" opacity="0.74"/><path d="M1739.8,1499.7 C1741.9,1499.5 1748.4,1498.4 1752.7,1498.0 C1757.0,1497.6 1761.4,1497.6 1765.7,1497.4 C1770.0,1497.1 1774.3,1496.9 1778.6,1496.6 C1783.0,1496.3 1789.4,1495.9 1791.6,1495.7" stroke-width="2.7" opacity="0.59"/><path d="M1814.5,1373.4 C1815.8,1373.6 1819.8,1374.0 1822.4,1374.4 C1825.1,1374.9 1827.7,1376.1 1830.4,1376.0 C1833.0,1375.9 1835.7,1374.4 1838.3,1373.8 C1841.0,1373.1 1844.9,1372.3 1846.2,1372.0" stroke-width="1.8" opacity="0.64"/><path d="M1630.0,1468.0 C1630.7,1467.8 1632.9,1467.2 1634.4,1466.8 C1635.8,1466.5 1637.3,1465.9 1638.8,1465.8 C1640.2,1465.6 1641.7,1465.7 1643.1,1465.8 C1644.6,1466.0 1646.8,1466.6 1647.5,1466.8" stroke-width="2.8" opacity="0.72"/><path d="M1777.7,1426.4 C1778.4,1426.0 1780.6,1424.5 1782.0,1424.2 C1783.5,1423.9 1784.9,1425.1 1786.4,1424.7 C1787.8,1424.4 1789.3,1422.6 1790.7,1422.2 C1792.1,1421.7 1794.3,1422.2 1795.0,1422.2" stroke-width="2.6" opacity="0.84"/><path d="M1521.6,1527.4 C1523.2,1527.1 1527.8,1525.7 1530.9,1525.4 C1534.0,1525.0 1537.1,1525.7 1540.2,1525.3 C1543.3,1524.8 1546.4,1523.3 1549.5,1522.7 C1552.6,1522.1 1557.3,1521.8 1558.8,1521.6" stroke-width="2.5" opacity="0.64"/><path d="M1627.8,1481.3 C1630.1,1481.0 1637.0,1479.2 1641.6,1479.5 C1646.2,1479.9 1650.7,1482.3 1655.3,1483.4 C1659.9,1484.4 1664.5,1485.1 1669.1,1486.0 C1673.6,1486.9 1680.5,1488.1 1682.8,1488.5" stroke-width="1.5" opacity="0.91"/><path d="M1795.5,1500.5 C1797.0,1500.3 1801.7,1499.6 1804.9,1499.5 C1808.0,1499.3 1811.1,1499.8 1814.3,1499.5 C1817.4,1499.2 1820.5,1497.7 1823.7,1497.5 C1826.8,1497.3 1831.5,1498.0 1833.1,1498.1" stroke-width="2.5" opacity="0.89"/><path d="M1599.1,1498.0 C1600.0,1497.9 1602.9,1498.1 1604.8,1497.3 C1606.7,1496.5 1608.6,1494.6 1610.5,1493.2 C1612.4,1491.8 1614.3,1490.6 1616.2,1488.8 C1618.1,1487.0 1620.9,1483.6 1621.9,1482.6" stroke-width="1.4" opacity="0.87"/><path d="M1722.8,1436.2 C1724.9,1435.6 1731.2,1433.4 1735.3,1432.4 C1739.5,1431.4 1743.7,1430.7 1747.9,1430.1 C1752.1,1429.5 1756.3,1429.5 1760.4,1429.0 C1764.6,1428.4 1770.9,1427.3 1773.0,1427.0" stroke-width="1.1" opacity="0.77"/><path d="M1786.1,1440.5 C1787.5,1440.4 1791.9,1440.2 1794.9,1439.9 C1797.8,1439.6 1800.7,1439.2 1803.6,1438.7 C1806.6,1438.2 1809.5,1437.0 1812.4,1436.8 C1815.4,1436.5 1819.8,1437.1 1821.2,1437.1" stroke-width="1.2" opacity="0.80"/><path d="M1827.4,1516.4 C1828.2,1516.6 1830.4,1517.5 1831.9,1517.5 C1833.3,1517.5 1834.8,1516.6 1836.3,1516.3 C1837.8,1516.0 1839.2,1516.1 1840.7,1515.9 C1842.2,1515.7 1844.4,1515.1 1845.1,1515.0" stroke-width="2.5" opacity="0.83"/><path d="M1560.3,1418.6 C1561.6,1418.9 1565.3,1419.5 1567.7,1420.4 C1570.2,1421.2 1572.7,1422.4 1575.1,1423.7 C1577.6,1424.9 1580.1,1426.9 1582.5,1427.9 C1585.0,1428.8 1588.7,1429.2 1589.9,1429.4" stroke-width="3.0" opacity="0.88"/><path d="M1856.5,1471.4 C1857.2,1471.3 1859.3,1470.7 1860.7,1470.6 C1862.1,1470.4 1863.5,1470.5 1864.9,1470.4 C1866.3,1470.3 1867.8,1470.2 1869.2,1469.9 C1870.6,1469.6 1872.7,1468.8 1873.4,1468.6" stroke-width="1.3" opacity="0.84"/><path d="M1867.0,1443.7 C1869.2,1443.3 1875.9,1442.1 1880.3,1441.5 C1884.7,1440.9 1889.1,1440.8 1893.5,1440.0 C1898.0,1439.2 1902.4,1437.7 1906.8,1436.8 C1911.2,1436.0 1917.8,1435.1 1920.1,1434.8" stroke-width="2.0" opacity="0.91"/><path d="M1874.2,1499.8 C1876.3,1499.3 1882.8,1497.8 1887.1,1496.9 C1891.4,1495.9 1895.7,1495.2 1900.0,1494.1 C1904.3,1493.0 1908.6,1491.4 1912.9,1490.5 C1917.2,1489.6 1923.6,1489.0 1925.8,1488.7" stroke-width="2.6" opacity="0.90"/><path d="M1749.3,1496.0 C1750.9,1495.7 1755.6,1494.4 1758.8,1494.1 C1761.9,1493.8 1765.1,1494.3 1768.2,1494.2 C1771.4,1494.1 1774.6,1493.9 1777.7,1493.7 C1780.9,1493.4 1785.6,1492.8 1787.2,1492.6" stroke-width="2.9" opacity="0.78"/><path d="M1709.6,1500.2 C1711.3,1500.2 1716.3,1499.9 1719.6,1499.9 C1722.9,1499.9 1726.2,1500.1 1729.6,1500.3 C1732.9,1500.4 1736.2,1500.9 1739.5,1500.6 C1742.9,1500.4 1747.9,1499.2 1749.5,1498.9" stroke-width="1.5" opacity="0.76"/><path d="M1708.6,1438.4 C1709.4,1438.6 1711.8,1439.8 1713.4,1439.7 C1715.0,1439.7 1716.5,1438.3 1718.1,1437.9 C1719.7,1437.4 1721.3,1437.3 1722.9,1437.0 C1724.5,1436.8 1726.8,1436.5 1727.6,1436.4" stroke-width="2.2" opacity="0.89"/><path d="M1922.3,1443.2 C1923.8,1442.6 1928.4,1440.2 1931.4,1439.5 C1934.5,1438.7 1937.6,1439.3 1940.6,1438.7 C1943.7,1438.1 1946.7,1436.6 1949.8,1435.9 C1952.8,1435.3 1957.4,1434.8 1958.9,1434.6" stroke-width="1.8" opacity="0.89"/><path d="M1660.2,1411.1 C1661.3,1411.0 1664.7,1410.8 1667.0,1410.8 C1669.3,1410.9 1671.6,1411.1 1673.9,1411.4 C1676.2,1411.8 1678.4,1412.7 1680.7,1412.9 C1683.0,1413.1 1686.4,1412.7 1687.6,1412.6" stroke-width="1.4" opacity="0.68"/><path d="M1760.9,1429.1 C1763.1,1428.9 1769.9,1428.8 1774.4,1428.0 C1778.9,1427.2 1783.4,1425.3 1787.8,1424.3 C1792.3,1423.3 1796.8,1422.4 1801.3,1421.9 C1805.8,1421.4 1812.5,1421.3 1814.8,1421.2" stroke-width="2.3" opacity="0.83"/><path d="M1963.6,1467.7 C1964.9,1467.5 1968.8,1467.4 1971.4,1466.6 C1974.0,1465.8 1976.6,1464.2 1979.3,1462.8 C1981.9,1461.4 1984.5,1459.9 1987.1,1458.3 C1989.7,1456.7 1993.6,1453.9 1994.9,1453.0" stroke-width="1.9" opacity="0.75"/><path d="M1866.3,1433.0 C1868.2,1432.9 1873.9,1432.9 1877.6,1432.4 C1881.4,1431.9 1885.2,1430.6 1888.9,1429.8 C1892.7,1429.0 1896.5,1428.1 1900.3,1427.3 C1904.0,1426.6 1909.7,1425.5 1911.6,1425.2" stroke-width="2.9" opacity="0.92"/><path d="M1709.6,1498.2 C1711.0,1498.3 1715.3,1498.6 1718.1,1498.9 C1721.0,1499.2 1723.8,1500.2 1726.7,1500.2 C1729.5,1500.2 1732.4,1499.1 1735.2,1499.0 C1738.1,1498.9 1742.4,1499.6 1743.8,1499.7" stroke-width="2.8" opacity="0.69"/><path d="M1824.2,1466.9 C1825.4,1466.9 1828.9,1466.5 1831.2,1466.5 C1833.6,1466.5 1835.9,1467.5 1838.2,1467.1 C1840.6,1466.8 1842.9,1465.1 1845.2,1464.5 C1847.6,1463.9 1851.1,1463.8 1852.2,1463.7" stroke-width="2.6" opacity="0.71"/><path d="M1649.1,1405.9 C1649.9,1405.6 1652.0,1404.6 1653.5,1404.2 C1654.9,1403.9 1656.3,1403.9 1657.8,1403.6 C1659.2,1403.4 1660.6,1403.0 1662.1,1402.7 C1663.5,1402.3 1665.7,1401.7 1666.4,1401.5" stroke-width="2.0" opacity="0.60"/><path d="M1820.1,1437.6 C1821.0,1437.6 1823.4,1437.5 1825.1,1437.7 C1826.7,1437.9 1828.3,1438.8 1830.0,1438.8 C1831.6,1438.8 1833.2,1437.9 1834.9,1437.8 C1836.5,1437.7 1839.0,1438.1 1839.8,1438.1" stroke-width="1.7" opacity="0.68"/><path d="M1942.1,1440.5 C1944.5,1440.3 1951.7,1440.1 1956.5,1439.4 C1961.3,1438.7 1966.1,1438.1 1970.9,1436.2 C1975.7,1434.4 1980.5,1432.4 1985.3,1428.2 C1990.0,1424.0 1997.2,1413.8 1999.6,1410.9" stroke-width="1.1" opacity="0.63"/><path d="M1693.9,1439.2 C1694.8,1439.4 1697.7,1440.4 1699.6,1440.7 C1701.5,1441.1 1703.4,1441.1 1705.4,1441.2 C1707.3,1441.4 1709.2,1441.5 1711.1,1441.5 C1713.0,1441.5 1715.9,1441.2 1716.8,1441.2" stroke-width="1.5" opacity="0.64"/><path d="M1980.8,1419.5 C1981.6,1418.9 1984.2,1417.1 1985.9,1416.1 C1987.6,1415.2 1989.3,1415.0 1991.0,1413.7 C1992.7,1412.4 1994.4,1410.7 1996.1,1408.4 C1997.8,1406.0 2000.4,1401.0 2001.2,1399.5" stroke-width="1.7" opacity="0.60"/><path d="M1621.9,1479.8 C1623.7,1479.0 1629.1,1476.2 1632.7,1475.2 C1636.4,1474.2 1640.0,1473.5 1643.6,1473.7 C1647.2,1473.9 1650.8,1475.5 1654.4,1476.3 C1658.0,1477.0 1663.4,1478.0 1665.2,1478.3" stroke-width="1.8" opacity="0.57"/><path d="M1780.4,1408.5 C1782.8,1407.8 1789.9,1405.0 1794.6,1404.2 C1799.4,1403.3 1804.1,1403.7 1808.9,1403.4 C1813.6,1403.2 1818.4,1402.9 1823.1,1402.7 C1827.8,1402.6 1835.0,1402.7 1837.3,1402.7" stroke-width="2.2" opacity="0.84"/><path d="M1723.0,1428.1 C1724.6,1427.5 1729.4,1425.8 1732.7,1424.8 C1735.9,1423.8 1739.1,1423.1 1742.4,1422.1 C1745.6,1421.1 1748.8,1419.3 1752.0,1418.8 C1755.3,1418.3 1760.1,1418.9 1761.7,1418.9" stroke-width="1.3" opacity="0.78"/><path d="M1730.0,1493.3 C1731.5,1493.4 1736.2,1493.9 1739.2,1493.6 C1742.3,1493.3 1745.4,1492.1 1748.5,1491.7 C1751.6,1491.3 1754.6,1491.1 1757.7,1491.0 C1760.8,1491.0 1765.4,1491.4 1767.0,1491.5" stroke-width="1.9" opacity="0.91"/><path d="M1520.3,1512.1 C1522.4,1512.1 1528.7,1512.4 1532.9,1512.0 C1537.1,1511.6 1541.3,1510.3 1545.6,1509.7 C1549.8,1509.2 1554.0,1509.1 1558.2,1508.7 C1562.4,1508.3 1568.8,1507.7 1570.9,1507.5" stroke-width="2.5" opacity="0.59"/><path d="M1858.7,1446.2 C1859.8,1446.0 1863.1,1445.1 1865.3,1444.7 C1867.5,1444.2 1869.8,1443.8 1872.0,1443.4 C1874.2,1442.9 1876.4,1442.3 1878.6,1442.0 C1880.8,1441.6 1884.1,1441.6 1885.2,1441.5" stroke-width="1.5" opacity="0.72"/><path d="M1557.3,1424.9 C1558.0,1425.3 1560.3,1426.2 1561.8,1427.0 C1563.3,1427.7 1564.8,1428.9 1566.3,1429.6 C1567.8,1430.2 1569.2,1430.7 1570.7,1431.1 C1572.2,1431.4 1574.5,1431.5 1575.2,1431.6" stroke-width="1.0" opacity="0.63"/><path d="M1824.1,1508.7 C1824.9,1508.4 1827.5,1507.5 1829.2,1507.2 C1831.0,1506.9 1832.7,1506.9 1834.4,1506.7 C1836.1,1506.5 1837.9,1506.1 1839.6,1506.0 C1841.3,1505.9 1843.9,1506.2 1844.7,1506.3" stroke-width="2.6" opacity="0.86"/><path d="M1643.5,1406.5 C1644.6,1406.2 1647.8,1405.3 1650.0,1404.6 C1652.1,1403.9 1654.3,1402.9 1656.5,1402.2 C1658.6,1401.6 1660.8,1401.2 1662.9,1400.8 C1665.1,1400.4 1668.3,1400.0 1669.4,1399.8" stroke-width="1.9" opacity="0.78"/><path d="M1545.5,1505.7 C1547.5,1505.4 1553.4,1504.5 1557.3,1504.2 C1561.2,1503.8 1565.1,1503.8 1569.1,1503.5 C1573.0,1503.2 1576.9,1502.9 1580.8,1502.3 C1584.7,1501.8 1590.6,1500.7 1592.6,1500.3" stroke-width="1.9" opacity="0.70"/><path d="M1745.2,1373.9 C1747.3,1373.1 1753.5,1370.0 1757.6,1368.9 C1761.8,1367.8 1765.9,1368.0 1770.0,1367.5 C1774.2,1367.0 1778.3,1367.1 1782.4,1366.0 C1786.6,1365.0 1792.8,1362.2 1794.8,1361.5" stroke-width="1.8" opacity="0.70"/><path d="M1953.3,1468.7 C1954.1,1468.7 1956.5,1468.9 1958.0,1468.6 C1959.6,1468.3 1961.2,1467.4 1962.7,1467.0 C1964.3,1466.7 1965.9,1467.2 1967.4,1466.7 C1969.0,1466.3 1971.3,1464.7 1972.1,1464.3" stroke-width="2.0" opacity="0.76"/><path d="M1945.8,1487.1 C1948.3,1486.6 1955.7,1485.4 1960.6,1484.5 C1965.6,1483.5 1970.5,1483.7 1975.5,1481.3 C1980.4,1478.9 1985.4,1475.8 1990.3,1470.2 C1995.2,1464.6 2002.7,1451.6 2005.1,1447.8" stroke-width="2.3" opacity="0.89"/><path d="M1597.6,1486.3 C1598.7,1486.3 1601.8,1486.5 1603.9,1485.9 C1606.0,1485.3 1608.1,1484.2 1610.2,1482.8 C1612.3,1481.4 1614.4,1479.3 1616.5,1477.6 C1618.6,1476.0 1621.7,1473.6 1622.8,1472.8" stroke-width="2.9" opacity="0.63"/><path d="M1891.4,1362.7 C1893.5,1362.2 1899.8,1360.0 1903.9,1359.4 C1908.1,1358.8 1912.3,1359.3 1916.5,1358.9 C1920.7,1358.5 1924.9,1358.1 1929.1,1357.1 C1933.3,1356.0 1939.5,1353.4 1941.6,1352.7" stroke-width="1.4" opacity="0.88"/><path d="M1539.3,1415.9 C1541.6,1416.2 1548.5,1416.7 1553.2,1417.7 C1557.8,1418.7 1562.4,1420.2 1567.1,1422.0 C1571.7,1423.8 1576.3,1426.8 1581.0,1428.5 C1585.6,1430.3 1592.5,1431.9 1594.9,1432.6" stroke-width="2.8" opacity="0.74"/><path d="M1561.1,1439.2 C1563.4,1439.8 1570.2,1441.6 1574.8,1442.9 C1579.4,1444.2 1583.9,1445.8 1588.5,1447.0 C1593.1,1448.2 1597.6,1450.5 1602.2,1450.1 C1606.8,1449.8 1613.6,1445.6 1615.9,1444.7" stroke-width="3.0" opacity="0.61"/><path d="M1686.7,1422.2 C1688.2,1422.2 1692.7,1422.5 1695.6,1422.5 C1698.6,1422.5 1701.6,1422.1 1704.5,1422.3 C1707.5,1422.4 1710.5,1423.8 1713.4,1423.6 C1716.4,1423.5 1720.9,1421.7 1722.3,1421.3" stroke-width="2.6" opacity="0.66"/><path d="M1560.4,1453.2 C1561.3,1453.2 1563.9,1452.7 1565.6,1453.0 C1567.4,1453.3 1569.1,1454.8 1570.8,1455.1 C1572.6,1455.4 1574.3,1454.5 1576.0,1454.8 C1577.8,1455.0 1580.4,1456.1 1581.2,1456.4" stroke-width="1.7" opacity="0.58"/><path d="M1537.8,1487.4 C1540.2,1487.1 1547.4,1485.5 1552.2,1485.2 C1557.0,1484.9 1561.8,1485.5 1566.6,1485.6 C1571.4,1485.8 1576.2,1485.8 1580.9,1485.9 C1585.7,1486.0 1592.9,1486.2 1595.3,1486.2" stroke-width="1.6" opacity="0.84"/><path d="M1555.4,1432.1 C1556.8,1432.4 1560.8,1433.4 1563.5,1434.2 C1566.2,1434.9 1568.9,1435.7 1571.6,1436.5 C1574.3,1437.2 1577.0,1437.9 1579.7,1438.7 C1582.4,1439.4 1586.5,1440.5 1587.8,1440.9" stroke-width="2.3" opacity="0.93"/><path d="M1831.1,1387.6 C1832.0,1387.7 1834.6,1388.4 1836.4,1388.2 C1838.1,1388.0 1839.8,1387.0 1841.6,1386.4 C1843.3,1385.9 1845.0,1385.3 1846.8,1384.8 C1848.5,1384.3 1851.1,1383.7 1852.0,1383.5" stroke-width="2.5" opacity="0.69"/><path d="M1517.0,1450.0 C1518.2,1450.1 1521.8,1450.3 1524.2,1450.5 C1526.6,1450.7 1529.0,1450.8 1531.5,1451.1 C1533.9,1451.4 1536.3,1452.2 1538.7,1452.4 C1541.1,1452.7 1544.7,1452.6 1545.9,1452.6" stroke-width="2.4" opacity="0.83"/><path d="M1932.5,1445.1 C1934.2,1444.5 1939.4,1442.8 1942.9,1441.9 C1946.4,1441.1 1949.8,1440.5 1953.3,1440.0 C1956.8,1439.4 1960.2,1439.3 1963.7,1438.5 C1967.2,1437.7 1972.4,1435.9 1974.1,1435.4" stroke-width="1.4" opacity="0.75"/><path d="M1561.6,1533.6 C1563.3,1533.1 1568.5,1531.7 1571.9,1530.7 C1575.3,1529.7 1578.8,1528.9 1582.2,1527.7 C1585.6,1526.6 1589.1,1525.0 1592.5,1524.1 C1595.9,1523.1 1601.1,1522.2 1602.8,1521.8" stroke-width="3.0" opacity="0.93"/><path d="M1934.7,1486.1 C1935.7,1485.7 1938.5,1484.2 1940.3,1483.9 C1942.2,1483.6 1944.1,1484.5 1946.0,1484.3 C1947.8,1484.1 1949.7,1483.3 1951.6,1482.8 C1953.4,1482.2 1956.3,1481.2 1957.2,1480.9" stroke-width="2.3" opacity="0.56"/><path d="M1901.9,1504.3 C1903.0,1504.1 1906.6,1503.9 1908.9,1503.4 C1911.3,1502.9 1913.6,1502.0 1915.9,1501.3 C1918.3,1500.5 1920.6,1499.5 1923.0,1499.1 C1925.3,1498.6 1928.8,1498.7 1930.0,1498.7" stroke-width="1.2" opacity="0.61"/><path d="M1812.3,1413.2 C1813.1,1413.2 1815.4,1413.4 1817.0,1413.2 C1818.6,1413.1 1820.2,1411.9 1821.7,1412.1 C1823.3,1412.4 1824.9,1414.3 1826.4,1414.7 C1828.0,1415.1 1830.4,1414.6 1831.1,1414.6" stroke-width="2.6" opacity="0.60"/><path d="M1671.6,1477.6 C1673.9,1478.2 1680.7,1480.0 1685.2,1481.0 C1689.7,1481.9 1694.2,1482.6 1698.7,1483.3 C1703.2,1483.9 1707.8,1484.6 1712.3,1484.9 C1716.8,1485.2 1723.6,1484.9 1725.8,1484.9" stroke-width="2.2" opacity="0.92"/><path d="M1674.9,1425.3 C1676.4,1425.3 1680.8,1425.4 1683.8,1425.4 C1686.8,1425.3 1689.8,1424.7 1692.7,1424.9 C1695.7,1425.1 1698.7,1426.3 1701.7,1426.6 C1704.6,1426.9 1709.1,1426.8 1710.6,1426.9" stroke-width="1.5" opacity="0.69"/><path d="M1605.2,1448.4 C1606.0,1447.8 1608.4,1445.7 1610.1,1444.7 C1611.7,1443.7 1613.3,1443.4 1615.0,1442.5 C1616.6,1441.5 1618.2,1440.1 1619.8,1439.2 C1621.5,1438.2 1623.9,1437.2 1624.7,1436.8" stroke-width="1.8" opacity="0.81"/><path d="M1494.0,1433.1 C1496.2,1433.5 1503.0,1434.3 1507.5,1435.2 C1512.0,1436.0 1516.5,1437.4 1521.0,1438.2 C1525.5,1439.0 1530.0,1439.6 1534.5,1440.1 C1539.0,1440.5 1545.7,1440.6 1548.0,1440.7" stroke-width="2.7" opacity="0.77"/><path d="M1642.5,1408.3 C1643.8,1407.7 1647.8,1405.9 1650.5,1404.9 C1653.2,1403.9 1655.8,1402.7 1658.5,1402.3 C1661.2,1402.0 1663.8,1402.8 1666.5,1402.7 C1669.2,1402.6 1673.2,1401.8 1674.5,1401.6" stroke-width="1.9" opacity="0.95"/><path d="M1597.8,1419.0 C1600.1,1418.8 1607.1,1419.1 1611.7,1417.7 C1616.3,1416.4 1620.9,1413.1 1625.6,1410.9 C1630.2,1408.7 1634.8,1406.7 1639.4,1404.6 C1644.0,1402.5 1651.0,1399.2 1653.3,1398.2" stroke-width="2.3" opacity="0.72"/><path d="M1949.2,1346.4 C1950.3,1346.3 1953.6,1346.3 1955.8,1345.8 C1958.1,1345.4 1960.3,1344.2 1962.5,1343.8 C1964.7,1343.4 1967.0,1343.6 1969.2,1343.3 C1971.4,1343.1 1974.7,1342.4 1975.8,1342.2" stroke-width="2.3" opacity="0.62"/><path d="M1771.6,1419.1 C1773.0,1419.1 1777.0,1419.6 1779.6,1419.1 C1782.3,1418.6 1785.0,1416.5 1787.6,1415.8 C1790.3,1415.1 1793.0,1415.2 1795.7,1414.9 C1798.3,1414.6 1802.3,1414.3 1803.7,1414.2" stroke-width="2.9" opacity="0.75"/><path d="M1771.1,1513.9 C1773.3,1513.9 1779.8,1514.4 1784.1,1514.0 C1788.5,1513.6 1792.8,1511.9 1797.2,1511.6 C1801.5,1511.2 1805.8,1512.1 1810.2,1511.9 C1814.5,1511.7 1821.0,1510.6 1823.2,1510.3" stroke-width="2.3" opacity="0.56"/><path d="M1592.8,1411.8 C1595.0,1412.6 1601.6,1417.2 1606.1,1417.0 C1610.5,1416.7 1614.9,1412.4 1619.4,1410.3 C1623.8,1408.2 1628.2,1406.5 1632.6,1404.4 C1637.1,1402.3 1643.7,1399.0 1645.9,1397.9" stroke-width="1.4" opacity="0.69"/></g>
<path d="M1492.5,1359.6 C1495.6,1360.8 1505.0,1364.5 1511.3,1367.0 C1517.6,1369.4 1523.8,1371.9 1530.1,1374.4 C1536.4,1376.9 1542.6,1379.1 1548.9,1382.0 C1555.2,1384.8 1561.4,1387.9 1567.7,1391.4 C1574.0,1394.9 1580.2,1399.0 1586.5,1402.8 C1592.7,1406.5 1599.0,1413.7 1605.3,1414.0 C1611.5,1414.3 1617.8,1407.7 1624.1,1404.6 C1630.3,1401.4 1636.6,1398.3 1642.9,1395.2 C1649.1,1392.0 1655.4,1387.5 1661.7,1385.8 C1667.9,1384.0 1674.2,1385.0 1680.5,1384.7 C1686.7,1384.3 1693.0,1384.3 1699.3,1383.7 C1705.5,1383.2 1711.8,1383.0 1718.1,1381.2 C1724.3,1379.5 1730.6,1375.7 1736.9,1373.1 C1743.1,1370.5 1749.4,1367.4 1755.6,1365.8 C1761.9,1364.3 1768.2,1365.2 1774.4,1364.0 C1780.7,1362.7 1787.0,1359.5 1793.2,1358.2 C1799.5,1356.9 1805.8,1356.1 1812.0,1356.3 C1818.3,1356.5 1824.6,1359.7 1830.8,1359.5 C1837.1,1359.4 1843.4,1356.7 1849.6,1355.3 C1855.9,1353.8 1862.2,1352.0 1868.4,1350.9 C1874.7,1349.7 1881.0,1349.2 1887.2,1348.3 C1893.5,1347.5 1899.8,1346.8 1906.0,1346.0 C1912.3,1345.2 1918.5,1344.5 1924.8,1343.4 C1931.1,1342.4 1937.3,1340.9 1943.6,1339.7 C1949.9,1338.4 1956.1,1337.2 1962.4,1335.9 C1968.7,1334.7 1974.9,1333.4 1981.2,1332.2 C1987.5,1330.9 1996.9,1329.0 2000.0,1328.4 L2000.0,1339.4 C1996.9,1340.0 1987.5,1341.9 1981.2,1343.2 C1974.9,1344.4 1968.7,1345.7 1962.4,1346.9 C1956.1,1348.2 1949.9,1349.4 1943.6,1350.7 C1937.3,1351.9 1931.1,1353.4 1924.8,1354.4 C1918.5,1355.5 1912.3,1356.2 1906.0,1357.0 C1899.8,1357.8 1893.5,1358.5 1887.2,1359.3 C1881.0,1360.2 1874.7,1360.7 1868.4,1361.9 C1862.2,1363.0 1855.9,1364.8 1849.6,1366.3 C1843.4,1367.7 1837.1,1370.4 1830.8,1370.5 C1824.6,1370.7 1818.3,1367.5 1812.0,1367.3 C1805.8,1367.1 1799.5,1367.9 1793.2,1369.2 C1787.0,1370.5 1780.7,1373.7 1774.4,1375.0 C1768.2,1376.2 1761.9,1375.3 1755.6,1376.8 C1749.4,1378.4 1743.1,1381.5 1736.9,1384.1 C1730.6,1386.7 1724.3,1390.5 1718.1,1392.2 C1711.8,1394.0 1705.5,1394.2 1699.3,1394.7 C1693.0,1395.3 1686.7,1395.3 1680.5,1395.7 C1674.2,1396.0 1667.9,1395.0 1661.7,1396.8 C1655.4,1398.5 1649.1,1403.0 1642.9,1406.2 C1636.6,1409.3 1630.3,1412.4 1624.1,1415.6 C1617.8,1418.7 1611.5,1425.3 1605.3,1425.0 C1599.0,1424.7 1592.7,1417.5 1586.5,1413.8 C1580.2,1410.0 1574.0,1405.9 1567.7,1402.4 C1561.4,1398.9 1555.2,1395.8 1548.9,1393.0 C1542.6,1390.1 1536.4,1387.9 1530.1,1385.4 C1523.8,1382.9 1517.6,1380.4 1511.3,1378.0 C1505.0,1375.5 1495.6,1371.8 1492.5,1370.6 Z" fill="#ee62a2" opacity="0.9"/>
<path d="M1492.5,1354.6 C1495.6,1355.8 1505.0,1359.5 1511.3,1362.0 C1517.6,1364.4 1523.8,1366.9 1530.1,1369.4 C1536.4,1371.9 1542.6,1374.1 1548.9,1377.0 C1555.2,1379.8 1561.4,1382.9 1567.7,1386.4 C1574.0,1389.9 1580.2,1394.0 1586.5,1397.8 C1592.7,1401.5 1599.0,1408.7 1605.3,1409.0 C1611.5,1409.3 1617.8,1402.7 1624.1,1399.6 C1630.3,1396.4 1636.6,1393.3 1642.9,1390.2 C1649.1,1387.0 1655.4,1382.5 1661.7,1380.8 C1667.9,1379.0 1674.2,1380.0 1680.5,1379.7 C1686.7,1379.3 1693.0,1379.3 1699.3,1378.7 C1705.5,1378.2 1711.8,1378.0 1718.1,1376.2 C1724.3,1374.5 1730.6,1370.7 1736.9,1368.1 C1743.1,1365.5 1749.4,1362.4 1755.6,1360.8 C1761.9,1359.3 1768.2,1360.2 1774.4,1359.0 C1780.7,1357.7 1787.0,1354.5 1793.2,1353.2 C1799.5,1351.9 1805.8,1351.1 1812.0,1351.3 C1818.3,1351.5 1824.6,1354.7 1830.8,1354.5 C1837.1,1354.4 1843.4,1351.7 1849.6,1350.3 C1855.9,1348.8 1862.2,1347.0 1868.4,1345.9 C1874.7,1344.7 1881.0,1344.2 1887.2,1343.3 C1893.5,1342.5 1899.8,1341.8 1906.0,1341.0 C1912.3,1340.2 1918.5,1339.5 1924.8,1338.4 C1931.1,1337.4 1937.3,1335.9 1943.6,1334.7 C1949.9,1333.4 1956.1,1332.2 1962.4,1330.9 C1968.7,1329.7 1974.9,1328.4 1981.2,1327.2 C1987.5,1325.9 1996.9,1324.0 2000.0,1323.4 L2000.0,1329.9 C1996.9,1330.5 1987.5,1332.4 1981.2,1333.7 C1974.9,1334.9 1968.7,1336.2 1962.4,1337.4 C1956.1,1338.7 1949.9,1339.9 1943.6,1341.2 C1937.3,1342.4 1931.1,1343.9 1924.8,1344.9 C1918.5,1346.0 1912.3,1346.7 1906.0,1347.5 C1899.8,1348.3 1893.5,1349.0 1887.2,1349.8 C1881.0,1350.7 1874.7,1351.2 1868.4,1352.4 C1862.2,1353.5 1855.9,1355.3 1849.6,1356.8 C1843.4,1358.2 1837.1,1360.9 1830.8,1361.0 C1824.6,1361.2 1818.3,1358.0 1812.0,1357.8 C1805.8,1357.6 1799.5,1358.4 1793.2,1359.7 C1787.0,1361.0 1780.7,1364.2 1774.4,1365.5 C1768.2,1366.7 1761.9,1365.8 1755.6,1367.3 C1749.4,1368.9 1743.1,1372.0 1736.9,1374.6 C1730.6,1377.2 1724.3,1381.0 1718.1,1382.7 C1711.8,1384.5 1705.5,1384.7 1699.3,1385.2 C1693.0,1385.8 1686.7,1385.8 1680.5,1386.2 C1674.2,1386.5 1667.9,1385.5 1661.7,1387.3 C1655.4,1389.0 1649.1,1393.5 1642.9,1396.7 C1636.6,1399.8 1630.3,1402.9 1624.1,1406.1 C1617.8,1409.2 1611.5,1415.8 1605.3,1415.5 C1599.0,1415.2 1592.7,1408.0 1586.5,1404.3 C1580.2,1400.5 1574.0,1396.4 1567.7,1392.9 C1561.4,1389.4 1555.2,1386.3 1548.9,1383.5 C1542.6,1380.6 1536.4,1378.4 1530.1,1375.9 C1523.8,1373.4 1517.6,1370.9 1511.3,1368.5 C1505.0,1366.0 1495.6,1362.3 1492.5,1361.1 Z" fill="#8e4c8c"/>
<path d="M1492.5,1533.4 C1495.6,1532.8 1505.0,1531.0 1511.3,1529.9 C1517.6,1528.7 1523.8,1527.7 1530.1,1526.3 C1536.4,1525.0 1542.6,1523.2 1548.9,1521.6 C1555.2,1520.0 1561.4,1518.7 1567.7,1516.8 C1574.0,1514.9 1580.2,1512.5 1586.5,1510.1 C1592.7,1507.8 1599.0,1506.7 1605.3,1502.7 C1611.5,1498.6 1617.8,1488.8 1624.1,1485.9 C1630.3,1482.9 1636.6,1483.8 1642.9,1484.8 C1649.1,1485.7 1655.4,1489.5 1661.7,1491.6 C1667.9,1493.8 1674.2,1496.0 1680.5,1497.8 C1686.7,1499.7 1693.0,1501.1 1699.3,1502.5 C1705.5,1503.9 1711.8,1505.5 1718.1,1506.4 C1724.3,1507.4 1730.6,1507.8 1736.9,1507.9 C1743.1,1508.1 1749.4,1507.7 1755.6,1507.5 C1761.9,1507.3 1768.2,1507.0 1774.4,1506.7 C1780.7,1506.3 1787.0,1506.3 1793.2,1505.7 C1799.5,1505.1 1805.8,1503.9 1812.0,1503.0 C1818.3,1502.0 1824.6,1501.2 1830.8,1500.2 C1837.1,1499.3 1843.4,1498.3 1849.6,1497.1 C1855.9,1495.9 1862.2,1494.5 1868.4,1493.2 C1874.7,1491.9 1881.0,1490.7 1887.2,1489.3 C1893.5,1487.9 1899.8,1486.4 1906.0,1484.8 C1912.3,1483.1 1918.5,1481.2 1924.8,1479.6 C1931.1,1478.0 1937.3,1476.5 1943.6,1475.1 C1949.9,1473.6 1956.1,1473.1 1962.4,1471.2 C1968.7,1469.2 1974.9,1469.8 1981.2,1463.3 C1987.5,1456.8 1996.9,1437.4 2000.0,1432.2 L2000.0,1445.2 C1996.9,1450.4 1987.5,1469.8 1981.2,1476.3 C1974.9,1482.8 1968.7,1482.2 1962.4,1484.2 C1956.1,1486.1 1949.9,1486.6 1943.6,1488.1 C1937.3,1489.5 1931.1,1491.0 1924.8,1492.6 C1918.5,1494.2 1912.3,1496.1 1906.0,1497.8 C1899.8,1499.4 1893.5,1500.9 1887.2,1502.3 C1881.0,1503.7 1874.7,1504.9 1868.4,1506.2 C1862.2,1507.5 1855.9,1508.9 1849.6,1510.1 C1843.4,1511.3 1837.1,1512.3 1830.8,1513.2 C1824.6,1514.2 1818.3,1515.0 1812.0,1516.0 C1805.8,1516.9 1799.5,1518.1 1793.2,1518.7 C1787.0,1519.3 1780.7,1519.3 1774.4,1519.7 C1768.2,1520.0 1761.9,1520.3 1755.6,1520.5 C1749.4,1520.7 1743.1,1521.1 1736.9,1520.9 C1730.6,1520.8 1724.3,1520.4 1718.1,1519.4 C1711.8,1518.5 1705.5,1516.9 1699.3,1515.5 C1693.0,1514.1 1686.7,1512.7 1680.5,1510.8 C1674.2,1509.0 1667.9,1506.8 1661.7,1504.6 C1655.4,1502.5 1649.1,1498.7 1642.9,1497.8 C1636.6,1496.8 1630.3,1495.9 1624.1,1498.9 C1617.8,1501.8 1611.5,1511.6 1605.3,1515.7 C1599.0,1519.7 1592.7,1520.8 1586.5,1523.1 C1580.2,1525.5 1574.0,1527.9 1567.7,1529.8 C1561.4,1531.7 1555.2,1533.0 1548.9,1534.6 C1542.6,1536.2 1536.4,1538.0 1530.1,1539.3 C1523.8,1540.7 1517.6,1541.7 1511.3,1542.9 C1505.0,1544.0 1495.6,1545.8 1492.5,1546.4 Z" fill="#ee62a2" opacity="0.85"/>
<path d="M1492.5,1545.4 C1495.6,1544.8 1505.0,1543.0 1511.3,1541.9 C1517.6,1540.7 1523.8,1539.7 1530.1,1538.3 C1536.4,1537.0 1542.6,1535.2 1548.9,1533.6 C1555.2,1532.0 1561.4,1530.7 1567.7,1528.8 C1574.0,1526.9 1580.2,1524.5 1586.5,1522.1 C1592.7,1519.8 1599.0,1518.7 1605.3,1514.7 C1611.5,1510.6 1617.8,1500.8 1624.1,1497.9 C1630.3,1494.9 1636.6,1495.8 1642.9,1496.8 C1649.1,1497.7 1655.4,1501.5 1661.7,1503.6 C1667.9,1505.8 1674.2,1508.0 1680.5,1509.8 C1686.7,1511.7 1693.0,1513.1 1699.3,1514.5 C1705.5,1515.9 1711.8,1517.5 1718.1,1518.4 C1724.3,1519.4 1730.6,1519.8 1736.9,1519.9 C1743.1,1520.1 1749.4,1519.7 1755.6,1519.5 C1761.9,1519.3 1768.2,1519.0 1774.4,1518.7 C1780.7,1518.3 1787.0,1518.3 1793.2,1517.7 C1799.5,1517.1 1805.8,1515.9 1812.0,1515.0 C1818.3,1514.0 1824.6,1513.2 1830.8,1512.2 C1837.1,1511.3 1843.4,1510.3 1849.6,1509.1 C1855.9,1507.9 1862.2,1506.5 1868.4,1505.2 C1874.7,1503.9 1881.0,1502.7 1887.2,1501.3 C1893.5,1499.9 1899.8,1498.4 1906.0,1496.8 C1912.3,1495.1 1918.5,1493.2 1924.8,1491.6 C1931.1,1490.0 1937.3,1488.5 1943.6,1487.1 C1949.9,1485.6 1956.1,1485.1 1962.4,1483.2 C1968.7,1481.2 1974.9,1481.8 1981.2,1475.3 C1987.5,1468.8 1996.9,1449.4 2000.0,1444.2 L2000.0,1461.2 C1996.9,1466.4 1987.5,1485.7 1981.2,1492.2 C1974.9,1498.7 1968.7,1498.0 1962.4,1499.9 C1956.1,1501.8 1949.9,1502.3 1943.6,1503.7 C1937.3,1505.0 1931.1,1506.5 1924.8,1508.1 C1918.5,1509.7 1912.3,1511.6 1906.0,1513.1 C1899.8,1514.7 1893.5,1516.2 1887.2,1517.6 C1881.0,1518.9 1874.7,1520.1 1868.4,1521.3 C1862.2,1522.6 1855.9,1524.0 1849.6,1525.1 C1843.4,1526.2 1837.1,1527.0 1830.8,1527.8 C1824.6,1528.7 1818.3,1529.4 1812.0,1530.2 C1805.8,1531.0 1799.5,1532.1 1793.2,1532.5 C1787.0,1533.0 1780.7,1533.0 1774.4,1533.1 C1768.2,1533.3 1761.9,1533.5 1755.6,1533.6 C1749.4,1533.7 1743.1,1534.0 1736.9,1533.7 C1730.6,1533.4 1724.3,1532.8 1718.1,1531.8 C1711.8,1530.8 1705.5,1529.0 1699.3,1527.5 C1693.0,1525.9 1686.7,1524.4 1680.5,1522.5 C1674.2,1520.5 1667.9,1518.2 1661.7,1515.9 C1655.4,1513.6 1649.1,1509.7 1642.9,1508.6 C1636.6,1507.6 1630.3,1506.5 1624.1,1509.3 C1617.8,1512.2 1611.5,1521.8 1605.3,1525.8 C1599.0,1529.8 1592.7,1530.9 1586.5,1533.2 C1580.2,1535.6 1574.0,1538.1 1567.7,1540.1 C1561.4,1542.1 1555.2,1543.4 1548.9,1545.1 C1542.6,1546.7 1536.4,1548.5 1530.1,1550.0 C1523.8,1551.4 1517.6,1552.5 1511.3,1553.7 C1505.0,1554.9 1495.6,1556.8 1492.5,1557.4 Z" fill="#915391"/>
<path d="M1492.5,1405.8 C1495.6,1406.1 1505.0,1406.9 1511.3,1407.5 C1517.6,1408.1 1523.8,1408.6 1530.1,1409.2 C1536.4,1409.8 1542.6,1410.3 1548.9,1410.9 C1555.2,1411.5 1561.4,1412.2 1567.7,1412.9 C1574.0,1413.6 1580.2,1414.4 1586.5,1415.2 C1592.7,1415.9 1599.0,1416.6 1605.3,1417.3 C1611.5,1418.0 1617.8,1418.5 1624.1,1419.1 C1630.3,1419.7 1636.6,1420.3 1642.9,1420.9 C1649.1,1421.6 1655.4,1422.9 1661.7,1422.8 C1667.9,1422.6 1674.2,1421.0 1680.5,1420.1 C1686.7,1419.2 1693.0,1418.5 1699.3,1417.4 C1705.5,1416.3 1711.8,1414.8 1718.1,1413.5 C1724.3,1412.1 1730.6,1410.6 1736.9,1409.5 C1743.1,1408.3 1749.4,1407.5 1755.6,1406.6 C1761.9,1405.7 1768.2,1404.8 1774.4,1403.9 C1780.7,1403.1 1787.0,1402.2 1793.2,1401.3 C1799.5,1400.4 1805.8,1399.6 1812.0,1398.6 C1818.3,1397.6 1824.6,1396.5 1830.8,1395.3 C1837.1,1394.2 1843.4,1392.9 1849.6,1391.7 C1855.9,1390.5 1862.2,1389.3 1868.4,1388.1 C1874.7,1386.9 1881.0,1385.5 1887.2,1384.5 C1893.5,1383.4 1899.8,1382.5 1906.0,1381.7 C1912.3,1381.0 1918.5,1380.4 1924.8,1379.8 C1931.1,1379.1 1937.3,1378.4 1943.6,1377.8 C1949.9,1377.1 1956.1,1376.4 1962.4,1375.8 C1968.7,1375.1 1974.9,1374.5 1981.2,1373.8 C1987.5,1373.1 1996.9,1372.1 2000.0,1371.8 L2000.0,1404.2 C1996.9,1404.5 1987.5,1405.5 1981.2,1406.2 C1974.9,1406.9 1968.7,1407.5 1962.4,1408.2 C1956.1,1408.8 1949.9,1409.5 1943.6,1410.2 C1937.3,1410.8 1931.1,1411.5 1924.8,1412.2 C1918.5,1412.8 1912.3,1413.4 1906.0,1414.1 C1899.8,1414.9 1893.5,1415.8 1887.2,1416.9 C1881.0,1417.9 1874.7,1419.3 1868.4,1420.5 C1862.2,1421.7 1855.9,1422.9 1849.6,1424.1 C1843.4,1425.3 1837.1,1426.6 1830.8,1427.7 C1824.6,1428.9 1818.3,1430.0 1812.0,1431.0 C1805.8,1432.0 1799.5,1432.8 1793.2,1433.7 C1787.0,1434.6 1780.7,1435.5 1774.4,1436.3 C1768.2,1437.2 1761.9,1438.1 1755.6,1439.0 C1749.4,1439.9 1743.1,1440.7 1736.9,1441.9 C1730.6,1443.2 1724.3,1444.9 1718.1,1446.4 C1711.8,1447.9 1705.5,1449.6 1699.3,1450.8 C1693.0,1452.1 1686.7,1453.0 1680.5,1454.0 C1674.2,1455.1 1667.9,1456.7 1661.7,1457.2 C1655.4,1457.7 1649.1,1457.2 1642.9,1457.2 C1636.6,1457.2 1630.3,1457.2 1624.1,1457.2 C1617.8,1457.2 1611.5,1457.3 1605.3,1457.2 C1599.0,1457.1 1592.7,1457.0 1586.5,1456.8 C1580.2,1456.7 1574.0,1456.4 1567.7,1456.3 C1561.4,1456.2 1555.2,1456.1 1548.9,1456.1 C1542.6,1456.1 1536.4,1456.1 1530.1,1456.1 C1523.8,1456.1 1517.6,1456.1 1511.3,1456.2 C1505.0,1456.2 1495.6,1456.2 1492.5,1456.2 Z" fill="#b880b8"/>
<path fill="#fff" d="M1671.1,1442.7 1668.2,1438.1 1665.3,1437.7 1659.6,1439.7 1658.2,1440.7 1656.8,1447.1 1657,1448.8 1658,1450.1 1662.1,1452.9 1663.6,1452.8 1664.9,1452 1670.5,1446.5 1671.4,1444.7ZM1591.3,1439 1597.8,1441.6 1600.4,1440.2 1601.4,1431.8 1598.2,1427.9 1596.9,1427 1592.2,1427.5 1590.8,1428.1 1589.5,1430.6 1589.5,1436.1 1590,1437.8ZM1767.6,1416.6 1766.2,1415.4 1764.4,1415.2 1762.8,1416.1 1757.2,1421.9 1758.2,1429.1 1760.8,1431.1 1763.6,1431.4 1770.8,1428.8 1772.8,1426.9 1773,1425.2 1772.5,1423.8ZM1735.4,1413.6 1733.8,1413.2 1732.2,1413.7 1731,1414.9 1728,1421.5 1728.5,1423.1 1729.6,1424.2 1736.3,1427.7 1737.9,1427.3 1739.1,1426.2 1742.2,1421.2 1742.7,1419.5 1742.3,1417.9 1741.1,1416.7ZM1841.3,1404.1 1839.5,1404.7 1838.4,1406.2 1838.3,1408.1 1840,1413.5 1845.1,1416.2 1847.5,1416.3 1851.6,1414.5 1852.3,1413.1 1852.3,1411.5 1850.1,1404.9 1847.5,1403.8ZM1903.4,1389.1 1903.3,1391.4 1905.3,1395.8 1906.9,1396.5 1908.6,1396.3 1918,1392.2 1919.4,1390.9 1919.9,1389.1 1919.7,1385.8 1919.1,1384.2 1917.8,1383.1 1916.2,1382.8 1907.4,1383.7 1905.9,1384.3 1904.8,1385.6ZM1785.3,1404.5 1783.7,1405.2 1782.7,1406.7 1782.7,1408.5 1784.4,1410.8 1787.1,1411.6 1790.7,1411 1792.4,1410.1 1793.4,1407.6 1792.6,1404.8 1789.8,1403.9ZM1972.7,1376.8 1971.1,1377.5 1970,1378.9 1969.9,1380.7 1970.7,1382.2 1972.3,1383.1 1973.8,1383.1 1976,1381.3 1976.3,1379.6 1975.7,1378.1 1974.4,1377ZM1993.2,1386.8 1992.9,1388.9 1994,1394 1996.4,1395.3 1999.4,1395.1 2000.6,1393.9 2001.1,1392.2 2001.1,1385.1 2000.7,1383.5 1999.5,1382.3 1997.9,1381.9 1996.3,1382.3ZM1709.4,1425.6 1707.7,1433.8 1708.4,1435.1 1710.9,1437.4 1715.6,1437.3 1717.4,1436.5 1718.4,1434.9 1720.8,1426.4 1720.7,1424.4 1719.3,1422.7 1717.1,1422.3 1711.9,1423.2 1710.3,1424ZM1831.6,1397.3 1830,1398.1 1829.1,1399.6 1829.1,1401.4 1830.1,1402.9 1834.2,1404 1835.9,1403.8 1837.2,1402.7 1837.9,1400.3 1836.9,1397.6 1835.6,1396.9ZM1491.4,1441.7 1492,1443.5 1493.5,1444.7 1495.4,1444.8 1498.8,1443.7 1501.4,1439.7 1501.9,1438.3 1501.6,1436.8 1498.6,1430.2 1497.7,1429.1 1496.3,1428.4 1493.7,1428.8 1492,1430 1491.4,1431.9ZM1927.3,1394.8 1925.6,1395.2 1924.3,1396.4 1923.9,1398.1 1924,1402.6 1924.6,1404.3 1926.1,1405.4 1930.2,1407.1 1933.1,1406.8 1935.2,1404.1 1935.7,1402.5 1935.3,1400.8 1932,1395.6ZM1958.4,1389.2 1957.6,1387.6 1956,1386.6 1954.2,1386.7 1949.4,1388.3 1947.8,1389.5 1947.3,1391.4 1947.3,1396.5 1947.9,1398.2 1949.3,1399.3 1951,1399.6 1958.3,1398 1959.3,1396.6 1959.4,1395ZM1976.5,1396 1977,1397.8 1978.4,1399 1980.3,1399.3 1989.3,1397.6 1990.7,1396.9 1991.7,1395.5 1991.3,1390.7 1990.4,1389 1988.6,1388.1 1980.3,1386.9 1978.5,1387.2 1977.2,1388.3 1976.6,1390ZM1628.3,1444.7 1627.5,1439.9 1625.1,1438.4 1618.8,1438.1 1617.5,1439.2 1616,1442 1618.1,1448.5 1619.9,1449.6 1622.2,1449.6 1626.3,1448 1627.8,1446.7ZM1655.8,1437.7 1658.7,1438.1 1665.2,1435.9 1666.5,1435 1667.2,1433.7 1667.2,1432.1 1666.5,1430.8 1661,1424.8 1658.7,1424.4 1656.4,1425.2 1651.5,1429.7 1650.4,1431.6 1650.6,1433.5 1651.7,1434.9ZM1882.1,1404 1880.5,1413.1 1881.3,1414.4 1882.7,1415.3 1884.2,1415.4 1893.2,1413.3 1894.2,1412.2 1894.5,1410.7 1893.9,1405.4 1892.6,1404.3 1886.8,1401.5 1885,1401.3 1883.1,1402.2ZM1813.6,1410.5 1811.8,1410.2 1810.2,1410.8 1801.1,1418.1 1800.7,1419.7 1801.7,1421.9 1806.5,1426.3 1808,1426.4 1809.4,1425.7 1817.4,1419.4 1818.5,1417.9 1818.6,1416.1 1817.4,1412.8ZM1861.9,1413.3 1860.7,1414.6 1860.4,1416.3 1861,1418 1862.4,1419 1866.8,1418.7 1868.4,1417.9 1869.3,1416.3 1869.2,1414.5 1867.4,1412.4 1865.6,1411.8ZM1821,1411 1820,1412.5 1820.6,1416.9 1821.7,1418.6 1823.9,1419.7 1831.7,1420.2 1836.7,1415.4 1837.5,1414 1836.5,1408.1 1835.5,1406.5 1833.8,1405.7 1828.3,1405.2ZM1557.5,1430.7 1557.2,1432.6 1558,1434.3 1559.6,1435.2 1565.5,1436.4 1572.2,1431.7 1573.3,1424.1 1571,1421.3 1569.6,1420.4 1563.3,1421.6 1561.2,1423.2ZM1902.5,1400.3 1896.6,1405.1 1896.2,1406.6 1896.3,1409.6 1896.8,1411.2 1898.1,1412.4 1899.8,1412.7 1908.3,1411.8 1909.7,1411.2 1910.8,1410 1911.1,1408.5 1910.7,1407 1907.2,1401.2 1905.9,1400 1904.1,1399.6ZM1594.2,1454.9 1595.8,1454.6 1597,1453.4 1597.5,1451.9 1597.8,1446.1 1597.3,1444.3 1595.9,1443.1 1588.5,1440 1582.3,1442.4 1580,1447.9 1579.9,1450 1581.8,1454 1583.6,1454.6ZM1864,1391.1 1857.2,1392.8 1856.3,1394.2 1856.1,1395.8 1856.8,1397.3 1862.7,1399.9 1864.4,1400 1866,1399.2 1867.6,1395.1 1867.7,1393.5 1866.9,1392.1 1865.6,1391.2ZM1720.6,1433.9 1720.6,1435.7 1721.6,1437.2 1723.2,1438 1727.8,1438.5 1729.6,1438.2 1730.9,1437 1733.7,1432.5 1734.2,1430.9 1733.8,1429.2 1727.2,1424.9 1725.4,1424.5 1723.6,1425.2 1722.5,1426.8ZM1615.7,1430.4 1614.7,1428.8 1613,1428 1611.2,1428.3 1605.1,1431.3 1603.9,1432.3 1603.3,1433.8 1603.2,1438.4 1604.3,1439.7 1605.9,1440.3 1614,1440.4 1615.2,1439.4 1616.9,1436.5ZM1813.8,1403 1814,1408.1 1816.4,1409.9 1818.2,1410.2 1819.9,1409.5 1825.1,1405.2 1826.1,1403.5 1825.8,1401.1 1823.6,1399.2 1815.2,1400.6ZM1697,1447.4 1698.4,1448.4 1700.2,1448.5 1705.5,1446.9 1708.5,1440.7 1708.8,1438.9 1706.7,1435.9 1704.6,1434.9 1695.1,1434.2 1692.8,1434.9 1691.5,1436.9 1691.3,1439.8ZM1526.6,1432.1 1525.2,1434.4 1524.4,1441.4 1524.7,1443.2 1525.9,1444.5 1529.3,1446.1 1536,1443.1 1536.6,1440.4 1534.2,1430.5 1533,1429.6 1531.4,1429.4ZM1638.6,1449.1 1637.4,1450.2 1636.9,1451.8 1637.3,1453.5 1638.5,1454.7 1642.7,1455.1 1644.2,1454.7 1645.4,1453.7 1645.9,1452.2 1645.6,1450.6 1643.6,1448.5 1641.9,1447.9ZM1893.4,1402.7 1895.1,1403 1896.7,1402.3 1901.6,1398.7 1902.7,1397.1 1902.7,1395.1 1900.9,1391.2 1899.6,1390.5 1892.4,1388.4 1890.4,1388.4 1888.8,1389.7 1885.7,1394.6 1885.3,1397.2 1885.9,1398.7 1887.1,1399.7ZM1641,1422.9 1637.5,1423 1636.2,1424.1 1634.3,1426.9 1633.7,1429.1 1634,1431.1 1634.6,1432.6 1635.8,1433.6 1641.1,1436 1644,1435.9 1648,1433.4 1648.5,1430.4 1643,1423.9ZM1632.1,1430.3 1631.4,1428.7 1630,1427.6 1622.8,1425.1 1621.3,1424.9 1619.9,1425.5 1617.5,1427.9 1617.4,1429.8 1618.4,1433.8 1619.4,1435.4 1621.1,1436.1 1628.1,1436.6 1632,1433ZM1795.3,1425.1 1794.1,1426.3 1793.7,1428 1794.3,1429.7 1795.6,1430.8 1800.5,1430.6 1802.1,1429.9 1803.1,1428.4 1803.2,1426.7 1802.3,1425.1 1800.3,1423.5 1798.9,1423.3ZM1547.2,1454 1554.3,1453.6 1555.5,1452.5 1556,1451 1553.2,1443.9 1552.2,1442.6 1550.7,1442 1549.1,1442.2 1543.5,1444.9 1542.9,1446.3 1542.9,1447.9 1544.2,1451.7 1545.3,1453.4ZM1691.1,1420.7 1682,1422.4 1681,1423.5 1680.7,1425 1681,1426.4 1682,1427.6 1689.9,1432.8 1691.4,1432.6 1692.7,1431.7 1694.7,1424.5 1694.6,1423 1693.9,1421.7 1692.6,1420.8ZM1545.8,1416.4 1542.7,1422.8 1543.1,1424.3 1544,1425.5 1551.3,1430.7 1553,1431.4 1554.8,1430.9 1556,1429.6 1559.2,1422.6 1558.7,1421.1 1557.7,1419.9 1550.3,1415.2 1548.7,1414.7 1547,1415.2ZM1744.9,1434 1747.5,1434.8 1754.4,1430.6 1755.6,1429.2 1755.8,1427.4 1754.6,1422.6 1753,1421.6 1747.7,1420.1 1745.7,1420.2 1744.2,1421.5 1740.4,1428.2 1741.4,1430.8ZM1501.8,1442.8 1501.3,1444.6 1502,1446.3 1506.9,1452.8 1509.5,1454.1 1511.3,1453.6 1512.5,1452.4 1515.1,1447.4 1515.5,1445.4 1514.6,1443.6 1511,1440 1508.6,1439.1 1504,1439.6ZM1775.3,1431.8 1776.6,1433.3 1778.6,1433.6 1785.7,1432.6 1787.1,1432.1 1788.1,1430.9 1788.5,1429.4 1788.1,1427.9 1787,1426.8 1783.7,1424.6 1781.1,1424.2 1775.4,1426.1 1774.2,1429ZM1614.6,1450.6 1615.5,1449 1614.6,1444.7 1613.6,1443.1 1611.8,1442.5 1601.9,1442.1 1600.6,1443 1599.6,1445.2 1599.3,1451.7 1599.7,1453.4 1600.8,1454.6 1602.4,1455.1 1608.4,1455.1 1610.6,1454.2ZM1500.3,1414.4 1498.4,1414.6 1497,1415.9 1496.6,1417.7 1497.3,1424.9 1498.4,1426 1500,1426.4 1509.3,1421.8 1510.5,1420.8 1511,1419.3 1510.8,1417.7 1509.8,1416.5ZM1934.2,1380.9 1922.8,1382.5 1921.8,1383.7 1921.5,1385.3 1922.2,1391.3 1923.2,1392.4 1924.7,1392.8 1932.2,1393 1937.5,1386.9 1938.1,1385.3 1937.5,1382.8 1936.2,1381.3ZM1797.9,1414.3 1799.2,1415.1 1800.7,1415.2 1802.1,1414.6 1806.1,1411.6 1807.2,1410.1 1807.2,1408.1 1806.2,1406.6 1800.7,1402.6 1798.4,1402.7 1796.6,1403.5 1795.7,1405.3 1795,1410.9ZM1836.1,1418.7 1835.3,1420.1 1835.3,1421.7 1836.1,1423.1 1837.4,1423.9 1842.4,1423.4 1843.9,1422.7 1844.8,1421.4 1845,1419.8 1844.4,1418.3 1841.2,1416.4 1839.3,1416.2ZM1913,1407.3 1914.2,1408.5 1916,1408.8 1917.6,1408.2 1921.9,1404.6 1922,1397.2 1921.6,1395.7 1920.5,1394.6 1919.1,1394.1 1917.6,1394.3 1911.1,1397.2 1909.7,1398.3 1909.2,1400 1909.6,1401.8ZM1647.7,1449.4 1649.1,1450 1650.6,1450 1654.3,1448.3 1655,1446.7 1655.7,1442 1655.5,1440.3 1654.4,1438.9 1649.1,1435.8 1645,1437.4 1643.9,1438.5 1643.4,1440 1643.4,1445.6ZM1943.9,1379.8 1942.3,1380.4 1941.3,1381.7 1941,1383.4 1941.6,1384.9 1945.2,1387 1947.5,1387.1 1952.9,1385.2 1954.2,1384.4 1955,1383.1 1955,1381.5 1954.4,1380.1 1953.1,1379.2ZM1512.2,1414 1512.6,1415.9 1513.9,1417.2 1515.8,1417.5 1521.9,1416.2 1522.9,1415 1523.2,1413.5 1522.8,1412.1 1521.7,1410.9 1515.7,1410 1514.1,1410.3 1512.8,1411.4ZM1538.1,1426.2 1536.3,1428.4 1536.3,1429.8 1538.5,1440.5 1539.4,1442.1 1541,1443 1542.8,1442.8 1550.6,1439.6 1552.3,1438.1 1553,1435.9 1551.7,1433.3 1542,1426.2 1540.5,1425.6ZM1587.7,1429.2 1586.5,1426.7 1584.1,1424.8 1581.9,1424.1 1577.9,1424.4 1575.5,1425.7 1574.6,1432 1580.2,1438.8 1581.8,1439.7 1583.7,1439.6 1587.1,1437.7 1587.7,1435.9ZM1566.7,1448.7 1565.8,1450.3 1565.9,1452.2 1567.1,1453.6 1569,1454.2 1570.6,1453.9 1571.7,1452.9 1572.3,1451.4 1572.1,1449.9 1571.2,1448.6 1569.6,1447.9 1568.1,1447.9ZM1516.1,1449.3 1515.7,1450.9 1516.2,1452.5 1517.4,1453.6 1518.9,1454 1526.5,1453.6 1527.7,1452.5 1528.1,1451 1527.8,1448.2 1526.6,1447 1524.1,1445.5 1521.8,1445.1 1518.1,1446.2ZM1585.8,1420.5 1585.8,1423.4 1589,1426 1594.8,1425.2 1596.3,1424.4 1597.5,1422.4 1597.5,1420.6 1596.5,1419 1594.8,1418.3 1589.7,1417.7 1587.8,1418ZM1746.6,1414.5 1746.6,1416.2 1747.4,1417.7 1748.8,1418.5 1755.5,1420 1761.2,1415.1 1762.1,1413.4 1761.9,1411.4 1759.9,1408.7 1757.9,1408.4 1750.1,1409.5 1748.5,1410.2ZM1526.8,1415.1 1526.8,1416.7 1527.5,1418 1532.6,1424.2 1534.4,1425.2 1536.4,1425 1539,1423.8 1540.5,1422.4 1543.8,1415.5 1543.4,1414 1542.4,1412.8 1540.9,1412.3 1530.6,1411.4 1527.9,1412.4ZM1639.6,1446.5 1640.8,1445.4 1641.3,1443.9 1641.5,1440.5 1641.1,1438.6 1639.7,1437.4 1635.4,1435.4 1633.6,1435.2 1632,1435.9 1629.8,1438.4 1629.6,1439.8 1630.7,1447 1632.5,1448.5 1634.1,1449ZM1576.3,1416 1574.8,1416.2 1573.5,1417.1 1572.8,1418.5 1572.9,1420.1 1575.1,1422.5 1577.6,1422.6 1579.1,1422.1 1580.2,1421 1580.6,1419.5 1580.2,1417.9 1579.2,1416.8ZM1870.2,1402.6 1868.6,1402.9 1867.3,1404.1 1866.8,1405.7 1867,1409.4 1873.3,1414.7 1874.8,1415.3 1876.3,1415.2 1877.7,1414.3 1878.4,1412.8 1879.6,1406.9 1879.5,1405.1 1878.4,1403.7 1876.7,1403ZM1689.6,1437.5 1689.4,1435.8 1688.3,1434.3 1680.4,1428.7 1678.6,1428.1 1676.8,1428.6 1671,1432.3 1669.6,1434.4 1669.8,1436.7 1673.4,1443.2 1675.1,1444.7 1677.3,1445.5 1680.2,1445.2 1688,1440.3 1689,1439.4ZM1972.4,1385 1962.1,1382.9 1960.7,1383.7 1959.9,1385 1961.3,1395.4 1962.3,1397.2 1964.1,1398 1971.1,1398.9 1972.8,1398.6 1974.2,1397.5 1974.7,1395.8 1974.6,1386.8ZM1780.7,1409.8 1778.1,1408.9 1776.7,1409.5 1770.2,1414.4 1769.9,1416 1770.5,1417.6 1773.5,1422.1 1775.1,1423.3 1777,1423.4 1780.1,1422.6 1781.6,1421.8 1782.4,1420.3 1783.8,1413.3ZM1687.4,1442.8 1682.6,1446.4 1682.2,1448.1 1682.9,1449.8 1684.2,1450.8 1686,1451 1690.8,1450.2 1692.3,1449.5 1693.3,1448.1 1693.4,1446.5 1692.8,1445 1690.4,1442.6 1688.9,1442.3ZM1516.6,1419.2 1514.8,1420 1513.9,1421.6 1514,1423.5 1516.6,1429 1524.3,1431.1 1529.1,1428.3 1530.3,1426.9 1530.5,1425.2 1529.8,1423.6 1524.9,1418.4ZM1734.3,1434.9 1733.9,1436.7 1734.5,1438.4 1735.9,1439.6 1740.4,1439.1 1741.9,1438.3 1742.8,1436.8 1742.8,1435.1 1741.8,1433.6 1738.7,1431.5 1736.9,1431.8ZM1852.9,1401.7 1852.2,1403.1 1852.2,1404.7 1854.1,1411.2 1855.1,1412.8 1856.9,1413.5 1858.8,1413.1 1864.5,1409.3 1865,1405 1864.5,1403.1 1862.9,1401.9 1857.3,1399.8 1855.4,1399.7ZM1603.1,1419.2 1600.4,1420.2 1599,1423.6 1598.9,1425.3 1601.3,1428.6 1603,1429.6 1605,1429.3 1608.8,1427.5 1610.1,1426.3 1610.6,1424.7 1610.2,1423 1608.2,1420.1ZM1978.2,1380.7 1978.4,1383.5 1979.4,1384.6 1989.1,1386.3 1991,1386 1992.3,1384.7 1993.2,1382.6 1992.3,1380 1987.2,1375.6 1982.2,1375.8 1980.6,1376.4ZM1508.6,1424.3 1501.4,1428.6 1500.9,1430.1 1501.2,1431.6 1503,1435.5 1504.2,1436.9 1506,1437.4 1509.7,1436.9 1513.7,1431.3 1514.2,1429.9 1513.1,1425.9 1512,1424.5 1510.3,1423.9ZM1530,1450.6 1530.3,1452.3 1531.5,1453.6 1533.2,1454 1540.1,1453.7 1541.8,1451.3 1540.8,1447.2 1539.8,1445.7 1538.2,1444.9 1536.5,1445.2 1531.9,1447.3 1530.5,1448.4ZM1784.3,1420.3 1784.4,1422.2 1785.6,1423.7 1789.6,1425.8 1791.3,1425.3 1797.2,1421.8 1798.3,1420.8 1798.7,1418 1794.5,1413.5 1793.3,1412.7 1791.7,1412.6 1786.4,1414.1 1785.5,1415.6ZM1669.4,1423.8 1667.9,1424.5 1666.9,1425.9 1666.7,1427.6 1667.5,1429.1 1668.7,1430 1670.2,1430.2 1671.7,1429.7 1672.9,1428.4 1673.2,1426.7 1672.6,1425.1 1671.3,1424ZM1496.7,1446.3 1495.2,1447.2 1494.4,1448.7 1494.2,1452.1 1495.4,1453.5 1497.2,1454.1 1500.9,1453.6 1502,1452.3 1502.4,1450.6 1501.7,1448.9 1499,1446.3ZM1563.1,1437.9 1556.4,1436.7 1554.2,1438.4 1553.7,1439.9 1554,1441.3 1557.5,1449.1 1558.4,1450.3 1559.8,1450.9 1561.3,1450.8 1565.4,1447.4 1566.3,1446.1 1565.5,1440.4 1564.6,1438.8ZM1579.1,1440.2 1573.8,1434.8 1572.3,1434.6 1570.8,1435.2 1567.4,1438.3 1567.2,1440.1 1568.9,1445.3 1570.5,1446.2 1576.9,1447.2 1578.2,1446.5 1579,1445.3 1579.9,1441.8ZM1874.9,1391 1873,1390.5 1871.3,1391.2 1870.2,1392.8 1869,1396.8 1869,1398.7 1870.1,1400.2 1871.9,1400.9 1879.8,1401.5 1882.2,1400.6 1883.4,1399.1 1883,1396.1ZM1850.2,1401.7 1853.5,1397.6 1853.5,1396.1 1852.7,1394.7 1851.4,1393.9 1849.8,1393.8 1842.6,1395.2 1840.8,1396.2 1839.9,1398.7 1840.2,1400.5 1841.5,1401.8 1843.2,1402.2ZM1935.1,1392.8 1934.5,1394.5 1934.9,1396.3 1936.7,1399.7 1938.1,1401 1942.7,1401 1944.2,1400.5 1945.2,1399.3 1945.5,1391.1 1944.9,1389.3 1943.5,1388.2 1940.9,1387.3 1939.5,1387.7ZM1719,1419.2 1720.5,1421.4 1723.2,1422.4 1724.8,1422 1726,1420.7 1727.2,1417.3 1726.5,1415.6 1725.1,1414.6 1721.4,1414.9 1720,1415.6 1719,1416.9ZM1695.6,1428.8 1695.7,1430.6 1696.8,1432 1698.5,1432.7 1704.4,1432.7 1706.2,1430.6 1707.6,1425.1 1707.5,1423.3 1703.7,1419.7 1702.5,1419.1 1699.6,1419.4 1698,1420.3 1697.1,1421.9ZM1513,1435.8 1512.6,1438.6 1516.4,1442.9 1517.8,1443.7 1519.3,1443.8 1521.8,1442.7 1522.6,1440.9 1523.2,1435.8 1523.1,1434.3 1522.2,1433.1 1518.3,1431.7 1516.3,1431.8 1514.8,1433Z"/>
<ellipse cx="1846.6" cy="1461.2" rx="26" ry="8" transform="rotate(-14 1846.6 1461.2)" fill="#fff"/>
<ellipse cx="1922" cy="1427.4" rx="15" ry="6.5" transform="rotate(-8 1922 1427.4)" fill="#fff"/>
<ellipse cx="1966" cy="1419.6" rx="12" ry="6" transform="rotate(-8 1966 1419.6)" fill="#fff"/>
<ellipse cx="1516.4" cy="1505.4" rx="23" ry="8" transform="rotate(15 1516.4 1505.4)" fill="#fff"/>
<ellipse cx="1702" cy="1478" rx="20" ry="4" transform="rotate(-10 1702 1478)" fill="#fff"/>
<ellipse cx="1640" cy="1466" rx="26" ry="3.5" transform="rotate(-6 1640 1466)" fill="#fff"/>
<ellipse cx="1760" cy="1462" rx="30" ry="3" transform="rotate(-12 1760 1462)" fill="#fff"/>
<ellipse cx="1735" cy="1500" rx="24" ry="11" fill="#c49cc8" stroke="#8e5a90" stroke-width="1.6"/>
<ellipse cx="1728" cy="1499" rx="8" ry="5" fill="#a878ac"/>
<ellipse cx="1745" cy="1502" rx="6" ry="4" fill="#b088b4"/>
<ellipse cx="1919" cy="1463.8" rx="31" ry="22" fill="#caa4cc" stroke="#8e5a90" stroke-width="1.6"/>
<ellipse cx="1903" cy="1455" rx="9" ry="12" fill="#a070a4"/>
<ellipse cx="1930" cy="1466" rx="12" ry="11" fill="#dcc0dc" stroke="#9a6a9c" stroke-width="1.2"/>
<ellipse cx="1906" cy="1476" rx="8" ry="6" fill="#b088b4"/>
<g opacity="0.45"><rect x="1492.5" y="1300" width="510" height="330" filter="url(#epi)" clip-path="url(#eps)"/></g>
</g>
<path d="M1492.5,1351.0 C1495.6,1352.5 1505.0,1357.2 1511.3,1360.0 C1517.6,1362.7 1523.8,1365.1 1530.1,1367.4 C1536.4,1369.6 1542.6,1370.4 1548.9,1373.4 C1555.2,1376.3 1561.4,1381.4 1567.7,1385.0 C1574.0,1388.6 1580.2,1391.3 1586.5,1394.8 C1592.7,1398.3 1599.0,1405.4 1605.3,1406.0 C1611.5,1406.6 1617.8,1401.4 1624.1,1398.2 C1630.3,1394.9 1636.6,1389.8 1642.9,1386.6 C1649.1,1383.3 1655.4,1380.2 1661.7,1378.7 C1667.9,1377.2 1674.2,1378.3 1680.5,1377.7 C1686.7,1377.1 1693.0,1375.6 1699.3,1375.1 C1705.5,1374.6 1711.8,1376.5 1718.1,1374.8 C1724.3,1373.2 1730.6,1368.0 1736.9,1365.2 C1743.1,1362.4 1749.4,1359.1 1755.6,1357.8 C1761.9,1356.5 1768.2,1359.0 1774.4,1357.6 C1780.7,1356.2 1787.0,1351.0 1793.2,1349.6 C1799.5,1348.2 1805.8,1348.7 1812.0,1349.2 C1818.3,1349.7 1824.6,1353.0 1830.8,1352.6 C1837.1,1352.2 1843.4,1348.0 1849.6,1346.6 C1855.9,1345.2 1862.2,1345.4 1868.4,1344.4 C1874.7,1343.4 1881.0,1341.6 1887.2,1340.5 C1893.5,1339.4 1899.8,1338.5 1906.0,1337.9 C1912.3,1337.3 1918.5,1338.2 1924.8,1337.1 C1931.1,1336.0 1937.3,1332.5 1943.6,1331.1 C1949.9,1329.7 1956.1,1329.7 1962.4,1328.7 C1968.7,1327.7 1974.9,1326.8 1981.2,1325.3 C1987.5,1323.8 1996.9,1320.7 2000.0,1319.7" fill="none" stroke="#c98ab8" stroke-width="1.4" opacity="0.8"/>
<path d="M1492.5,1559.8 C1495.6,1559.4 1505.0,1558.6 1511.3,1557.3 C1517.6,1556.1 1523.8,1553.8 1530.1,1552.4 C1536.4,1550.9 1542.6,1550.4 1548.9,1548.7 C1555.2,1547.1 1561.4,1544.5 1567.7,1542.5 C1574.0,1540.5 1580.2,1539.2 1586.5,1536.8 C1592.7,1534.5 1599.0,1532.2 1605.3,1528.2 C1611.5,1524.2 1617.8,1515.8 1624.1,1512.9 C1630.3,1510.1 1636.6,1510.0 1642.9,1511.1 C1649.1,1512.2 1655.4,1517.1 1661.7,1519.4 C1667.9,1521.7 1674.2,1523.0 1680.5,1524.9 C1686.7,1526.8 1693.0,1529.4 1699.3,1531.0 C1705.5,1532.6 1711.8,1533.2 1718.1,1534.3 C1724.3,1535.3 1730.6,1536.9 1736.9,1537.2 C1743.1,1537.5 1749.4,1536.2 1755.6,1536.1 C1761.9,1536.0 1768.2,1536.8 1774.4,1536.6 C1780.7,1536.5 1787.0,1535.5 1793.2,1535.1 C1799.5,1534.6 1805.8,1534.5 1812.0,1533.7 C1818.3,1532.9 1824.6,1531.2 1830.8,1530.4 C1837.1,1529.5 1843.4,1529.6 1849.6,1528.5 C1855.9,1527.5 1862.2,1525.1 1868.4,1523.9 C1874.7,1522.6 1881.0,1522.4 1887.2,1521.0 C1893.5,1519.6 1899.8,1517.3 1906.0,1515.7 C1912.3,1514.1 1918.5,1513.1 1924.8,1511.5 C1931.1,1510.0 1937.3,1507.6 1943.6,1506.3 C1949.9,1504.9 1956.1,1505.2 1962.4,1503.3 C1968.7,1501.4 1974.9,1501.3 1981.2,1494.8 C1987.5,1488.3 1996.9,1469.6 2000.0,1464.6" fill="none" stroke="#c98ab8" stroke-width="1.4" opacity="0.8"/>
</g>
<circle cx="1812" cy="1618" r="2.2" fill="#b05070"/>
<circle cx="1803" cy="1634" r="2.2" fill="#b05070"/>
<circle cx="1997" cy="1626" r="2" fill="#b05070"/>
<circle cx="1502" cy="1668.5" r="1.6" fill="#b8b8c0"/>
<circle cx="1395" cy="1663" r="1.2" fill="#b8b8c0"/>
<polygon points="1566.2,1099.0 1577.6,1099.0 1577.6,1135.2 1589.0,1135.2 1571.8,1169.1 1554.6,1135.2 1566.2,1135.2" fill="#0c1f63"/>
<text x="1598.0" y="1146.3" font-size="37.6" fill="#000" text-anchor="start" >Inflammatory infiltrate</text>
<text x="1195.3" y="1256.3" font-size="38.2" fill="#000" text-anchor="middle" >Vehicle</text>
<text x="1727.6" y="1256.3" font-size="37.4" fill="#000" text-anchor="middle" >0.3 mg/kg SAR’336</text>
<line x1="954.5" y1="1644.5" x2="954.5" y2="1670.5" stroke="#666" stroke-width="2.6"/><line x1="1029.5" y1="1644.5" x2="1029.5" y2="1670.5" stroke="#555" stroke-width="2.6"/><line x1="954.5" y1="1657.5" x2="1029.5" y2="1657.5" stroke="#7a7a7a" stroke-width="2.2"/><text x="1041.0" y="1664.5" font-size="20" font-weight="bold" letter-spacing="0.8" font-family="DejaVu Sans, sans-serif" fill="#111">100µm</text>
<line x1="1510.7" y1="1636.0" x2="1510.7" y2="1663.2" stroke="#666" stroke-width="2.6"/><line x1="1585.8" y1="1636.0" x2="1585.8" y2="1663.2" stroke="#555" stroke-width="2.6"/><line x1="1510.7" y1="1649.0" x2="1585.8" y2="1649.0" stroke="#7a7a7a" stroke-width="2.2"/><text x="1596.3" y="1656.0" font-size="20" font-weight="bold" letter-spacing="0.8" font-family="DejaVu Sans, sans-serif" fill="#111">100µm</text>
</svg>
</body></html>
